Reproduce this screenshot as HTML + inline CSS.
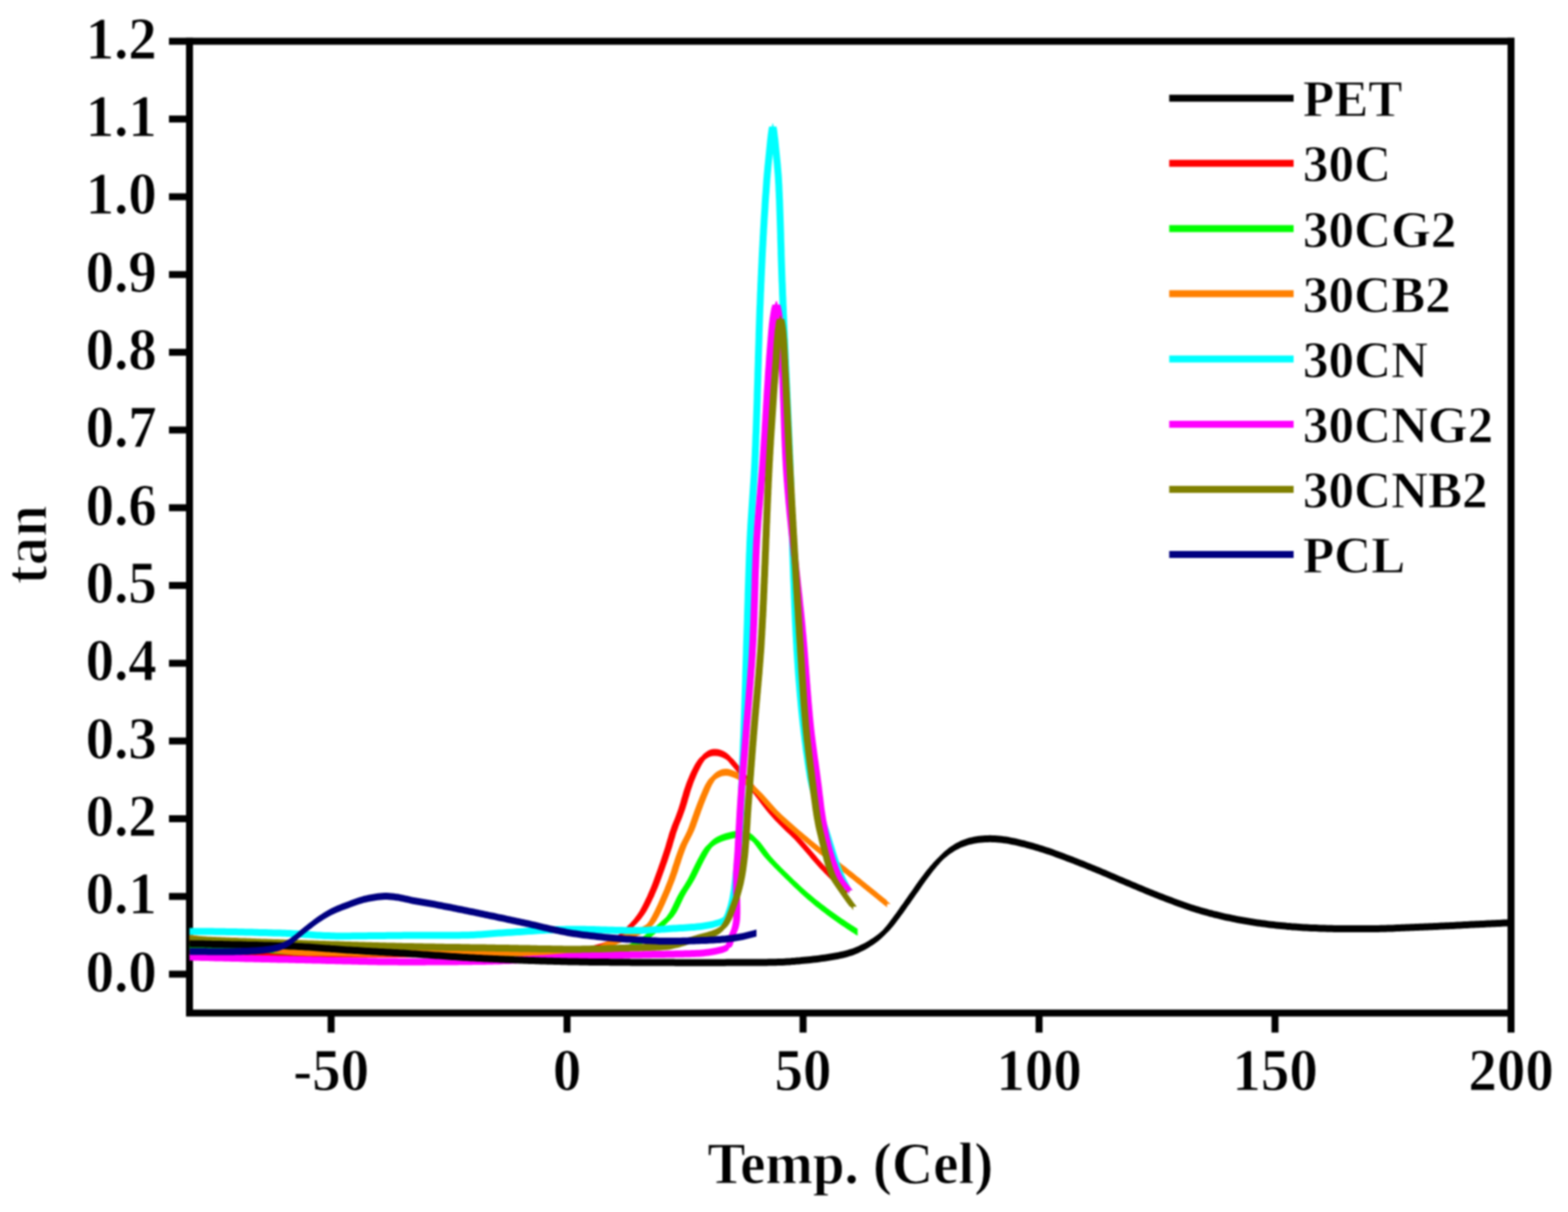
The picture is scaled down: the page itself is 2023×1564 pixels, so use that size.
<!DOCTYPE html>
<html lang="en"><head><meta charset="utf-8"><title>tan delta vs temperature</title>
<style>html,body{margin:0;padding:0;background:#fff;}body{width:2023px;height:1564px;overflow:hidden;}svg{display:block;}text{font-family:'Liberation Serif', 'DejaVu Serif', serif;font-weight:bold;fill:#000;}</style>
</head><body>
<svg width="2023" height="1564" viewBox="0 0 2023 1564" style="filter:blur(1.20px)">
<rect x="0" y="0" width="2023" height="1564" fill="#ffffff"/>
<g stroke="#000" stroke-width="9.0" fill="none" stroke-linecap="butt">
<path d="M244.5 48.8 V1307.3 H1949.5 V48.8" />
<path d="M218.0 53.3 H1954.0" />
<path d="M218.0 1257.1 H244.5"/>
<path d="M218.0 1156.8 H244.5"/>
<path d="M218.0 1056.5 H244.5"/>
<path d="M218.0 956.2 H244.5"/>
<path d="M218.0 855.9 H244.5"/>
<path d="M218.0 755.5 H244.5"/>
<path d="M218.0 655.2 H244.5"/>
<path d="M218.0 554.9 H244.5"/>
<path d="M218.0 454.6 H244.5"/>
<path d="M218.0 354.3 H244.5"/>
<path d="M218.0 253.9 H244.5"/>
<path d="M218.0 153.6 H244.5"/>
<path d="M427.2 1307.3 V1332.5"/>
<path d="M731.6 1307.3 V1332.5"/>
<path d="M1036.1 1307.3 V1332.5"/>
<path d="M1340.6 1307.3 V1332.5"/>
<path d="M1645.0 1307.3 V1332.5"/>
<path d="M1949.5 1307.3 V1332.5"/>
</g>
<clipPath id="plotclip"><rect x="244.0" y="53.3" width="1706.0" height="1254.0"/></clipPath>
<g clip-path="url(#plotclip)" stroke="none" fill-rule="nonzero">
<path fill="#ff0000" d="M244.5 1225.5 L247.5 1225.5 L250.5 1225.6 L253.5 1225.6 L256.5 1225.6 L259.5 1225.7 L262.5 1225.7 L265.5 1225.7 L268.6 1225.7 L271.6 1225.8 L274.6 1225.8 L277.6 1225.8 L280.6 1225.8 L283.6 1225.9 L286.6 1225.9 L289.6 1225.9 L292.6 1225.9 L295.6 1226.0 L298.6 1226.0 L301.6 1226.0 L304.6 1226.0 L307.6 1226.0 L310.6 1226.1 L313.7 1226.1 L316.7 1226.1 L319.7 1226.1 L322.7 1226.1 L325.7 1226.2 L328.7 1226.2 L331.7 1226.2 L334.7 1226.2 L337.7 1226.2 L340.7 1226.2 L343.7 1226.2 L346.7 1226.3 L349.7 1226.3 L352.7 1226.3 L355.7 1226.3 L358.7 1226.3 L361.8 1226.3 L364.8 1226.3 L367.8 1226.3 L370.8 1226.4 L373.8 1226.4 L376.8 1226.4 L379.8 1226.4 L382.8 1226.4 L385.8 1226.4 L388.8 1226.4 L391.8 1226.4 L394.8 1226.4 L397.8 1226.4 L400.8 1226.4 L403.8 1226.4 L406.9 1226.4 L409.9 1226.5 L412.9 1226.5 L415.9 1226.5 L418.9 1226.5 L421.9 1226.5 L424.9 1226.5 L427.9 1226.5 L430.9 1226.5 L433.9 1226.5 L436.9 1226.5 L439.9 1226.5 L442.9 1226.5 L445.9 1226.5 L448.9 1226.5 L452.0 1226.5 L455.0 1226.5 L458.0 1226.5 L461.0 1226.5 L464.0 1226.5 L467.0 1226.5 L470.0 1226.5 L473.0 1226.5 L476.0 1226.5 L479.0 1226.5 L482.0 1226.5 L485.0 1226.5 L488.0 1226.5 L491.0 1226.5 L494.0 1226.5 L497.1 1226.5 L500.1 1226.5 L503.1 1226.4 L506.1 1226.4 L509.1 1226.4 L512.1 1226.4 L515.1 1226.4 L518.1 1226.4 L521.1 1226.4 L524.1 1226.4 L527.1 1226.4 L530.1 1226.3 L533.1 1226.3 L536.1 1226.3 L539.1 1226.3 L542.2 1226.3 L545.2 1226.3 L548.2 1226.2 L551.2 1226.2 L554.2 1226.2 L557.2 1226.2 L560.2 1226.2 L563.2 1226.1 L566.2 1226.1 L569.2 1226.1 L572.2 1226.1 L575.2 1226.0 L578.2 1226.0 L581.2 1226.0 L584.3 1226.0 L587.3 1225.9 L590.3 1225.9 L593.3 1225.9 L596.3 1225.9 L599.3 1225.8 L602.3 1225.8 L605.3 1225.8 L608.3 1225.7 L611.3 1225.7 L614.3 1225.7 L617.3 1225.6 L620.3 1225.6 L623.3 1225.6 L626.3 1225.5 L629.3 1225.5 L632.4 1225.5 L635.4 1225.4 L638.4 1225.4 L641.4 1225.4 L644.4 1225.3 L647.4 1225.3 L650.4 1225.2 L653.4 1225.2 L656.4 1225.2 L659.4 1225.1 L662.4 1225.1 L665.4 1225.0 L668.4 1225.0 L671.4 1224.9 L674.4 1224.9 L677.4 1224.9 L680.5 1224.8 L683.5 1224.8 L686.5 1224.7 L689.5 1224.7 L692.5 1224.6 L695.5 1224.6 L698.5 1224.5 L701.5 1224.5 L704.5 1224.4 L707.5 1224.3 L710.5 1224.3 L713.5 1224.2 L716.5 1224.1 L719.6 1224.0 L722.6 1223.9 L725.6 1223.8 L728.6 1223.7 L731.6 1223.5 L734.6 1223.4 L737.6 1223.2 L740.6 1223.1 L743.6 1222.9 L746.6 1222.7 L749.6 1222.4 L752.5 1222.1 L755.5 1221.7 L758.5 1221.3 L761.5 1220.8 L764.4 1220.2 L767.4 1219.5 L770.3 1218.8 L773.2 1218.1 L776.1 1217.2 L779.0 1216.3 L781.8 1215.3 L784.6 1214.2 L787.3 1213.0 L790.0 1211.7 L792.5 1210.2 L794.9 1208.6 L797.3 1206.8 L799.6 1204.9 L801.8 1202.9 L804.0 1200.8 L806.2 1198.6 L808.3 1196.4 L810.4 1194.2 L812.6 1192.0 L814.7 1189.8 L816.8 1187.7 L818.8 1185.5 L820.9 1183.2 L822.8 1180.9 L824.6 1178.6 L826.3 1176.2 L828.0 1173.7 L829.6 1171.2 L831.1 1168.6 L832.5 1165.9 L833.9 1163.3 L835.3 1160.6 L836.6 1157.8 L837.9 1155.1 L839.2 1152.4 L840.4 1149.6 L841.6 1146.8 L842.8 1144.1 L844.0 1141.3 L845.1 1138.5 L846.2 1135.7 L847.2 1132.9 L848.3 1130.0 L849.3 1127.2 L850.3 1124.4 L851.4 1121.6 L852.4 1118.7 L853.4 1115.9 L854.4 1113.1 L855.4 1110.2 L856.4 1107.4 L857.4 1104.5 L858.3 1101.7 L859.3 1098.8 L860.2 1096.0 L861.2 1093.1 L862.1 1090.3 L863.0 1087.4 L863.8 1084.5 L864.7 1081.6 L865.5 1078.8 L866.4 1075.9 L867.2 1073.0 L868.1 1070.1 L869.1 1067.3 L870.1 1064.4 L871.1 1061.6 L872.2 1058.8 L873.3 1056.0 L874.5 1053.2 L875.6 1050.4 L876.7 1047.6 L877.7 1044.8 L878.7 1042.0 L879.7 1039.2 L880.6 1036.3 L881.5 1033.4 L882.4 1030.5 L883.2 1027.6 L884.0 1024.8 L884.9 1021.9 L885.7 1019.0 L886.6 1016.1 L887.5 1013.2 L888.5 1010.4 L889.5 1007.6 L890.5 1004.7 L891.6 1001.9 L892.8 999.2 L893.9 996.4 L895.2 993.6 L896.4 990.9 L897.8 988.2 L899.2 985.5 L900.6 982.8 L902.1 980.2 L903.8 977.7 L905.6 975.3 L907.6 973.1 L909.8 971.2 L912.2 969.5 L914.8 968.1 L917.5 967.1 L920.3 966.6 L923.2 966.5 L926.2 966.8 L929.1 967.5 L931.9 968.5 L934.5 969.7 L937.0 971.2 L939.2 973.0 L941.4 975.0 L943.4 977.3 L945.3 979.6 L947.3 981.9 L949.3 984.2 L951.2 986.5 L953.1 988.8 L955.0 991.1 L956.9 993.5 L958.7 995.9 L960.6 998.2 L962.4 1000.6 L964.2 1003.1 L966.0 1005.5 L967.8 1007.9 L969.6 1010.3 L971.4 1012.7 L973.2 1015.1 L975.0 1017.5 L976.8 1019.9 L978.6 1022.3 L980.5 1024.7 L982.3 1027.1 L984.1 1029.5 L985.9 1031.9 L987.7 1034.3 L989.6 1036.7 L991.4 1039.1 L993.3 1041.4 L995.2 1043.7 L997.1 1046.0 L999.1 1048.3 L1001.1 1050.5 L1003.1 1052.7 L1005.2 1054.9 L1007.3 1057.1 L1009.4 1059.2 L1011.5 1061.3 L1013.7 1063.4 L1015.9 1065.5 L1018.1 1067.5 L1020.2 1069.6 L1022.4 1071.7 L1024.6 1073.8 L1026.7 1075.9 L1028.8 1078.1 L1030.9 1080.2 L1032.9 1082.4 L1034.9 1084.7 L1036.9 1086.9 L1038.9 1089.2 L1040.9 1091.4 L1042.8 1093.7 L1044.8 1096.0 L1046.7 1098.3 L1048.7 1100.6 L1050.6 1102.9 L1052.6 1105.2 L1054.6 1107.4 L1056.6 1109.7 L1058.6 1111.9 L1060.6 1114.2 L1062.6 1116.4 L1064.7 1118.6 L1066.8 1120.7 L1068.9 1122.9 L1071.0 1125.0 L1073.1 1127.2 L1075.2 1129.3 L1077.4 1131.3 L1079.6 1133.4 L1081.8 1135.5 L1084.0 1137.5 L1086.2 1139.5 L1088.5 1141.5 L1090.7 1143.5 L1093.0 1145.5 L1093.0 1154.5 L1090.7 1152.5 L1088.5 1150.5 L1086.2 1148.5 L1084.0 1146.5 L1081.8 1144.5 L1079.6 1142.4 L1077.4 1140.3 L1075.2 1138.3 L1073.1 1136.2 L1071.0 1134.0 L1068.9 1131.9 L1066.8 1129.7 L1064.7 1127.6 L1062.6 1125.4 L1060.6 1123.2 L1058.6 1120.9 L1056.6 1118.7 L1054.6 1116.4 L1052.6 1114.2 L1050.6 1111.9 L1048.7 1109.6 L1046.7 1107.3 L1044.8 1105.0 L1042.8 1102.7 L1040.9 1100.4 L1038.9 1098.2 L1036.9 1095.9 L1034.9 1093.7 L1032.9 1091.4 L1030.9 1089.2 L1028.8 1087.1 L1026.7 1084.9 L1024.6 1082.8 L1022.4 1080.7 L1020.2 1078.6 L1018.1 1076.5 L1015.9 1074.5 L1013.7 1072.4 L1011.5 1070.3 L1009.4 1068.2 L1007.3 1066.1 L1005.2 1063.9 L1003.1 1061.7 L1001.1 1059.5 L999.1 1057.3 L997.1 1055.0 L995.2 1052.7 L993.3 1050.4 L991.4 1048.1 L989.6 1045.7 L987.7 1043.3 L985.9 1040.9 L984.1 1038.5 L982.3 1036.1 L980.5 1033.7 L978.6 1031.3 L976.8 1028.9 L975.0 1026.5 L973.2 1024.1 L971.4 1021.7 L969.6 1019.3 L967.8 1016.9 L966.0 1014.5 L964.2 1012.1 L962.4 1009.6 L960.6 1007.2 L958.7 1004.9 L956.9 1002.5 L955.0 1000.1 L953.1 997.8 L951.2 995.5 L949.3 993.2 L947.3 990.9 L945.3 988.6 L943.4 986.3 L941.4 984.0 L939.2 982.0 L937.0 980.2 L934.5 978.7 L931.9 977.5 L929.1 976.5 L926.2 975.8 L923.2 975.5 L920.3 975.6 L917.5 976.1 L914.8 977.1 L912.2 978.5 L909.8 980.2 L907.6 982.1 L905.6 984.3 L903.8 986.7 L902.1 989.2 L900.6 991.8 L899.2 994.5 L897.8 997.2 L896.4 999.9 L895.2 1002.6 L893.9 1005.4 L892.8 1008.2 L891.6 1010.9 L890.5 1013.7 L889.5 1016.6 L888.5 1019.4 L887.5 1022.2 L886.6 1025.1 L885.7 1028.0 L884.9 1030.9 L884.0 1033.8 L883.2 1036.6 L882.4 1039.5 L881.5 1042.4 L880.6 1045.3 L879.7 1048.2 L878.7 1051.0 L877.7 1053.8 L876.7 1056.6 L875.6 1059.4 L874.5 1062.2 L873.3 1065.0 L872.2 1067.8 L871.1 1070.6 L870.1 1073.4 L869.1 1076.3 L868.1 1079.1 L867.2 1082.0 L866.4 1084.9 L865.5 1087.8 L864.7 1090.6 L863.8 1093.5 L863.0 1096.4 L862.1 1099.3 L861.2 1102.1 L860.2 1105.0 L859.3 1107.8 L858.3 1110.7 L857.4 1113.5 L856.4 1116.4 L855.4 1119.2 L854.4 1122.1 L853.4 1124.9 L852.4 1127.7 L851.4 1130.6 L850.3 1133.4 L849.3 1136.2 L848.3 1139.0 L847.2 1141.9 L846.2 1144.7 L845.1 1147.5 L844.0 1150.3 L842.8 1153.1 L841.6 1155.8 L840.4 1158.6 L839.2 1161.4 L837.9 1164.1 L836.6 1166.8 L835.3 1169.6 L833.9 1172.3 L832.5 1174.9 L831.1 1177.6 L829.6 1180.2 L828.0 1182.7 L826.3 1185.2 L824.6 1187.6 L822.8 1189.9 L820.9 1192.2 L818.8 1194.5 L816.8 1196.7 L814.7 1198.8 L812.6 1201.0 L810.4 1203.2 L808.3 1205.4 L806.2 1207.6 L804.0 1209.8 L801.8 1211.9 L799.6 1213.9 L797.3 1215.8 L794.9 1217.6 L792.5 1219.2 L790.0 1220.7 L787.3 1222.0 L784.6 1223.2 L781.8 1224.3 L779.0 1225.3 L776.1 1226.2 L773.2 1227.1 L770.3 1227.8 L767.4 1228.5 L764.4 1229.2 L761.5 1229.8 L758.5 1230.3 L755.5 1230.7 L752.5 1231.1 L749.6 1231.4 L746.6 1231.7 L743.6 1231.9 L740.6 1232.1 L737.6 1232.2 L734.6 1232.4 L731.6 1232.5 L728.6 1232.7 L725.6 1232.8 L722.6 1232.9 L719.6 1233.0 L716.5 1233.1 L713.5 1233.2 L710.5 1233.3 L707.5 1233.3 L704.5 1233.4 L701.5 1233.5 L698.5 1233.5 L695.5 1233.6 L692.5 1233.6 L689.5 1233.7 L686.5 1233.7 L683.5 1233.8 L680.5 1233.8 L677.4 1233.9 L674.4 1233.9 L671.4 1233.9 L668.4 1234.0 L665.4 1234.0 L662.4 1234.1 L659.4 1234.1 L656.4 1234.2 L653.4 1234.2 L650.4 1234.2 L647.4 1234.3 L644.4 1234.3 L641.4 1234.4 L638.4 1234.4 L635.4 1234.4 L632.4 1234.5 L629.3 1234.5 L626.3 1234.5 L623.3 1234.6 L620.3 1234.6 L617.3 1234.6 L614.3 1234.7 L611.3 1234.7 L608.3 1234.7 L605.3 1234.8 L602.3 1234.8 L599.3 1234.8 L596.3 1234.9 L593.3 1234.9 L590.3 1234.9 L587.3 1234.9 L584.3 1235.0 L581.2 1235.0 L578.2 1235.0 L575.2 1235.0 L572.2 1235.1 L569.2 1235.1 L566.2 1235.1 L563.2 1235.1 L560.2 1235.2 L557.2 1235.2 L554.2 1235.2 L551.2 1235.2 L548.2 1235.2 L545.2 1235.3 L542.2 1235.3 L539.1 1235.3 L536.1 1235.3 L533.1 1235.3 L530.1 1235.3 L527.1 1235.4 L524.1 1235.4 L521.1 1235.4 L518.1 1235.4 L515.1 1235.4 L512.1 1235.4 L509.1 1235.4 L506.1 1235.4 L503.1 1235.4 L500.1 1235.5 L497.1 1235.5 L494.0 1235.5 L491.0 1235.5 L488.0 1235.5 L485.0 1235.5 L482.0 1235.5 L479.0 1235.5 L476.0 1235.5 L473.0 1235.5 L470.0 1235.5 L467.0 1235.5 L464.0 1235.5 L461.0 1235.5 L458.0 1235.5 L455.0 1235.5 L452.0 1235.5 L448.9 1235.5 L445.9 1235.5 L442.9 1235.5 L439.9 1235.5 L436.9 1235.5 L433.9 1235.5 L430.9 1235.5 L427.9 1235.5 L424.9 1235.5 L421.9 1235.5 L418.9 1235.5 L415.9 1235.5 L412.9 1235.5 L409.9 1235.5 L406.9 1235.4 L403.8 1235.4 L400.8 1235.4 L397.8 1235.4 L394.8 1235.4 L391.8 1235.4 L388.8 1235.4 L385.8 1235.4 L382.8 1235.4 L379.8 1235.4 L376.8 1235.4 L373.8 1235.4 L370.8 1235.4 L367.8 1235.3 L364.8 1235.3 L361.8 1235.3 L358.7 1235.3 L355.7 1235.3 L352.7 1235.3 L349.7 1235.3 L346.7 1235.3 L343.7 1235.2 L340.7 1235.2 L337.7 1235.2 L334.7 1235.2 L331.7 1235.2 L328.7 1235.2 L325.7 1235.2 L322.7 1235.1 L319.7 1235.1 L316.7 1235.1 L313.7 1235.1 L310.6 1235.1 L307.6 1235.0 L304.6 1235.0 L301.6 1235.0 L298.6 1235.0 L295.6 1235.0 L292.6 1234.9 L289.6 1234.9 L286.6 1234.9 L283.6 1234.9 L280.6 1234.8 L277.6 1234.8 L274.6 1234.8 L271.6 1234.8 L268.6 1234.7 L265.5 1234.7 L262.5 1234.7 L259.5 1234.7 L256.5 1234.6 L253.5 1234.6 L250.5 1234.6 L247.5 1234.5 L244.5 1234.5Z M916.7 974.0 L914.3 975.7 L912.1 977.6 L910.1 979.8 L908.3 982.2 L906.6 984.7 L905.1 987.3 L903.7 990.0 L902.3 992.7 L900.9 995.4 L899.7 998.1 L898.4 1000.9 L897.3 1003.7 L896.1 1006.4 L895.0 1009.2 L894.0 1012.1 L893.0 1014.9 L892.0 1017.7 L891.1 1020.6 L890.2 1023.5 L889.4 1026.4 L888.5 1029.3 L887.7 1032.1 L886.9 1035.0 L886.0 1037.9 L885.1 1040.8 L884.2 1043.7 L883.2 1046.5 L882.2 1049.3 L881.2 1052.1 L880.1 1054.9 L879.0 1057.7 L877.8 1060.5 L876.7 1063.3 L875.6 1066.1 L874.6 1068.9 L873.6 1071.8 L872.6 1074.6 L871.7 1077.5 L870.9 1080.4 L870.0 1083.3 L869.2 1086.1 L868.3 1089.0 L867.5 1091.9 L866.6 1094.8 L865.7 1097.6 L864.7 1100.5 L863.8 1103.3 L862.8 1106.2 L861.9 1109.0 L860.9 1111.9 L859.9 1114.7 L858.9 1117.6 L857.9 1120.4 L856.9 1123.2 L855.9 1126.1 L854.8 1128.9 L853.8 1131.7 L852.8 1134.5 L851.7 1137.4 L850.7 1140.2 L849.6 1143.0 L848.5 1145.8 L847.3 1148.6 L846.1 1151.3 L844.9 1154.1 L843.7 1156.9 L842.4 1159.6 L841.1 1162.3 L839.8 1165.1 L838.4 1167.8 L837.0 1170.4 L835.6 1173.1 L834.1 1175.7 L832.5 1178.2 L830.8 1180.7 L829.1 1183.1 L827.3 1185.4 L825.4 1187.7 L823.3 1190.0 L821.3 1192.2 L819.2 1194.3 L817.1 1196.5 L814.9 1198.7 L812.8 1200.9 L810.7 1203.1 L808.5 1205.3 L806.3 1207.4 L804.1 1209.4 L801.8 1211.3 L799.4 1213.1 L790.4 1213.1 L792.8 1211.3 L795.1 1209.4 L797.3 1207.4 L799.5 1205.3 L801.7 1203.1 L803.8 1200.9 L805.9 1198.7 L808.1 1196.5 L810.2 1194.3 L812.3 1192.2 L814.3 1190.0 L816.4 1187.7 L818.3 1185.4 L820.1 1183.1 L821.8 1180.7 L823.5 1178.2 L825.1 1175.7 L826.6 1173.1 L828.0 1170.4 L829.4 1167.8 L830.8 1165.1 L832.1 1162.3 L833.4 1159.6 L834.7 1156.9 L835.9 1154.1 L837.1 1151.3 L838.3 1148.6 L839.5 1145.8 L840.6 1143.0 L841.7 1140.2 L842.7 1137.4 L843.8 1134.5 L844.8 1131.7 L845.8 1128.9 L846.9 1126.1 L847.9 1123.2 L848.9 1120.4 L849.9 1117.6 L850.9 1114.7 L851.9 1111.9 L852.9 1109.0 L853.8 1106.2 L854.8 1103.3 L855.7 1100.5 L856.7 1097.6 L857.6 1094.8 L858.5 1091.9 L859.3 1089.0 L860.2 1086.1 L861.0 1083.3 L861.9 1080.4 L862.7 1077.5 L863.6 1074.6 L864.6 1071.8 L865.6 1068.9 L866.6 1066.1 L867.7 1063.3 L868.8 1060.5 L870.0 1057.7 L871.1 1054.9 L872.2 1052.1 L873.2 1049.3 L874.2 1046.5 L875.2 1043.7 L876.1 1040.8 L877.0 1037.9 L877.9 1035.0 L878.7 1032.1 L879.5 1029.3 L880.4 1026.4 L881.2 1023.5 L882.1 1020.6 L883.0 1017.7 L884.0 1014.9 L885.0 1012.1 L886.0 1009.2 L887.1 1006.4 L888.3 1003.7 L889.4 1000.9 L890.7 998.1 L891.9 995.4 L893.3 992.7 L894.7 990.0 L896.1 987.3 L897.6 984.7 L899.3 982.2 L901.1 979.8 L903.1 977.6 L905.3 975.7 L907.7 974.0Z M941.5 975.7 L943.7 977.5 L945.9 979.5 L947.9 981.8 L949.8 984.1 L951.8 986.4 L953.8 988.7 L955.7 991.0 L957.6 993.3 L959.5 995.6 L961.4 998.0 L963.2 1000.4 L965.1 1002.7 L966.9 1005.1 L968.7 1007.6 L970.5 1010.0 L972.3 1012.4 L974.1 1014.8 L975.9 1017.2 L977.7 1019.6 L979.5 1022.0 L981.3 1024.4 L983.1 1026.8 L985.0 1029.2 L986.8 1031.6 L988.6 1034.0 L990.4 1036.4 L992.2 1038.8 L994.1 1041.2 L995.9 1043.6 L997.8 1045.9 L999.7 1048.2 L1001.6 1050.5 L1003.6 1052.8 L1005.6 1055.0 L1007.6 1057.2 L1009.7 1059.4 L1011.8 1061.6 L1013.9 1063.7 L1016.0 1065.8 L1018.2 1067.9 L1020.4 1070.0 L1022.6 1072.0 L1024.7 1074.1 L1026.9 1076.2 L1029.1 1078.3 L1031.2 1080.4 L1033.3 1082.6 L1035.4 1084.7 L1037.4 1086.9 L1039.4 1089.2 L1041.4 1091.4 L1043.4 1093.7 L1045.4 1095.9 L1047.3 1098.2 L1049.3 1100.5 L1051.2 1102.8 L1053.2 1105.1 L1055.1 1107.4 L1057.1 1109.7 L1059.1 1111.9 L1061.1 1114.2 L1063.1 1116.4 L1065.1 1118.7 L1067.1 1120.9 L1069.2 1123.1 L1071.3 1125.2 L1073.4 1127.4 L1075.5 1129.5 L1077.6 1131.7 L1079.7 1133.8 L1081.9 1135.8 L1084.1 1137.9 L1086.3 1140.0 L1088.5 1142.0 L1090.7 1144.0 L1093.0 1146.0 L1095.2 1148.0 L1097.5 1150.0 L1088.5 1150.0 L1086.2 1148.0 L1084.0 1146.0 L1081.7 1144.0 L1079.5 1142.0 L1077.3 1140.0 L1075.1 1137.9 L1072.9 1135.8 L1070.7 1133.8 L1068.6 1131.7 L1066.5 1129.5 L1064.4 1127.4 L1062.3 1125.2 L1060.2 1123.1 L1058.1 1120.9 L1056.1 1118.7 L1054.1 1116.4 L1052.1 1114.2 L1050.1 1111.9 L1048.1 1109.7 L1046.1 1107.4 L1044.2 1105.1 L1042.2 1102.8 L1040.3 1100.5 L1038.3 1098.2 L1036.4 1095.9 L1034.4 1093.7 L1032.4 1091.4 L1030.4 1089.2 L1028.4 1086.9 L1026.4 1084.7 L1024.3 1082.6 L1022.2 1080.4 L1020.1 1078.3 L1017.9 1076.2 L1015.7 1074.1 L1013.6 1072.0 L1011.4 1070.0 L1009.2 1067.9 L1007.0 1065.8 L1004.9 1063.7 L1002.8 1061.6 L1000.7 1059.4 L998.6 1057.2 L996.6 1055.0 L994.6 1052.8 L992.6 1050.5 L990.7 1048.2 L988.8 1045.9 L986.9 1043.6 L985.1 1041.2 L983.2 1038.8 L981.4 1036.4 L979.6 1034.0 L977.8 1031.6 L976.0 1029.2 L974.1 1026.8 L972.3 1024.4 L970.5 1022.0 L968.7 1019.6 L966.9 1017.2 L965.1 1014.8 L963.3 1012.4 L961.5 1010.0 L959.7 1007.6 L957.9 1005.1 L956.1 1002.7 L954.2 1000.4 L952.4 998.0 L950.5 995.6 L948.6 993.3 L946.7 991.0 L944.8 988.7 L942.8 986.4 L940.8 984.1 L938.9 981.8 L936.9 979.5 L934.7 977.5 L932.5 975.7Z"/>
<path fill="#00ff00" d="M244.5 1218.0 L247.5 1218.0 L250.5 1218.0 L253.5 1218.0 L256.5 1218.0 L259.5 1218.0 L262.6 1218.0 L265.6 1218.0 L268.6 1218.0 L271.6 1218.0 L274.6 1218.0 L277.6 1218.0 L280.6 1218.0 L283.6 1218.0 L286.6 1218.0 L289.6 1218.0 L292.6 1218.0 L295.6 1218.0 L298.6 1218.0 L301.6 1218.0 L304.6 1218.1 L307.6 1218.2 L310.7 1218.2 L313.7 1218.3 L316.7 1218.5 L319.7 1218.6 L322.7 1218.8 L325.7 1219.0 L328.7 1219.2 L331.7 1219.4 L334.7 1219.7 L337.7 1219.9 L340.7 1220.2 L343.7 1220.4 L346.7 1220.7 L349.7 1221.0 L352.7 1221.2 L355.7 1221.5 L358.7 1221.8 L361.7 1222.0 L364.7 1222.3 L367.7 1222.5 L370.7 1222.7 L373.7 1223.0 L376.7 1223.2 L379.7 1223.4 L382.7 1223.5 L385.7 1223.7 L388.7 1223.8 L391.7 1223.9 L394.7 1224.0 L397.7 1224.0 L400.7 1224.1 L403.7 1224.1 L406.7 1224.1 L409.7 1224.1 L412.7 1224.2 L415.7 1224.2 L418.7 1224.2 L421.7 1224.2 L424.7 1224.2 L427.7 1224.2 L430.8 1224.2 L433.8 1224.2 L436.8 1224.2 L439.8 1224.3 L442.8 1224.3 L445.8 1224.3 L448.8 1224.3 L451.8 1224.3 L454.8 1224.3 L457.8 1224.3 L460.8 1224.3 L463.8 1224.3 L466.8 1224.3 L469.8 1224.3 L472.8 1224.3 L475.9 1224.4 L478.9 1224.4 L481.9 1224.4 L484.9 1224.4 L487.9 1224.4 L490.9 1224.4 L493.9 1224.4 L496.9 1224.4 L499.9 1224.4 L502.9 1224.4 L505.9 1224.4 L508.9 1224.4 L512.0 1224.4 L515.0 1224.4 L518.0 1224.4 L521.0 1224.4 L524.0 1224.4 L527.0 1224.5 L530.0 1224.5 L533.0 1224.5 L536.0 1224.5 L539.0 1224.5 L542.0 1224.5 L545.0 1224.5 L548.1 1224.5 L551.1 1224.5 L554.1 1224.5 L557.1 1224.5 L560.1 1224.5 L563.1 1224.5 L566.1 1224.5 L569.1 1224.5 L572.1 1224.5 L575.1 1224.5 L578.1 1224.5 L581.1 1224.5 L584.2 1224.5 L587.2 1224.5 L590.2 1224.5 L593.2 1224.5 L596.2 1224.5 L599.2 1224.5 L602.2 1224.5 L605.2 1224.5 L608.2 1224.5 L611.2 1224.5 L614.2 1224.5 L617.2 1224.5 L620.2 1224.5 L623.3 1224.5 L626.3 1224.5 L629.3 1224.5 L632.3 1224.5 L635.3 1224.5 L638.3 1224.5 L641.3 1224.5 L644.3 1224.5 L647.3 1224.5 L650.3 1224.5 L653.3 1224.5 L656.3 1224.5 L659.4 1224.5 L662.4 1224.5 L665.4 1224.5 L668.4 1224.5 L671.4 1224.4 L674.4 1224.4 L677.4 1224.4 L680.4 1224.4 L683.4 1224.4 L686.4 1224.4 L689.4 1224.4 L692.4 1224.4 L695.5 1224.4 L698.5 1224.4 L701.5 1224.4 L704.5 1224.4 L707.5 1224.4 L710.5 1224.4 L713.5 1224.3 L716.5 1224.3 L719.5 1224.3 L722.5 1224.3 L725.5 1224.3 L728.5 1224.3 L731.5 1224.3 L734.5 1224.3 L737.6 1224.3 L740.6 1224.2 L743.6 1224.2 L746.6 1224.2 L749.6 1224.2 L752.6 1224.2 L755.6 1224.2 L758.6 1224.2 L761.6 1224.1 L764.6 1224.1 L767.6 1224.1 L770.6 1224.1 L773.7 1224.0 L776.7 1223.9 L779.7 1223.8 L782.7 1223.7 L785.8 1223.6 L788.8 1223.4 L791.8 1223.1 L794.7 1222.9 L797.7 1222.5 L800.6 1222.0 L803.5 1221.4 L806.3 1220.6 L809.1 1219.6 L811.9 1218.4 L814.7 1217.1 L817.4 1215.8 L820.0 1214.3 L822.7 1212.8 L825.2 1211.3 L827.7 1209.6 L830.2 1207.9 L832.7 1206.2 L835.1 1204.3 L837.5 1202.5 L839.8 1200.6 L842.1 1198.6 L844.4 1196.7 L846.6 1194.7 L848.9 1192.7 L851.2 1190.7 L853.5 1188.7 L855.8 1186.8 L858.1 1184.8 L860.3 1182.7 L862.3 1180.6 L864.3 1178.4 L866.0 1176.1 L867.6 1173.7 L869.1 1171.2 L870.5 1168.5 L871.9 1165.8 L873.2 1163.1 L874.5 1160.3 L875.8 1157.5 L877.1 1154.8 L878.5 1152.1 L879.9 1149.4 L881.5 1146.8 L883.0 1144.3 L884.7 1141.7 L886.3 1139.2 L887.9 1136.7 L889.5 1134.1 L891.0 1131.5 L892.4 1128.9 L893.8 1126.2 L895.2 1123.5 L896.5 1120.8 L897.8 1118.1 L899.1 1115.4 L900.4 1112.7 L901.8 1110.0 L903.2 1107.3 L904.6 1104.6 L906.0 1101.9 L907.5 1099.2 L909.0 1096.5 L910.5 1094.0 L912.2 1091.5 L914.0 1089.1 L915.9 1086.9 L918.0 1084.9 L920.2 1083.0 L922.7 1081.3 L925.2 1079.8 L927.9 1078.4 L930.6 1077.2 L933.4 1076.2 L936.3 1075.2 L939.2 1074.4 L942.1 1073.7 L945.1 1073.1 L948.0 1072.5 L951.0 1072.1 L953.9 1071.8 L956.9 1071.8 L959.8 1072.1 L962.6 1072.8 L965.3 1073.7 L967.8 1075.0 L970.2 1076.6 L972.4 1078.4 L974.4 1080.4 L976.4 1082.6 L978.3 1085.0 L980.2 1087.4 L982.0 1090.0 L983.9 1092.5 L985.7 1095.1 L987.6 1097.5 L989.5 1100.0 L991.5 1102.3 L993.5 1104.6 L995.6 1106.8 L997.6 1109.0 L999.7 1111.1 L1001.8 1113.3 L1003.9 1115.4 L1006.1 1117.6 L1008.2 1119.7 L1010.3 1121.8 L1012.5 1123.9 L1014.6 1126.0 L1016.8 1128.1 L1018.9 1130.2 L1021.1 1132.3 L1023.2 1134.4 L1025.4 1136.5 L1027.6 1138.6 L1029.8 1140.6 L1032.0 1142.7 L1034.2 1144.7 L1036.4 1146.8 L1038.7 1148.8 L1040.9 1150.7 L1043.2 1152.7 L1045.5 1154.6 L1047.8 1156.6 L1050.1 1158.5 L1052.4 1160.4 L1054.8 1162.3 L1057.1 1164.1 L1059.5 1166.0 L1061.9 1167.8 L1064.3 1169.6 L1066.7 1171.4 L1069.1 1173.2 L1071.5 1175.0 L1074.0 1176.7 L1076.4 1178.5 L1078.9 1180.2 L1081.3 1182.0 L1083.8 1183.7 L1086.3 1185.4 L1088.8 1187.1 L1091.3 1188.7 L1093.8 1190.4 L1096.3 1192.0 L1098.8 1193.7 L1101.4 1195.3 L1103.9 1196.9 L1106.5 1198.5 L1106.5 1207.5 L1103.9 1205.9 L1101.4 1204.3 L1098.8 1202.7 L1096.3 1201.0 L1093.8 1199.4 L1091.3 1197.7 L1088.8 1196.1 L1086.3 1194.4 L1083.8 1192.7 L1081.3 1191.0 L1078.9 1189.2 L1076.4 1187.5 L1074.0 1185.7 L1071.5 1184.0 L1069.1 1182.2 L1066.7 1180.4 L1064.3 1178.6 L1061.9 1176.8 L1059.5 1175.0 L1057.1 1173.1 L1054.8 1171.3 L1052.4 1169.4 L1050.1 1167.5 L1047.8 1165.6 L1045.5 1163.6 L1043.2 1161.7 L1040.9 1159.7 L1038.7 1157.8 L1036.4 1155.8 L1034.2 1153.7 L1032.0 1151.7 L1029.8 1149.6 L1027.6 1147.6 L1025.4 1145.5 L1023.2 1143.4 L1021.1 1141.3 L1018.9 1139.2 L1016.8 1137.1 L1014.6 1135.0 L1012.5 1132.9 L1010.3 1130.8 L1008.2 1128.7 L1006.1 1126.6 L1003.9 1124.4 L1001.8 1122.3 L999.7 1120.1 L997.6 1118.0 L995.6 1115.8 L993.5 1113.6 L991.5 1111.3 L989.5 1109.0 L987.6 1106.5 L985.7 1104.1 L983.9 1101.5 L982.0 1099.0 L980.2 1096.4 L978.3 1094.0 L976.4 1091.6 L974.4 1089.4 L972.4 1087.4 L970.2 1085.6 L967.8 1084.0 L965.3 1082.7 L962.6 1081.8 L959.8 1081.1 L956.9 1080.8 L953.9 1080.8 L951.0 1081.1 L948.0 1081.5 L945.1 1082.1 L942.1 1082.7 L939.2 1083.4 L936.3 1084.2 L933.4 1085.2 L930.6 1086.2 L927.9 1087.4 L925.2 1088.8 L922.7 1090.3 L920.2 1092.0 L918.0 1093.9 L915.9 1095.9 L914.0 1098.1 L912.2 1100.5 L910.5 1103.0 L909.0 1105.5 L907.5 1108.2 L906.0 1110.9 L904.6 1113.6 L903.2 1116.3 L901.8 1119.0 L900.4 1121.7 L899.1 1124.4 L897.8 1127.1 L896.5 1129.8 L895.2 1132.5 L893.8 1135.2 L892.4 1137.9 L891.0 1140.5 L889.5 1143.1 L887.9 1145.7 L886.3 1148.2 L884.7 1150.7 L883.0 1153.3 L881.5 1155.8 L879.9 1158.4 L878.5 1161.1 L877.1 1163.8 L875.8 1166.5 L874.5 1169.3 L873.2 1172.1 L871.9 1174.8 L870.5 1177.5 L869.1 1180.2 L867.6 1182.7 L866.0 1185.1 L864.3 1187.4 L862.3 1189.6 L860.3 1191.7 L858.1 1193.8 L855.8 1195.8 L853.5 1197.7 L851.2 1199.7 L848.9 1201.7 L846.6 1203.7 L844.4 1205.7 L842.1 1207.6 L839.8 1209.6 L837.5 1211.5 L835.1 1213.3 L832.7 1215.2 L830.2 1216.9 L827.7 1218.6 L825.2 1220.3 L822.7 1221.8 L820.0 1223.3 L817.4 1224.8 L814.7 1226.1 L811.9 1227.4 L809.1 1228.6 L806.3 1229.6 L803.5 1230.4 L800.6 1231.0 L797.7 1231.5 L794.7 1231.9 L791.8 1232.1 L788.8 1232.4 L785.8 1232.6 L782.7 1232.7 L779.7 1232.8 L776.7 1232.9 L773.7 1233.0 L770.6 1233.1 L767.6 1233.1 L764.6 1233.1 L761.6 1233.1 L758.6 1233.2 L755.6 1233.2 L752.6 1233.2 L749.6 1233.2 L746.6 1233.2 L743.6 1233.2 L740.6 1233.2 L737.6 1233.3 L734.5 1233.3 L731.5 1233.3 L728.5 1233.3 L725.5 1233.3 L722.5 1233.3 L719.5 1233.3 L716.5 1233.3 L713.5 1233.3 L710.5 1233.4 L707.5 1233.4 L704.5 1233.4 L701.5 1233.4 L698.5 1233.4 L695.5 1233.4 L692.4 1233.4 L689.4 1233.4 L686.4 1233.4 L683.4 1233.4 L680.4 1233.4 L677.4 1233.4 L674.4 1233.4 L671.4 1233.4 L668.4 1233.5 L665.4 1233.5 L662.4 1233.5 L659.4 1233.5 L656.3 1233.5 L653.3 1233.5 L650.3 1233.5 L647.3 1233.5 L644.3 1233.5 L641.3 1233.5 L638.3 1233.5 L635.3 1233.5 L632.3 1233.5 L629.3 1233.5 L626.3 1233.5 L623.3 1233.5 L620.2 1233.5 L617.2 1233.5 L614.2 1233.5 L611.2 1233.5 L608.2 1233.5 L605.2 1233.5 L602.2 1233.5 L599.2 1233.5 L596.2 1233.5 L593.2 1233.5 L590.2 1233.5 L587.2 1233.5 L584.2 1233.5 L581.1 1233.5 L578.1 1233.5 L575.1 1233.5 L572.1 1233.5 L569.1 1233.5 L566.1 1233.5 L563.1 1233.5 L560.1 1233.5 L557.1 1233.5 L554.1 1233.5 L551.1 1233.5 L548.1 1233.5 L545.0 1233.5 L542.0 1233.5 L539.0 1233.5 L536.0 1233.5 L533.0 1233.5 L530.0 1233.5 L527.0 1233.5 L524.0 1233.4 L521.0 1233.4 L518.0 1233.4 L515.0 1233.4 L512.0 1233.4 L508.9 1233.4 L505.9 1233.4 L502.9 1233.4 L499.9 1233.4 L496.9 1233.4 L493.9 1233.4 L490.9 1233.4 L487.9 1233.4 L484.9 1233.4 L481.9 1233.4 L478.9 1233.4 L475.9 1233.4 L472.8 1233.3 L469.8 1233.3 L466.8 1233.3 L463.8 1233.3 L460.8 1233.3 L457.8 1233.3 L454.8 1233.3 L451.8 1233.3 L448.8 1233.3 L445.8 1233.3 L442.8 1233.3 L439.8 1233.3 L436.8 1233.2 L433.8 1233.2 L430.8 1233.2 L427.7 1233.2 L424.7 1233.2 L421.7 1233.2 L418.7 1233.2 L415.7 1233.2 L412.7 1233.2 L409.7 1233.1 L406.7 1233.1 L403.7 1233.1 L400.7 1233.1 L397.7 1233.0 L394.7 1233.0 L391.7 1232.9 L388.7 1232.8 L385.7 1232.7 L382.7 1232.5 L379.7 1232.4 L376.7 1232.2 L373.7 1232.0 L370.7 1231.7 L367.7 1231.5 L364.7 1231.3 L361.7 1231.0 L358.7 1230.8 L355.7 1230.5 L352.7 1230.2 L349.7 1230.0 L346.7 1229.7 L343.7 1229.4 L340.7 1229.2 L337.7 1228.9 L334.7 1228.7 L331.7 1228.4 L328.7 1228.2 L325.7 1228.0 L322.7 1227.8 L319.7 1227.6 L316.7 1227.5 L313.7 1227.3 L310.7 1227.2 L307.6 1227.2 L304.6 1227.1 L301.6 1227.0 L298.6 1227.0 L295.6 1227.0 L292.6 1227.0 L289.6 1227.0 L286.6 1227.0 L283.6 1227.0 L280.6 1227.0 L277.6 1227.0 L274.6 1227.0 L271.6 1227.0 L268.6 1227.0 L265.6 1227.0 L262.6 1227.0 L259.5 1227.0 L256.5 1227.0 L253.5 1227.0 L250.5 1227.0 L247.5 1227.0 L244.5 1227.0Z M924.7 1087.5 L922.5 1089.4 L920.4 1091.4 L918.5 1093.6 L916.7 1096.0 L915.0 1098.5 L913.5 1101.0 L912.0 1103.7 L910.5 1106.4 L909.1 1109.1 L907.7 1111.8 L906.3 1114.5 L904.9 1117.2 L903.6 1119.9 L902.3 1122.6 L901.0 1125.3 L899.7 1128.0 L898.3 1130.7 L896.9 1133.4 L895.5 1136.0 L894.0 1138.6 L892.4 1141.2 L890.8 1143.7 L889.2 1146.2 L887.5 1148.8 L886.0 1151.3 L884.4 1153.9 L883.0 1156.6 L881.6 1159.3 L880.3 1162.0 L879.0 1164.8 L877.7 1167.6 L876.4 1170.3 L875.0 1173.0 L873.6 1175.7 L872.1 1178.2 L870.5 1180.6 L868.8 1182.9 L866.8 1185.1 L864.8 1187.2 L862.6 1189.3 L860.3 1191.3 L858.0 1193.2 L855.7 1195.2 L853.4 1197.2 L851.1 1199.2 L848.9 1201.2 L846.6 1203.1 L844.3 1205.1 L842.0 1207.0 L839.6 1208.8 L837.2 1210.7 L834.7 1212.4 L825.7 1212.4 L828.2 1210.7 L830.6 1208.8 L833.0 1207.0 L835.3 1205.1 L837.6 1203.1 L839.9 1201.2 L842.1 1199.2 L844.4 1197.2 L846.7 1195.2 L849.0 1193.2 L851.3 1191.3 L853.6 1189.3 L855.8 1187.2 L857.8 1185.1 L859.8 1182.9 L861.5 1180.6 L863.1 1178.2 L864.6 1175.7 L866.0 1173.0 L867.4 1170.3 L868.7 1167.6 L870.0 1164.8 L871.3 1162.0 L872.6 1159.3 L874.0 1156.6 L875.4 1153.9 L877.0 1151.3 L878.5 1148.8 L880.2 1146.2 L881.8 1143.7 L883.4 1141.2 L885.0 1138.6 L886.5 1136.0 L887.9 1133.4 L889.3 1130.7 L890.7 1128.0 L892.0 1125.3 L893.3 1122.6 L894.6 1119.9 L895.9 1117.2 L897.3 1114.5 L898.7 1111.8 L900.1 1109.1 L901.5 1106.4 L903.0 1103.7 L904.5 1101.0 L906.0 1098.5 L907.7 1096.0 L909.5 1093.6 L911.4 1091.4 L913.5 1089.4 L915.7 1087.5Z M974.7 1081.1 L976.9 1082.9 L978.9 1084.9 L980.9 1087.1 L982.8 1089.5 L984.7 1091.9 L986.5 1094.5 L988.4 1097.0 L990.2 1099.6 L992.1 1102.0 L994.0 1104.5 L996.0 1106.8 L998.0 1109.1 L1000.1 1111.3 L1002.1 1113.5 L1004.2 1115.6 L1006.3 1117.8 L1008.4 1119.9 L1010.6 1122.1 L1012.7 1124.2 L1014.8 1126.3 L1017.0 1128.4 L1019.1 1130.5 L1021.3 1132.6 L1023.4 1134.7 L1025.6 1136.8 L1027.7 1138.9 L1029.9 1141.0 L1032.1 1143.1 L1034.3 1145.1 L1036.5 1147.2 L1038.7 1149.2 L1040.9 1151.3 L1043.2 1153.3 L1045.4 1155.2 L1047.7 1157.2 L1050.0 1159.1 L1052.3 1161.1 L1054.6 1163.0 L1056.9 1164.9 L1059.3 1166.8 L1061.6 1168.6 L1064.0 1170.5 L1066.4 1172.3 L1068.8 1174.1 L1071.2 1175.9 L1073.6 1177.7 L1076.0 1179.5 L1078.5 1181.2 L1080.9 1183.0 L1083.4 1184.7 L1085.8 1186.5 L1076.8 1186.5 L1074.4 1184.7 L1071.9 1183.0 L1069.5 1181.2 L1067.0 1179.5 L1064.6 1177.7 L1062.2 1175.9 L1059.8 1174.1 L1057.4 1172.3 L1055.0 1170.5 L1052.6 1168.6 L1050.3 1166.8 L1047.9 1164.9 L1045.6 1163.0 L1043.3 1161.1 L1041.0 1159.1 L1038.7 1157.2 L1036.4 1155.2 L1034.2 1153.3 L1031.9 1151.3 L1029.7 1149.2 L1027.5 1147.2 L1025.3 1145.1 L1023.1 1143.1 L1020.9 1141.0 L1018.7 1138.9 L1016.6 1136.8 L1014.4 1134.7 L1012.3 1132.6 L1010.1 1130.5 L1008.0 1128.4 L1005.8 1126.3 L1003.7 1124.2 L1001.6 1122.1 L999.4 1119.9 L997.3 1117.8 L995.2 1115.6 L993.1 1113.5 L991.1 1111.3 L989.0 1109.1 L987.0 1106.8 L985.0 1104.5 L983.1 1102.0 L981.2 1099.6 L979.4 1097.0 L977.5 1094.5 L975.7 1091.9 L973.8 1089.5 L971.9 1087.1 L969.9 1084.9 L967.9 1082.9 L965.7 1081.1Z"/>
<path fill="#ff8000" d="M244.5 1206.2 L247.5 1206.6 L250.5 1207.0 L253.4 1207.3 L256.4 1207.7 L259.4 1208.1 L262.4 1208.5 L265.4 1208.8 L268.3 1209.2 L271.3 1209.6 L274.3 1210.0 L277.3 1210.3 L280.3 1210.7 L283.3 1211.1 L286.2 1211.4 L289.2 1211.8 L292.2 1212.2 L295.2 1212.5 L298.2 1212.9 L301.1 1213.3 L304.1 1213.6 L307.1 1214.0 L310.1 1214.3 L313.1 1214.7 L316.1 1215.0 L319.0 1215.4 L322.0 1215.8 L325.0 1216.1 L328.0 1216.5 L331.0 1216.9 L334.0 1217.3 L336.9 1217.8 L339.9 1218.2 L342.9 1218.6 L345.9 1219.1 L348.9 1219.5 L351.9 1219.9 L354.8 1220.4 L357.8 1220.8 L360.8 1221.2 L363.8 1221.6 L366.8 1222.0 L369.8 1222.3 L372.8 1222.7 L375.7 1223.0 L378.7 1223.3 L381.7 1223.5 L384.7 1223.8 L387.7 1224.0 L390.7 1224.1 L393.7 1224.3 L396.7 1224.4 L399.7 1224.5 L402.7 1224.5 L405.7 1224.5 L408.6 1224.6 L411.6 1224.6 L414.6 1224.6 L417.6 1224.6 L420.6 1224.7 L423.6 1224.7 L426.6 1224.7 L429.6 1224.7 L432.6 1224.7 L435.7 1224.7 L438.7 1224.8 L441.7 1224.8 L444.7 1224.8 L447.7 1224.8 L450.7 1224.8 L453.7 1224.8 L456.7 1224.9 L459.7 1224.9 L462.7 1224.9 L465.7 1224.9 L468.7 1224.9 L471.7 1224.9 L474.7 1224.9 L477.7 1224.9 L480.7 1224.9 L483.8 1224.9 L486.8 1225.0 L489.8 1225.0 L492.8 1225.0 L495.8 1225.0 L498.8 1225.0 L501.8 1225.0 L504.8 1225.0 L507.8 1225.0 L510.8 1225.0 L513.8 1225.0 L516.8 1225.0 L519.8 1225.0 L522.8 1225.0 L525.8 1225.0 L528.9 1225.0 L531.9 1225.0 L534.9 1225.0 L537.9 1225.0 L540.9 1225.0 L543.9 1225.0 L546.9 1225.0 L549.9 1225.0 L552.9 1224.9 L555.9 1224.9 L558.9 1224.9 L561.9 1224.9 L564.9 1224.9 L567.9 1224.9 L570.9 1224.9 L573.9 1224.8 L576.9 1224.8 L579.9 1224.8 L582.9 1224.8 L585.9 1224.8 L588.9 1224.7 L591.9 1224.7 L595.0 1224.7 L598.0 1224.7 L601.0 1224.7 L604.0 1224.7 L607.0 1224.6 L610.0 1224.6 L613.0 1224.6 L616.0 1224.6 L619.0 1224.6 L622.0 1224.6 L625.0 1224.6 L628.0 1224.5 L631.0 1224.5 L634.0 1224.5 L637.0 1224.5 L640.0 1224.5 L643.0 1224.5 L646.0 1224.5 L649.0 1224.5 L652.0 1224.5 L655.0 1224.5 L658.0 1224.6 L661.1 1224.6 L664.1 1224.6 L667.1 1224.7 L670.1 1224.8 L673.1 1224.8 L676.1 1224.9 L679.1 1225.0 L682.1 1225.1 L685.1 1225.1 L688.1 1225.2 L691.1 1225.3 L694.1 1225.4 L697.1 1225.5 L700.1 1225.6 L703.2 1225.7 L706.2 1225.8 L709.2 1225.9 L712.2 1226.0 L715.2 1226.0 L718.2 1226.1 L721.2 1226.2 L724.2 1226.2 L727.2 1226.3 L730.2 1226.3 L733.2 1226.3 L736.2 1226.3 L739.2 1226.3 L742.2 1226.2 L745.2 1226.1 L748.2 1225.9 L751.2 1225.6 L754.2 1225.2 L757.2 1224.8 L760.1 1224.2 L763.0 1223.6 L765.8 1222.8 L768.6 1221.9 L771.4 1220.8 L774.1 1219.5 L776.8 1218.2 L779.5 1216.8 L782.2 1215.4 L784.9 1214.1 L787.7 1212.9 L790.4 1211.7 L793.2 1210.5 L796.0 1209.4 L798.8 1208.3 L801.6 1207.2 L804.4 1206.1 L807.2 1204.9 L810.0 1203.8 L812.8 1202.6 L815.6 1201.5 L818.5 1200.3 L821.3 1199.1 L824.2 1197.9 L827.0 1196.6 L829.7 1195.3 L832.2 1193.9 L834.6 1192.2 L836.7 1190.4 L838.7 1188.4 L840.5 1186.1 L842.2 1183.7 L843.7 1181.1 L845.2 1178.4 L846.6 1175.8 L848.0 1173.1 L849.3 1170.4 L850.6 1167.7 L851.9 1165.0 L853.2 1162.2 L854.4 1159.5 L855.6 1156.7 L856.8 1154.0 L858.0 1151.2 L859.2 1148.4 L860.4 1145.7 L861.6 1142.9 L862.7 1140.1 L863.8 1137.3 L864.9 1134.5 L866.0 1131.7 L867.0 1128.9 L868.0 1126.1 L869.0 1123.2 L870.0 1120.4 L870.9 1117.5 L871.8 1114.6 L872.7 1111.8 L873.7 1108.9 L874.6 1106.0 L875.5 1103.2 L876.5 1100.3 L877.5 1097.5 L878.5 1094.7 L879.5 1091.9 L880.7 1089.1 L881.8 1086.3 L883.1 1083.6 L884.4 1080.9 L885.8 1078.3 L887.2 1075.6 L888.5 1072.9 L889.8 1070.2 L891.1 1067.5 L892.2 1064.7 L893.3 1061.9 L894.3 1059.1 L895.3 1056.3 L896.3 1053.5 L897.3 1050.6 L898.3 1047.8 L899.3 1044.9 L900.3 1042.1 L901.4 1039.3 L902.4 1036.5 L903.5 1033.6 L904.6 1030.8 L905.7 1028.0 L906.8 1025.3 L907.9 1022.5 L909.1 1019.7 L910.3 1016.9 L911.5 1014.1 L912.8 1011.3 L914.1 1008.5 L915.6 1005.9 L917.1 1003.4 L918.9 1001.1 L920.9 999.0 L923.1 997.0 L925.6 995.3 L928.2 993.9 L931.0 992.8 L933.8 992.2 L936.6 992.0 L939.5 992.3 L942.3 992.9 L945.1 993.9 L947.9 995.0 L950.6 996.3 L953.2 997.8 L955.7 999.3 L958.2 1001.0 L960.6 1002.8 L962.9 1004.7 L965.3 1006.7 L967.6 1008.7 L969.8 1010.8 L972.1 1012.8 L974.3 1014.9 L976.4 1017.0 L978.5 1019.1 L980.6 1021.3 L982.6 1023.5 L984.6 1025.7 L986.6 1028.0 L988.6 1030.3 L990.6 1032.5 L992.6 1034.8 L994.6 1037.0 L996.6 1039.3 L998.7 1041.4 L1000.8 1043.6 L1002.9 1045.7 L1005.1 1047.8 L1007.3 1049.9 L1009.4 1051.9 L1011.6 1054.0 L1013.9 1056.0 L1016.1 1058.0 L1018.3 1060.0 L1020.6 1062.0 L1022.9 1064.0 L1025.1 1066.0 L1027.4 1067.9 L1029.7 1069.9 L1031.9 1071.9 L1034.2 1073.8 L1036.5 1075.8 L1038.8 1077.7 L1041.1 1079.6 L1043.4 1081.6 L1045.7 1083.5 L1048.1 1085.4 L1050.4 1087.3 L1052.7 1089.2 L1055.1 1091.0 L1057.4 1092.9 L1059.8 1094.7 L1062.2 1096.6 L1064.6 1098.4 L1066.9 1100.2 L1069.3 1102.1 L1071.7 1103.9 L1074.1 1105.7 L1076.5 1107.5 L1078.9 1109.4 L1081.2 1111.2 L1083.6 1113.1 L1086.0 1114.9 L1088.3 1116.8 L1090.7 1118.6 L1093.1 1120.5 L1095.4 1122.4 L1097.8 1124.2 L1100.1 1126.1 L1102.5 1128.0 L1104.8 1129.9 L1107.1 1131.7 L1109.5 1133.6 L1111.8 1135.5 L1114.2 1137.4 L1116.5 1139.3 L1118.8 1141.2 L1121.2 1143.1 L1123.5 1145.0 L1125.8 1146.8 L1128.2 1148.7 L1130.5 1150.6 L1132.8 1152.5 L1135.2 1154.4 L1137.5 1156.3 L1139.8 1158.2 L1142.2 1160.1 L1144.5 1162.0 L1144.5 1171.0 L1142.2 1169.1 L1139.8 1167.2 L1137.5 1165.3 L1135.2 1163.4 L1132.8 1161.5 L1130.5 1159.6 L1128.2 1157.7 L1125.8 1155.8 L1123.5 1154.0 L1121.2 1152.1 L1118.8 1150.2 L1116.5 1148.3 L1114.2 1146.4 L1111.8 1144.5 L1109.5 1142.6 L1107.1 1140.7 L1104.8 1138.9 L1102.5 1137.0 L1100.1 1135.1 L1097.8 1133.2 L1095.4 1131.4 L1093.1 1129.5 L1090.7 1127.6 L1088.3 1125.8 L1086.0 1123.9 L1083.6 1122.1 L1081.2 1120.2 L1078.9 1118.4 L1076.5 1116.5 L1074.1 1114.7 L1071.7 1112.9 L1069.3 1111.1 L1066.9 1109.2 L1064.6 1107.4 L1062.2 1105.6 L1059.8 1103.7 L1057.4 1101.9 L1055.1 1100.0 L1052.7 1098.2 L1050.4 1096.3 L1048.1 1094.4 L1045.7 1092.5 L1043.4 1090.6 L1041.1 1088.6 L1038.8 1086.7 L1036.5 1084.8 L1034.2 1082.8 L1031.9 1080.9 L1029.7 1078.9 L1027.4 1076.9 L1025.1 1075.0 L1022.9 1073.0 L1020.6 1071.0 L1018.3 1069.0 L1016.1 1067.0 L1013.9 1065.0 L1011.6 1063.0 L1009.4 1060.9 L1007.3 1058.9 L1005.1 1056.8 L1002.9 1054.7 L1000.8 1052.6 L998.7 1050.4 L996.6 1048.3 L994.6 1046.0 L992.6 1043.8 L990.6 1041.5 L988.6 1039.3 L986.6 1037.0 L984.6 1034.7 L982.6 1032.5 L980.6 1030.3 L978.5 1028.1 L976.4 1026.0 L974.3 1023.9 L972.1 1021.8 L969.8 1019.8 L967.6 1017.7 L965.3 1015.7 L962.9 1013.7 L960.6 1011.8 L958.2 1010.0 L955.7 1008.3 L953.2 1006.8 L950.6 1005.3 L947.9 1004.0 L945.1 1002.9 L942.3 1001.9 L939.5 1001.3 L936.6 1001.0 L933.8 1001.2 L931.0 1001.8 L928.2 1002.9 L925.6 1004.3 L923.1 1006.0 L920.9 1008.0 L918.9 1010.1 L917.1 1012.4 L915.6 1014.9 L914.1 1017.5 L912.8 1020.3 L911.5 1023.1 L910.3 1025.9 L909.1 1028.7 L907.9 1031.5 L906.8 1034.3 L905.7 1037.0 L904.6 1039.8 L903.5 1042.6 L902.4 1045.5 L901.4 1048.3 L900.3 1051.1 L899.3 1053.9 L898.3 1056.8 L897.3 1059.6 L896.3 1062.5 L895.3 1065.3 L894.3 1068.1 L893.3 1070.9 L892.2 1073.7 L891.1 1076.5 L889.8 1079.2 L888.5 1081.9 L887.2 1084.6 L885.8 1087.3 L884.4 1089.9 L883.1 1092.6 L881.8 1095.3 L880.7 1098.1 L879.5 1100.9 L878.5 1103.7 L877.5 1106.5 L876.5 1109.3 L875.5 1112.2 L874.6 1115.0 L873.7 1117.9 L872.7 1120.8 L871.8 1123.6 L870.9 1126.5 L870.0 1129.4 L869.0 1132.2 L868.0 1135.1 L867.0 1137.9 L866.0 1140.7 L864.9 1143.5 L863.8 1146.3 L862.7 1149.1 L861.6 1151.9 L860.4 1154.7 L859.2 1157.4 L858.0 1160.2 L856.8 1163.0 L855.6 1165.7 L854.4 1168.5 L853.2 1171.2 L851.9 1174.0 L850.6 1176.7 L849.3 1179.4 L848.0 1182.1 L846.6 1184.8 L845.2 1187.4 L843.7 1190.1 L842.2 1192.7 L840.5 1195.1 L838.7 1197.4 L836.7 1199.4 L834.6 1201.2 L832.2 1202.9 L829.7 1204.3 L827.0 1205.6 L824.2 1206.9 L821.3 1208.1 L818.5 1209.3 L815.6 1210.5 L812.8 1211.6 L810.0 1212.8 L807.2 1213.9 L804.4 1215.1 L801.6 1216.2 L798.8 1217.3 L796.0 1218.4 L793.2 1219.5 L790.4 1220.7 L787.7 1221.9 L784.9 1223.1 L782.2 1224.4 L779.5 1225.8 L776.8 1227.2 L774.1 1228.5 L771.4 1229.8 L768.6 1230.9 L765.8 1231.8 L763.0 1232.6 L760.1 1233.2 L757.2 1233.8 L754.2 1234.2 L751.2 1234.6 L748.2 1234.9 L745.2 1235.1 L742.2 1235.2 L739.2 1235.3 L736.2 1235.3 L733.2 1235.3 L730.2 1235.3 L727.2 1235.3 L724.2 1235.2 L721.2 1235.2 L718.2 1235.1 L715.2 1235.0 L712.2 1235.0 L709.2 1234.9 L706.2 1234.8 L703.2 1234.7 L700.1 1234.6 L697.1 1234.5 L694.1 1234.4 L691.1 1234.3 L688.1 1234.2 L685.1 1234.1 L682.1 1234.1 L679.1 1234.0 L676.1 1233.9 L673.1 1233.8 L670.1 1233.8 L667.1 1233.7 L664.1 1233.6 L661.1 1233.6 L658.0 1233.6 L655.0 1233.5 L652.0 1233.5 L649.0 1233.5 L646.0 1233.5 L643.0 1233.5 L640.0 1233.5 L637.0 1233.5 L634.0 1233.5 L631.0 1233.5 L628.0 1233.5 L625.0 1233.6 L622.0 1233.6 L619.0 1233.6 L616.0 1233.6 L613.0 1233.6 L610.0 1233.6 L607.0 1233.6 L604.0 1233.7 L601.0 1233.7 L598.0 1233.7 L595.0 1233.7 L591.9 1233.7 L588.9 1233.7 L585.9 1233.8 L582.9 1233.8 L579.9 1233.8 L576.9 1233.8 L573.9 1233.8 L570.9 1233.9 L567.9 1233.9 L564.9 1233.9 L561.9 1233.9 L558.9 1233.9 L555.9 1233.9 L552.9 1233.9 L549.9 1234.0 L546.9 1234.0 L543.9 1234.0 L540.9 1234.0 L537.9 1234.0 L534.9 1234.0 L531.9 1234.0 L528.9 1234.0 L525.8 1234.0 L522.8 1234.0 L519.8 1234.0 L516.8 1234.0 L513.8 1234.0 L510.8 1234.0 L507.8 1234.0 L504.8 1234.0 L501.8 1234.0 L498.8 1234.0 L495.8 1234.0 L492.8 1234.0 L489.8 1234.0 L486.8 1234.0 L483.8 1233.9 L480.7 1233.9 L477.7 1233.9 L474.7 1233.9 L471.7 1233.9 L468.7 1233.9 L465.7 1233.9 L462.7 1233.9 L459.7 1233.9 L456.7 1233.9 L453.7 1233.8 L450.7 1233.8 L447.7 1233.8 L444.7 1233.8 L441.7 1233.8 L438.7 1233.8 L435.7 1233.7 L432.6 1233.7 L429.6 1233.7 L426.6 1233.7 L423.6 1233.7 L420.6 1233.7 L417.6 1233.6 L414.6 1233.6 L411.6 1233.6 L408.6 1233.6 L405.7 1233.5 L402.7 1233.5 L399.7 1233.5 L396.7 1233.4 L393.7 1233.3 L390.7 1233.1 L387.7 1233.0 L384.7 1232.8 L381.7 1232.5 L378.7 1232.3 L375.7 1232.0 L372.8 1231.7 L369.8 1231.3 L366.8 1231.0 L363.8 1230.6 L360.8 1230.2 L357.8 1229.8 L354.8 1229.4 L351.9 1228.9 L348.9 1228.5 L345.9 1228.1 L342.9 1227.6 L339.9 1227.2 L336.9 1226.8 L334.0 1226.3 L331.0 1225.9 L328.0 1225.5 L325.0 1225.1 L322.0 1224.8 L319.0 1224.4 L316.1 1224.0 L313.1 1223.7 L310.1 1223.3 L307.1 1223.0 L304.1 1222.6 L301.1 1222.3 L298.2 1221.9 L295.2 1221.5 L292.2 1221.2 L289.2 1220.8 L286.2 1220.4 L283.3 1220.1 L280.3 1219.7 L277.3 1219.3 L274.3 1219.0 L271.3 1218.6 L268.3 1218.2 L265.4 1217.8 L262.4 1217.5 L259.4 1217.1 L256.4 1216.7 L253.4 1216.3 L250.5 1216.0 L247.5 1215.6 L244.5 1215.2Z M927.6 1001.5 L925.4 1003.5 L923.4 1005.6 L921.6 1007.9 L920.1 1010.4 L918.6 1013.0 L917.3 1015.8 L916.0 1018.6 L914.8 1021.4 L913.6 1024.2 L912.4 1027.0 L911.3 1029.8 L910.2 1032.5 L909.1 1035.3 L908.0 1038.1 L906.9 1041.0 L905.9 1043.8 L904.8 1046.6 L903.8 1049.4 L902.8 1052.3 L901.8 1055.1 L900.8 1058.0 L899.8 1060.8 L898.8 1063.6 L897.8 1066.4 L896.7 1069.2 L895.6 1072.0 L894.3 1074.7 L893.0 1077.4 L891.7 1080.1 L890.3 1082.8 L888.9 1085.4 L887.6 1088.1 L886.3 1090.8 L885.2 1093.6 L884.0 1096.4 L883.0 1099.2 L882.0 1102.0 L881.0 1104.8 L880.0 1107.7 L879.1 1110.5 L878.2 1113.4 L877.2 1116.3 L876.3 1119.1 L875.4 1122.0 L874.5 1124.9 L873.5 1127.7 L872.5 1130.6 L871.5 1133.4 L870.5 1136.2 L869.4 1139.0 L868.3 1141.8 L867.2 1144.6 L866.1 1147.4 L864.9 1150.2 L863.7 1152.9 L862.5 1155.7 L861.3 1158.5 L860.1 1161.2 L858.9 1164.0 L857.7 1166.7 L856.4 1169.5 L855.1 1172.2 L853.8 1174.9 L852.5 1177.6 L851.1 1180.3 L849.7 1182.9 L848.2 1185.6 L846.7 1188.2 L845.0 1190.6 L843.2 1192.9 L841.2 1194.9 L839.1 1196.7 L830.1 1196.7 L832.2 1194.9 L834.2 1192.9 L836.0 1190.6 L837.7 1188.2 L839.2 1185.6 L840.7 1182.9 L842.1 1180.3 L843.5 1177.6 L844.8 1174.9 L846.1 1172.2 L847.4 1169.5 L848.7 1166.7 L849.9 1164.0 L851.1 1161.2 L852.3 1158.5 L853.5 1155.7 L854.7 1152.9 L855.9 1150.2 L857.1 1147.4 L858.2 1144.6 L859.3 1141.8 L860.4 1139.0 L861.5 1136.2 L862.5 1133.4 L863.5 1130.6 L864.5 1127.7 L865.5 1124.9 L866.4 1122.0 L867.3 1119.1 L868.2 1116.3 L869.2 1113.4 L870.1 1110.5 L871.0 1107.7 L872.0 1104.8 L873.0 1102.0 L874.0 1099.2 L875.0 1096.4 L876.2 1093.6 L877.3 1090.8 L878.6 1088.1 L879.9 1085.4 L881.3 1082.8 L882.7 1080.1 L884.0 1077.4 L885.3 1074.7 L886.6 1072.0 L887.7 1069.2 L888.8 1066.4 L889.8 1063.6 L890.8 1060.8 L891.8 1058.0 L892.8 1055.1 L893.8 1052.3 L894.8 1049.4 L895.8 1046.6 L896.9 1043.8 L897.9 1041.0 L899.0 1038.1 L900.1 1035.3 L901.2 1032.5 L902.3 1029.8 L903.4 1027.0 L904.6 1024.2 L905.8 1021.4 L907.0 1018.6 L908.3 1015.8 L909.6 1013.0 L911.1 1010.4 L912.6 1007.9 L914.4 1005.6 L916.4 1003.5 L918.6 1001.5Z M962.7 1005.5 L965.1 1007.3 L967.4 1009.2 L969.8 1011.2 L972.1 1013.2 L974.3 1015.3 L976.6 1017.3 L978.8 1019.4 L980.9 1021.5 L983.0 1023.6 L985.1 1025.8 L987.1 1028.0 L989.1 1030.2 L991.1 1032.5 L993.1 1034.8 L995.1 1037.0 L997.1 1039.3 L999.1 1041.5 L1001.1 1043.8 L1003.2 1045.9 L1005.3 1048.1 L1007.4 1050.2 L1009.6 1052.3 L1011.8 1054.4 L1013.9 1056.4 L1016.1 1058.5 L1018.4 1060.5 L1020.6 1062.5 L1022.8 1064.5 L1025.1 1066.5 L1027.4 1068.5 L1029.6 1070.5 L1031.9 1072.4 L1034.2 1074.4 L1036.4 1076.4 L1038.7 1078.3 L1041.0 1080.3 L1043.3 1082.2 L1045.6 1084.1 L1047.9 1086.1 L1050.2 1088.0 L1052.6 1089.9 L1054.9 1091.8 L1057.2 1093.7 L1059.6 1095.5 L1061.9 1097.4 L1064.3 1099.2 L1066.7 1101.1 L1069.1 1102.9 L1071.4 1104.7 L1073.8 1106.6 L1076.2 1108.4 L1078.6 1110.2 L1081.0 1112.0 L1083.4 1113.9 L1085.7 1115.7 L1088.1 1117.6 L1090.5 1119.4 L1092.8 1121.3 L1095.2 1123.1 L1097.6 1125.0 L1099.9 1126.9 L1102.3 1128.7 L1104.6 1130.6 L1107.0 1132.5 L1109.3 1134.4 L1111.6 1136.2 L1114.0 1138.1 L1116.3 1140.0 L1118.7 1141.9 L1121.0 1143.8 L1123.3 1145.7 L1125.7 1147.6 L1128.0 1149.5 L1130.3 1151.3 L1132.7 1153.2 L1135.0 1155.1 L1137.3 1157.0 L1139.7 1158.9 L1142.0 1160.8 L1144.3 1162.7 L1146.7 1164.6 L1149.0 1166.5 L1140.0 1166.5 L1137.7 1164.6 L1135.3 1162.7 L1133.0 1160.8 L1130.7 1158.9 L1128.3 1157.0 L1126.0 1155.1 L1123.7 1153.2 L1121.3 1151.3 L1119.0 1149.5 L1116.7 1147.6 L1114.3 1145.7 L1112.0 1143.8 L1109.7 1141.9 L1107.3 1140.0 L1105.0 1138.1 L1102.6 1136.2 L1100.3 1134.4 L1098.0 1132.5 L1095.6 1130.6 L1093.3 1128.7 L1090.9 1126.9 L1088.6 1125.0 L1086.2 1123.1 L1083.8 1121.3 L1081.5 1119.4 L1079.1 1117.6 L1076.7 1115.7 L1074.4 1113.9 L1072.0 1112.0 L1069.6 1110.2 L1067.2 1108.4 L1064.8 1106.6 L1062.4 1104.7 L1060.1 1102.9 L1057.7 1101.1 L1055.3 1099.2 L1052.9 1097.4 L1050.6 1095.5 L1048.2 1093.7 L1045.9 1091.8 L1043.6 1089.9 L1041.2 1088.0 L1038.9 1086.1 L1036.6 1084.1 L1034.3 1082.2 L1032.0 1080.3 L1029.7 1078.3 L1027.4 1076.4 L1025.2 1074.4 L1022.9 1072.4 L1020.6 1070.5 L1018.4 1068.5 L1016.1 1066.5 L1013.8 1064.5 L1011.6 1062.5 L1009.4 1060.5 L1007.1 1058.5 L1004.9 1056.4 L1002.8 1054.4 L1000.6 1052.3 L998.4 1050.2 L996.3 1048.1 L994.2 1045.9 L992.1 1043.8 L990.1 1041.5 L988.1 1039.3 L986.1 1037.0 L984.1 1034.8 L982.1 1032.5 L980.1 1030.2 L978.1 1028.0 L976.1 1025.8 L974.0 1023.6 L971.9 1021.5 L969.8 1019.4 L967.6 1017.3 L965.3 1015.3 L963.1 1013.2 L960.8 1011.2 L958.4 1009.2 L956.1 1007.3 L953.7 1005.5Z"/>
<path fill="#00ffff" d="M244.5 1197.4 L247.5 1197.4 L250.5 1197.4 L253.5 1197.4 L256.5 1197.4 L259.5 1197.5 L262.5 1197.5 L265.5 1197.5 L268.5 1197.5 L271.5 1197.6 L274.5 1197.6 L277.5 1197.7 L280.5 1197.7 L283.5 1197.7 L286.5 1197.8 L289.6 1197.8 L292.6 1197.9 L295.6 1198.0 L298.6 1198.0 L301.6 1198.1 L304.6 1198.1 L307.6 1198.2 L310.6 1198.3 L313.6 1198.3 L316.6 1198.4 L319.6 1198.5 L322.6 1198.6 L325.6 1198.6 L328.6 1198.7 L331.6 1198.8 L334.6 1198.9 L337.6 1199.0 L340.6 1199.0 L343.6 1199.1 L346.6 1199.2 L349.6 1199.3 L352.6 1199.4 L355.6 1199.5 L358.6 1199.6 L361.6 1199.6 L364.6 1199.7 L367.6 1199.8 L370.6 1200.0 L373.6 1200.1 L376.6 1200.3 L379.6 1200.4 L382.6 1200.6 L385.6 1200.8 L388.6 1201.0 L391.6 1201.2 L394.6 1201.4 L397.6 1201.6 L400.6 1201.8 L403.6 1202.0 L406.6 1202.2 L409.6 1202.4 L412.6 1202.6 L415.6 1202.7 L418.6 1202.9 L421.6 1203.0 L424.6 1203.1 L427.6 1203.2 L430.6 1203.3 L433.6 1203.4 L436.6 1203.4 L439.6 1203.4 L442.6 1203.4 L445.6 1203.4 L448.6 1203.4 L451.6 1203.4 L454.6 1203.3 L457.6 1203.3 L460.6 1203.3 L463.6 1203.3 L466.6 1203.2 L469.6 1203.2 L472.6 1203.2 L475.6 1203.1 L478.6 1203.1 L481.6 1203.1 L484.6 1203.0 L487.6 1203.0 L490.6 1203.0 L493.6 1202.9 L496.6 1202.9 L499.6 1202.8 L502.6 1202.8 L505.6 1202.8 L508.6 1202.7 L511.6 1202.7 L514.6 1202.7 L517.6 1202.7 L520.6 1202.6 L523.6 1202.6 L526.6 1202.6 L529.6 1202.6 L532.7 1202.6 L535.7 1202.6 L538.7 1202.5 L541.7 1202.5 L544.7 1202.5 L547.7 1202.5 L550.7 1202.5 L553.7 1202.5 L556.7 1202.5 L559.7 1202.5 L562.7 1202.5 L565.7 1202.5 L568.7 1202.5 L571.7 1202.4 L574.7 1202.4 L577.7 1202.4 L580.7 1202.4 L583.7 1202.4 L586.7 1202.4 L589.7 1202.4 L592.7 1202.4 L595.7 1202.3 L598.7 1202.3 L601.7 1202.3 L604.7 1202.2 L607.7 1202.1 L610.7 1202.0 L613.7 1201.8 L616.7 1201.6 L619.7 1201.4 L622.7 1201.2 L625.7 1201.0 L628.7 1200.7 L631.7 1200.5 L634.7 1200.2 L637.7 1200.0 L640.7 1199.8 L643.7 1199.6 L646.7 1199.4 L649.7 1199.2 L652.7 1199.0 L655.7 1198.8 L658.7 1198.7 L661.7 1198.5 L664.7 1198.3 L667.7 1198.1 L670.6 1197.9 L673.6 1197.7 L676.6 1197.5 L679.6 1197.3 L682.6 1197.1 L685.6 1196.9 L688.6 1196.7 L691.6 1196.5 L694.6 1196.3 L697.6 1196.1 L700.6 1196.0 L703.6 1195.8 L706.6 1195.6 L709.6 1195.5 L712.6 1195.4 L715.6 1195.2 L718.6 1195.1 L721.6 1195.0 L724.6 1194.9 L727.6 1194.9 L730.6 1194.8 L733.6 1194.7 L736.6 1194.7 L739.6 1194.7 L742.6 1194.7 L745.6 1194.7 L748.6 1194.8 L751.6 1194.8 L754.6 1194.8 L757.6 1194.9 L760.6 1195.0 L763.6 1195.0 L766.7 1195.1 L769.7 1195.2 L772.7 1195.3 L775.7 1195.4 L778.7 1195.5 L781.7 1195.6 L784.7 1195.7 L787.7 1195.7 L790.7 1195.8 L793.7 1195.9 L796.7 1196.0 L799.7 1196.1 L802.7 1196.1 L805.7 1196.2 L808.7 1196.2 L811.7 1196.3 L814.7 1196.3 L817.7 1196.3 L820.7 1196.3 L823.7 1196.2 L826.7 1196.2 L829.7 1196.1 L832.7 1196.0 L835.7 1195.8 L838.7 1195.6 L841.7 1195.5 L844.7 1195.3 L847.7 1195.1 L850.7 1194.9 L853.7 1194.6 L856.7 1194.4 L859.7 1194.2 L862.7 1194.0 L865.7 1193.8 L868.7 1193.6 L871.7 1193.4 L874.7 1193.2 L877.7 1193.1 L880.7 1192.9 L883.7 1192.7 L886.7 1192.5 L889.7 1192.3 L892.7 1192.1 L895.6 1191.9 L898.6 1191.6 L901.6 1191.3 L904.6 1191.0 L907.6 1190.6 L910.6 1190.1 L913.6 1189.6 L916.5 1189.0 L919.4 1188.4 L922.4 1187.6 L925.4 1186.8 L928.4 1185.8 L931.2 1184.5 L933.7 1183.1 L935.7 1181.5 L937.4 1179.3 L938.8 1176.8 L940.0 1173.9 L941.1 1170.8 L942.1 1167.8 L943.0 1164.9 L943.8 1162.0 L944.5 1159.1 L945.2 1156.2 L945.8 1153.2 L946.3 1150.3 L946.8 1147.3 L947.3 1144.3 L947.7 1141.4 L948.0 1138.4 L948.4 1135.4 L948.7 1132.4 L949.1 1129.4 L949.4 1126.4 L949.7 1123.5 L950.1 1120.5 L950.4 1117.5 L950.7 1114.5 L951.0 1111.5 L951.4 1108.5 L951.7 1105.5 L951.9 1102.5 L952.2 1099.6 L952.4 1096.6 L952.6 1093.6 L952.8 1090.6 L953.0 1087.6 L953.2 1084.6 L953.4 1081.6 L953.6 1078.6 L953.8 1075.6 L954.0 1072.6 L954.1 1069.6 L954.3 1066.6 L954.5 1063.6 L954.6 1060.6 L954.8 1057.6 L955.0 1054.6 L955.1 1051.6 L955.3 1048.6 L955.4 1045.6 L955.6 1042.6 L955.7 1039.6 L955.9 1036.6 L956.0 1033.6 L956.1 1030.6 L956.3 1027.6 L956.4 1024.6 L956.5 1021.6 L956.7 1018.6 L956.8 1015.6 L956.9 1012.6 L957.0 1009.6 L957.2 1006.6 L957.3 1003.6 L957.4 1000.6 L957.5 997.6 L957.6 994.6 L957.8 991.6 L957.9 988.6 L958.0 985.6 L958.1 982.6 L958.2 979.6 L958.3 976.6 L958.4 973.6 L958.6 970.6 L958.7 967.6 L958.8 964.6 L958.9 961.6 L959.0 958.6 L959.1 955.6 L959.2 952.6 L959.3 949.6 L959.5 946.6 L959.6 943.6 L959.7 940.6 L959.8 937.6 L959.9 934.6 L960.0 931.6 L960.1 928.6 L960.2 925.6 L960.3 922.6 L960.4 919.6 L960.5 916.6 L960.6 913.6 L960.7 910.6 L960.8 907.6 L960.9 904.6 L961.0 901.6 L961.1 898.6 L961.2 895.6 L961.3 892.6 L961.4 889.6 L961.5 886.6 L961.6 883.6 L961.7 880.6 L961.8 877.6 L961.9 874.6 L962.0 871.6 L962.0 868.6 L962.1 865.6 L962.2 862.6 L962.3 859.6 L962.4 856.6 L962.5 853.6 L962.6 850.5 L962.7 847.5 L962.8 844.5 L962.9 841.5 L963.0 838.5 L963.1 835.5 L963.1 832.5 L963.2 829.5 L963.3 826.5 L963.4 823.5 L963.5 820.5 L963.6 817.5 L963.7 814.5 L963.8 811.5 L963.9 808.5 L964.0 805.5 L964.1 802.5 L964.2 799.5 L964.3 796.5 L964.4 793.5 L964.4 790.5 L964.5 787.5 L964.6 784.5 L964.7 781.5 L964.8 778.5 L964.9 775.5 L965.0 772.5 L965.1 769.5 L965.2 766.5 L965.2 763.5 L965.3 760.5 L965.4 757.5 L965.5 754.5 L965.6 751.5 L965.7 748.5 L965.8 745.5 L965.9 742.5 L966.0 739.5 L966.1 736.5 L966.2 733.5 L966.3 730.5 L966.4 727.5 L966.5 724.5 L966.6 721.5 L966.7 718.5 L966.8 715.5 L966.9 712.5 L967.0 709.5 L967.2 706.5 L967.3 703.5 L967.4 700.5 L967.5 697.5 L967.6 694.5 L967.8 691.5 L967.9 688.5 L968.1 685.5 L968.2 682.5 L968.4 679.5 L968.6 676.5 L968.7 673.5 L968.9 670.5 L969.1 667.5 L969.3 664.5 L969.5 661.5 L969.7 658.5 L969.9 655.5 L970.1 652.5 L970.3 649.5 L970.5 646.5 L970.7 643.5 L970.9 640.5 L971.1 637.5 L971.3 634.5 L971.5 631.5 L971.7 628.5 L971.9 625.6 L972.1 622.6 L972.3 619.6 L972.5 616.6 L972.7 613.6 L972.9 610.6 L973.1 607.6 L973.2 604.6 L973.4 601.6 L973.6 598.6 L973.7 595.6 L973.9 592.6 L974.0 589.6 L974.1 586.6 L974.3 583.6 L974.4 580.6 L974.5 577.6 L974.6 574.6 L974.8 571.6 L974.9 568.6 L975.0 565.6 L975.1 562.6 L975.2 559.6 L975.3 556.6 L975.5 553.6 L975.6 550.6 L975.7 547.6 L975.8 544.6 L975.9 541.6 L976.0 538.6 L976.1 535.6 L976.2 532.6 L976.3 529.6 L976.4 526.6 L976.5 523.6 L976.6 520.6 L976.7 517.6 L976.8 514.6 L976.9 511.6 L977.0 508.6 L977.0 505.6 L977.1 502.6 L977.2 499.6 L977.3 496.6 L977.4 493.6 L977.5 490.6 L977.6 487.6 L977.7 484.5 L977.8 481.5 L977.8 478.5 L977.9 475.5 L978.0 472.5 L978.1 469.5 L978.2 466.5 L978.3 463.5 L978.4 460.5 L978.4 457.5 L978.5 454.5 L978.6 451.5 L978.7 448.5 L978.8 445.5 L978.9 442.5 L979.0 439.5 L979.1 436.5 L979.2 433.5 L979.3 430.5 L979.3 427.5 L979.4 424.5 L979.5 421.5 L979.6 418.5 L979.7 415.5 L979.8 412.5 L979.9 409.5 L980.0 406.5 L980.1 403.5 L980.2 400.5 L980.3 397.5 L980.4 394.5 L980.5 391.5 L980.7 388.5 L980.8 385.5 L980.9 382.5 L981.0 379.5 L981.1 376.5 L981.2 373.5 L981.4 370.5 L981.5 367.5 L981.6 364.5 L981.7 361.5 L981.9 358.5 L982.0 355.5 L982.1 352.5 L982.3 349.5 L982.4 346.5 L982.5 343.5 L982.7 340.5 L982.8 337.5 L983.0 334.5 L983.1 331.5 L983.2 328.5 L983.4 325.5 L983.5 322.5 L983.7 319.5 L983.8 316.5 L984.0 313.5 L984.2 310.5 L984.3 307.5 L984.5 304.5 L984.6 301.5 L984.8 298.5 L985.0 295.5 L985.1 292.5 L985.3 289.5 L985.5 286.5 L985.7 283.5 L985.8 280.5 L986.0 277.5 L986.2 274.5 L986.4 271.5 L986.6 268.5 L986.8 265.5 L987.0 262.5 L987.1 259.5 L987.3 256.5 L987.5 253.5 L987.7 250.6 L987.9 247.6 L988.2 244.6 L988.4 241.6 L988.6 238.6 L988.8 235.6 L989.0 232.6 L989.2 229.6 L989.4 226.6 L989.7 223.6 L989.9 220.6 L990.2 217.6 L990.5 214.6 L990.7 211.6 L991.0 208.6 L991.3 205.7 L991.6 202.7 L991.9 199.7 L992.2 196.7 L992.5 193.7 L992.8 190.7 L993.1 187.7 L993.4 184.7 L993.7 181.7 L994.0 178.8 L994.3 175.8 L994.7 172.8 L995.0 169.6 L995.5 166.2 L996.0 162.6 L996.5 159.8 L997.0 158.7 L997.5 159.8 L998.0 162.5 L998.5 166.0 L998.9 169.5 L999.3 172.6 L999.7 175.6 L1000.0 178.6 L1000.3 181.6 L1000.6 184.6 L1000.9 187.6 L1001.2 190.6 L1001.5 193.6 L1001.8 196.6 L1002.1 199.5 L1002.4 202.5 L1002.7 205.5 L1003.0 208.5 L1003.2 211.5 L1003.5 214.5 L1003.7 217.5 L1004.0 220.5 L1004.2 223.5 L1004.4 226.5 L1004.5 229.5 L1004.7 232.5 L1004.9 235.5 L1005.0 238.5 L1005.1 241.5 L1005.3 244.5 L1005.4 247.5 L1005.5 250.5 L1005.7 253.5 L1005.8 256.5 L1005.9 259.5 L1006.0 262.5 L1006.1 265.5 L1006.2 268.5 L1006.3 271.5 L1006.4 274.5 L1006.5 277.5 L1006.6 280.5 L1006.7 283.5 L1006.8 286.5 L1006.9 289.5 L1007.0 292.5 L1007.1 295.5 L1007.2 298.5 L1007.2 301.5 L1007.3 304.5 L1007.4 307.5 L1007.5 310.5 L1007.6 313.5 L1007.7 316.5 L1007.8 319.5 L1007.8 322.5 L1007.9 325.5 L1008.0 328.5 L1008.1 331.5 L1008.2 334.5 L1008.3 337.5 L1008.4 340.5 L1008.5 343.5 L1008.6 346.5 L1008.7 349.5 L1008.8 352.5 L1008.9 355.5 L1009.0 358.5 L1009.2 361.5 L1009.3 364.5 L1009.4 367.5 L1009.5 370.5 L1009.6 373.5 L1009.7 376.5 L1009.9 379.5 L1010.0 382.5 L1010.1 385.5 L1010.2 388.5 L1010.4 391.5 L1010.5 394.5 L1010.6 397.5 L1010.7 400.5 L1010.9 403.5 L1011.0 406.5 L1011.1 409.5 L1011.2 412.5 L1011.4 415.5 L1011.5 418.5 L1011.6 421.5 L1011.8 424.5 L1011.9 427.5 L1012.0 430.5 L1012.2 433.5 L1012.3 436.5 L1012.4 439.5 L1012.6 442.5 L1012.7 445.5 L1012.8 448.5 L1013.0 451.5 L1013.1 454.5 L1013.2 457.5 L1013.4 460.5 L1013.5 463.5 L1013.6 466.5 L1013.8 469.5 L1013.9 472.5 L1014.0 475.5 L1014.2 478.5 L1014.3 481.5 L1014.5 484.5 L1014.6 487.5 L1014.7 490.5 L1014.9 493.5 L1015.0 496.5 L1015.1 499.5 L1015.3 502.5 L1015.4 505.5 L1015.5 508.5 L1015.7 511.5 L1015.8 514.5 L1015.9 517.5 L1016.1 520.5 L1016.2 523.5 L1016.3 526.5 L1016.5 529.5 L1016.6 532.5 L1016.7 535.5 L1016.9 538.5 L1017.0 541.5 L1017.1 544.5 L1017.3 547.5 L1017.4 550.5 L1017.5 553.5 L1017.6 556.5 L1017.8 559.5 L1017.9 562.5 L1018.0 565.5 L1018.1 568.5 L1018.3 571.5 L1018.4 574.5 L1018.5 577.5 L1018.6 580.5 L1018.8 583.5 L1018.9 586.5 L1019.0 589.5 L1019.1 592.5 L1019.2 595.5 L1019.3 598.5 L1019.5 601.5 L1019.6 604.5 L1019.7 607.5 L1019.8 610.5 L1019.9 613.5 L1020.0 616.5 L1020.1 619.5 L1020.2 622.5 L1020.3 625.5 L1020.4 628.5 L1020.5 631.5 L1020.6 634.5 L1020.7 637.5 L1020.8 640.5 L1020.9 643.5 L1021.0 646.6 L1021.1 649.6 L1021.2 652.6 L1021.3 655.6 L1021.4 658.6 L1021.5 661.6 L1021.6 664.6 L1021.6 667.6 L1021.7 670.6 L1021.8 673.6 L1021.9 676.6 L1022.0 679.6 L1022.1 682.6 L1022.2 685.6 L1022.3 688.6 L1022.4 691.6 L1022.5 694.6 L1022.6 697.6 L1022.7 700.6 L1022.7 703.6 L1022.8 706.6 L1022.9 709.6 L1023.0 712.6 L1023.1 715.6 L1023.2 718.6 L1023.3 721.6 L1023.4 724.6 L1023.5 727.6 L1023.6 730.6 L1023.7 733.6 L1023.8 736.6 L1023.9 739.6 L1024.0 742.6 L1024.1 745.6 L1024.3 748.6 L1024.4 751.6 L1024.5 754.6 L1024.6 757.6 L1024.7 760.6 L1024.8 763.6 L1024.9 766.6 L1025.1 769.6 L1025.2 772.6 L1025.3 775.6 L1025.4 778.6 L1025.6 781.6 L1025.7 784.6 L1025.8 787.6 L1026.0 790.6 L1026.1 793.6 L1026.2 796.6 L1026.4 799.6 L1026.5 802.6 L1026.7 805.6 L1026.8 808.6 L1027.0 811.6 L1027.1 814.6 L1027.3 817.6 L1027.5 820.6 L1027.6 823.6 L1027.8 826.6 L1028.0 829.6 L1028.1 832.6 L1028.3 835.6 L1028.5 838.6 L1028.7 841.6 L1028.9 844.6 L1029.1 847.6 L1029.3 850.6 L1029.5 853.6 L1029.7 856.6 L1029.9 859.6 L1030.1 862.6 L1030.3 865.6 L1030.6 868.6 L1030.8 871.6 L1031.0 874.6 L1031.3 877.6 L1031.5 880.6 L1031.8 883.6 L1032.0 886.7 L1032.3 889.7 L1032.5 892.7 L1032.8 895.7 L1033.1 898.7 L1033.4 901.7 L1033.6 904.7 L1033.9 907.7 L1034.2 910.7 L1034.5 913.7 L1034.8 916.7 L1035.1 919.7 L1035.4 922.7 L1035.8 925.7 L1036.1 928.7 L1036.4 931.7 L1036.8 934.6 L1037.1 937.6 L1037.4 940.6 L1037.8 943.6 L1038.2 946.6 L1038.5 949.6 L1038.9 952.5 L1039.3 955.5 L1039.7 958.5 L1040.0 961.4 L1040.4 964.4 L1040.8 967.4 L1041.3 970.3 L1041.7 973.3 L1042.1 976.2 L1042.5 979.2 L1042.9 982.1 L1043.4 985.1 L1043.8 988.0 L1044.3 991.0 L1044.8 993.9 L1045.2 996.8 L1045.7 999.8 L1046.3 1002.7 L1046.9 1005.6 L1047.5 1008.5 L1048.2 1011.4 L1048.9 1014.3 L1049.7 1017.2 L1050.4 1020.1 L1051.2 1023.0 L1052.1 1025.9 L1052.9 1028.8 L1053.8 1031.7 L1054.7 1034.6 L1055.6 1037.4 L1056.5 1040.3 L1057.4 1043.2 L1058.4 1046.1 L1059.3 1048.9 L1060.3 1051.8 L1061.2 1054.7 L1062.2 1057.5 L1063.1 1060.4 L1064.1 1063.3 L1065.0 1066.1 L1065.9 1069.0 L1066.9 1071.9 L1067.8 1074.7 L1068.6 1077.6 L1069.5 1080.5 L1070.4 1083.4 L1071.3 1086.2 L1072.2 1089.1 L1073.1 1092.0 L1074.0 1094.9 L1074.9 1097.7 L1075.8 1100.6 L1076.7 1103.5 L1077.7 1106.3 L1078.7 1109.1 L1079.7 1112.0 L1080.8 1114.8 L1081.8 1117.5 L1082.9 1120.3 L1084.1 1123.1 L1085.3 1125.8 L1086.6 1128.5 L1087.9 1131.2 L1089.3 1133.9 L1090.7 1136.6 L1092.1 1139.2 L1093.5 1141.9 L1095.0 1144.5 L1095.0 1153.5 L1093.5 1150.9 L1092.1 1148.2 L1090.7 1145.6 L1089.3 1142.9 L1087.9 1140.2 L1086.6 1137.5 L1085.3 1134.8 L1084.1 1132.1 L1082.9 1129.3 L1081.8 1126.5 L1080.8 1123.8 L1079.7 1121.0 L1078.7 1118.1 L1077.7 1115.3 L1076.7 1112.5 L1075.8 1109.6 L1074.9 1106.7 L1074.0 1103.9 L1073.1 1101.0 L1072.2 1098.1 L1071.3 1095.2 L1070.4 1092.4 L1069.5 1089.5 L1068.6 1086.6 L1067.8 1083.7 L1066.9 1080.9 L1065.9 1078.0 L1065.0 1075.1 L1064.1 1072.3 L1063.1 1069.4 L1062.2 1066.5 L1061.2 1063.7 L1060.3 1060.8 L1059.3 1057.9 L1058.4 1055.1 L1057.4 1052.2 L1056.5 1049.3 L1055.6 1046.4 L1054.7 1043.6 L1053.8 1040.7 L1052.9 1037.8 L1052.1 1034.9 L1051.2 1032.0 L1050.4 1029.1 L1049.7 1026.2 L1048.9 1023.3 L1048.2 1020.4 L1047.5 1017.5 L1046.9 1014.6 L1046.3 1011.7 L1045.7 1008.8 L1045.2 1005.8 L1044.8 1002.9 L1044.3 1000.0 L1043.8 997.0 L1043.4 994.1 L1042.9 991.1 L1042.5 988.2 L1042.1 985.2 L1041.7 982.3 L1041.3 979.3 L1040.8 976.4 L1040.4 973.4 L1040.0 970.4 L1039.7 967.5 L1039.3 964.5 L1038.9 961.5 L1038.5 958.6 L1038.2 955.6 L1037.8 952.6 L1037.4 949.6 L1037.1 946.6 L1036.8 943.6 L1036.4 940.7 L1036.1 937.7 L1035.8 934.7 L1035.4 931.7 L1035.1 928.7 L1034.8 925.7 L1034.5 922.7 L1034.2 919.7 L1033.9 916.7 L1033.6 913.7 L1033.4 910.7 L1033.1 907.7 L1032.8 904.7 L1032.5 901.7 L1032.3 898.7 L1032.0 895.7 L1031.8 892.6 L1031.5 889.6 L1031.3 886.6 L1031.0 883.6 L1030.8 880.6 L1030.6 877.6 L1030.3 874.6 L1030.1 871.6 L1029.9 868.6 L1029.7 865.6 L1029.5 862.6 L1029.3 859.6 L1029.1 856.6 L1028.9 853.6 L1028.7 850.6 L1028.5 847.6 L1028.3 844.6 L1028.1 841.6 L1028.0 838.6 L1027.8 835.6 L1027.6 832.6 L1027.5 829.6 L1027.3 826.6 L1027.1 823.6 L1027.0 820.6 L1026.8 817.6 L1026.7 814.6 L1026.5 811.6 L1026.4 808.6 L1026.2 805.6 L1026.1 802.6 L1026.0 799.6 L1025.8 796.6 L1025.7 793.6 L1025.6 790.6 L1025.4 787.6 L1025.3 784.6 L1025.2 781.6 L1025.1 778.6 L1024.9 775.6 L1024.8 772.6 L1024.7 769.6 L1024.6 766.6 L1024.5 763.6 L1024.4 760.6 L1024.3 757.6 L1024.1 754.6 L1024.0 751.6 L1023.9 748.6 L1023.8 745.6 L1023.7 742.6 L1023.6 739.6 L1023.5 736.6 L1023.4 733.6 L1023.3 730.6 L1023.2 727.6 L1023.1 724.6 L1023.0 721.6 L1022.9 718.6 L1022.8 715.6 L1022.7 712.6 L1022.7 709.6 L1022.6 706.6 L1022.5 703.6 L1022.4 700.6 L1022.3 697.6 L1022.2 694.6 L1022.1 691.6 L1022.0 688.6 L1021.9 685.6 L1021.8 682.6 L1021.7 679.6 L1021.6 676.6 L1021.6 673.6 L1021.5 670.6 L1021.4 667.6 L1021.3 664.6 L1021.2 661.6 L1021.1 658.6 L1021.0 655.6 L1020.9 652.5 L1020.8 649.5 L1020.7 646.5 L1020.6 643.5 L1020.5 640.5 L1020.4 637.5 L1020.3 634.5 L1020.2 631.5 L1020.1 628.5 L1020.0 625.5 L1019.9 622.5 L1019.8 619.5 L1019.7 616.5 L1019.6 613.5 L1019.5 610.5 L1019.3 607.5 L1019.2 604.5 L1019.1 601.5 L1019.0 598.5 L1018.9 595.5 L1018.8 592.5 L1018.6 589.5 L1018.5 586.5 L1018.4 583.5 L1018.3 580.5 L1018.1 577.5 L1018.0 574.5 L1017.9 571.5 L1017.8 568.5 L1017.6 565.5 L1017.5 562.5 L1017.4 559.5 L1017.3 556.5 L1017.1 553.5 L1017.0 550.5 L1016.9 547.5 L1016.7 544.5 L1016.6 541.5 L1016.5 538.5 L1016.3 535.5 L1016.2 532.5 L1016.1 529.5 L1015.9 526.5 L1015.8 523.5 L1015.7 520.5 L1015.5 517.5 L1015.4 514.5 L1015.3 511.5 L1015.1 508.5 L1015.0 505.5 L1014.9 502.5 L1014.7 499.5 L1014.6 496.5 L1014.5 493.5 L1014.3 490.5 L1014.2 487.5 L1014.0 484.5 L1013.9 481.5 L1013.8 478.5 L1013.6 475.5 L1013.5 472.5 L1013.4 469.5 L1013.2 466.5 L1013.1 463.5 L1013.0 460.5 L1012.8 457.5 L1012.7 454.5 L1012.6 451.5 L1012.4 448.5 L1012.3 445.5 L1012.2 442.5 L1012.0 439.5 L1011.9 436.5 L1011.8 433.5 L1011.6 430.5 L1011.5 427.5 L1011.4 424.5 L1011.2 421.5 L1011.1 418.5 L1011.0 415.5 L1010.9 412.5 L1010.7 409.5 L1010.6 406.5 L1010.5 403.5 L1010.4 400.5 L1010.2 397.5 L1010.1 394.5 L1010.0 391.5 L1009.9 388.5 L1009.7 385.5 L1009.6 382.5 L1009.5 379.5 L1009.4 376.5 L1009.3 373.5 L1009.2 370.5 L1009.0 367.5 L1008.9 364.5 L1008.8 361.5 L1008.7 358.5 L1008.6 355.5 L1008.5 352.5 L1008.4 349.5 L1008.3 346.5 L1008.2 343.5 L1008.1 340.5 L1008.0 337.5 L1007.9 334.5 L1007.8 331.5 L1007.8 328.5 L1007.7 325.5 L1007.6 322.5 L1007.5 319.5 L1007.4 316.5 L1007.3 313.5 L1007.2 310.5 L1007.2 307.5 L1007.1 304.5 L1007.0 301.5 L1006.9 298.5 L1006.8 295.5 L1006.7 292.5 L1006.6 289.5 L1006.5 286.5 L1006.4 283.5 L1006.3 280.5 L1006.2 277.5 L1006.1 274.5 L1006.0 271.5 L1005.9 268.5 L1005.8 265.5 L1005.7 262.5 L1005.5 259.5 L1005.4 256.5 L1005.3 253.5 L1005.1 250.5 L1005.0 247.5 L1004.9 244.5 L1004.7 241.5 L1004.5 238.5 L1004.4 235.5 L1004.2 232.5 L1004.0 229.5 L1003.7 226.5 L1003.5 223.5 L1003.2 220.5 L1003.0 217.5 L1002.7 214.5 L1002.4 211.5 L1002.1 208.5 L1001.8 205.6 L1001.5 202.6 L1001.2 199.6 L1000.9 196.6 L1000.6 193.6 L1000.3 190.6 L1000.0 187.6 L999.7 184.6 L999.3 181.6 L998.9 178.5 L998.5 175.0 L998.0 171.5 L997.5 168.8 L997.0 167.7 L996.5 168.8 L996.0 171.6 L995.5 175.2 L995.0 178.6 L994.7 181.8 L994.3 184.8 L994.0 187.8 L993.7 190.7 L993.4 193.7 L993.1 196.7 L992.8 199.7 L992.5 202.7 L992.2 205.7 L991.9 208.7 L991.6 211.7 L991.3 214.7 L991.0 217.6 L990.7 220.6 L990.5 223.6 L990.2 226.6 L989.9 229.6 L989.7 232.6 L989.4 235.6 L989.2 238.6 L989.0 241.6 L988.8 244.6 L988.6 247.6 L988.4 250.6 L988.2 253.6 L987.9 256.6 L987.7 259.6 L987.5 262.5 L987.3 265.5 L987.1 268.5 L987.0 271.5 L986.8 274.5 L986.6 277.5 L986.4 280.5 L986.2 283.5 L986.0 286.5 L985.8 289.5 L985.7 292.5 L985.5 295.5 L985.3 298.5 L985.1 301.5 L985.0 304.5 L984.8 307.5 L984.6 310.5 L984.5 313.5 L984.3 316.5 L984.2 319.5 L984.0 322.5 L983.8 325.5 L983.7 328.5 L983.5 331.5 L983.4 334.5 L983.2 337.5 L983.1 340.5 L983.0 343.5 L982.8 346.5 L982.7 349.5 L982.5 352.5 L982.4 355.5 L982.3 358.5 L982.1 361.5 L982.0 364.5 L981.9 367.5 L981.7 370.5 L981.6 373.5 L981.5 376.5 L981.4 379.5 L981.2 382.5 L981.1 385.5 L981.0 388.5 L980.9 391.5 L980.8 394.5 L980.7 397.5 L980.5 400.5 L980.4 403.5 L980.3 406.5 L980.2 409.5 L980.1 412.5 L980.0 415.5 L979.9 418.5 L979.8 421.5 L979.7 424.5 L979.6 427.5 L979.5 430.5 L979.4 433.5 L979.3 436.5 L979.3 439.5 L979.2 442.5 L979.1 445.5 L979.0 448.5 L978.9 451.5 L978.8 454.5 L978.7 457.5 L978.6 460.5 L978.5 463.5 L978.4 466.5 L978.4 469.5 L978.3 472.5 L978.2 475.5 L978.1 478.5 L978.0 481.5 L977.9 484.5 L977.8 487.5 L977.8 490.5 L977.7 493.5 L977.6 496.6 L977.5 499.6 L977.4 502.6 L977.3 505.6 L977.2 508.6 L977.1 511.6 L977.0 514.6 L977.0 517.6 L976.9 520.6 L976.8 523.6 L976.7 526.6 L976.6 529.6 L976.5 532.6 L976.4 535.6 L976.3 538.6 L976.2 541.6 L976.1 544.6 L976.0 547.6 L975.9 550.6 L975.8 553.6 L975.7 556.6 L975.6 559.6 L975.5 562.6 L975.3 565.6 L975.2 568.6 L975.1 571.6 L975.0 574.6 L974.9 577.6 L974.8 580.6 L974.6 583.6 L974.5 586.6 L974.4 589.6 L974.3 592.6 L974.1 595.6 L974.0 598.6 L973.9 601.6 L973.7 604.6 L973.6 607.6 L973.4 610.6 L973.2 613.6 L973.1 616.6 L972.9 619.6 L972.7 622.6 L972.5 625.6 L972.3 628.6 L972.1 631.6 L971.9 634.6 L971.7 637.5 L971.5 640.5 L971.3 643.5 L971.1 646.5 L970.9 649.5 L970.7 652.5 L970.5 655.5 L970.3 658.5 L970.1 661.5 L969.9 664.5 L969.7 667.5 L969.5 670.5 L969.3 673.5 L969.1 676.5 L968.9 679.5 L968.7 682.5 L968.6 685.5 L968.4 688.5 L968.2 691.5 L968.1 694.5 L967.9 697.5 L967.8 700.5 L967.6 703.5 L967.5 706.5 L967.4 709.5 L967.3 712.5 L967.2 715.5 L967.0 718.5 L966.9 721.5 L966.8 724.5 L966.7 727.5 L966.6 730.5 L966.5 733.5 L966.4 736.5 L966.3 739.5 L966.2 742.5 L966.1 745.5 L966.0 748.5 L965.9 751.5 L965.8 754.5 L965.7 757.5 L965.6 760.5 L965.5 763.5 L965.4 766.5 L965.3 769.5 L965.2 772.5 L965.2 775.5 L965.1 778.5 L965.0 781.5 L964.9 784.5 L964.8 787.5 L964.7 790.5 L964.6 793.5 L964.5 796.5 L964.4 799.5 L964.4 802.5 L964.3 805.5 L964.2 808.5 L964.1 811.5 L964.0 814.5 L963.9 817.5 L963.8 820.5 L963.7 823.5 L963.6 826.5 L963.5 829.5 L963.4 832.5 L963.3 835.5 L963.2 838.5 L963.1 841.5 L963.1 844.5 L963.0 847.5 L962.9 850.5 L962.8 853.5 L962.7 856.5 L962.6 859.5 L962.5 862.6 L962.4 865.6 L962.3 868.6 L962.2 871.6 L962.1 874.6 L962.0 877.6 L962.0 880.6 L961.9 883.6 L961.8 886.6 L961.7 889.6 L961.6 892.6 L961.5 895.6 L961.4 898.6 L961.3 901.6 L961.2 904.6 L961.1 907.6 L961.0 910.6 L960.9 913.6 L960.8 916.6 L960.7 919.6 L960.6 922.6 L960.5 925.6 L960.4 928.6 L960.3 931.6 L960.2 934.6 L960.1 937.6 L960.0 940.6 L959.9 943.6 L959.8 946.6 L959.7 949.6 L959.6 952.6 L959.5 955.6 L959.3 958.6 L959.2 961.6 L959.1 964.6 L959.0 967.6 L958.9 970.6 L958.8 973.6 L958.7 976.6 L958.6 979.6 L958.4 982.6 L958.3 985.6 L958.2 988.6 L958.1 991.6 L958.0 994.6 L957.9 997.6 L957.8 1000.6 L957.6 1003.6 L957.5 1006.6 L957.4 1009.6 L957.3 1012.6 L957.2 1015.6 L957.0 1018.6 L956.9 1021.6 L956.8 1024.6 L956.7 1027.6 L956.5 1030.6 L956.4 1033.6 L956.3 1036.6 L956.1 1039.6 L956.0 1042.6 L955.9 1045.6 L955.7 1048.6 L955.6 1051.6 L955.4 1054.6 L955.3 1057.6 L955.1 1060.6 L955.0 1063.6 L954.8 1066.6 L954.6 1069.6 L954.5 1072.6 L954.3 1075.6 L954.1 1078.6 L954.0 1081.6 L953.8 1084.6 L953.6 1087.6 L953.4 1090.6 L953.2 1093.6 L953.0 1096.6 L952.8 1099.6 L952.6 1102.6 L952.4 1105.6 L952.2 1108.6 L951.9 1111.5 L951.7 1114.5 L951.4 1117.5 L951.0 1120.5 L950.7 1123.5 L950.4 1126.5 L950.1 1129.5 L949.7 1132.5 L949.4 1135.4 L949.1 1138.4 L948.7 1141.4 L948.4 1144.4 L948.0 1147.4 L947.7 1150.4 L947.3 1153.3 L946.8 1156.3 L946.3 1159.3 L945.8 1162.2 L945.2 1165.2 L944.5 1168.1 L943.8 1171.0 L943.0 1173.9 L942.1 1176.8 L941.1 1179.8 L940.0 1182.9 L938.8 1185.8 L937.4 1188.3 L935.7 1190.5 L933.7 1192.1 L931.2 1193.5 L928.4 1194.8 L925.4 1195.8 L922.4 1196.6 L919.4 1197.4 L916.5 1198.0 L913.6 1198.6 L910.6 1199.1 L907.6 1199.6 L904.6 1200.0 L901.6 1200.3 L898.6 1200.6 L895.6 1200.9 L892.7 1201.1 L889.7 1201.3 L886.7 1201.5 L883.7 1201.7 L880.7 1201.9 L877.7 1202.1 L874.7 1202.2 L871.7 1202.4 L868.7 1202.6 L865.7 1202.8 L862.7 1203.0 L859.7 1203.2 L856.7 1203.4 L853.7 1203.6 L850.7 1203.9 L847.7 1204.1 L844.7 1204.3 L841.7 1204.5 L838.7 1204.6 L835.7 1204.8 L832.7 1205.0 L829.7 1205.1 L826.7 1205.2 L823.7 1205.2 L820.7 1205.3 L817.7 1205.3 L814.7 1205.3 L811.7 1205.3 L808.7 1205.2 L805.7 1205.2 L802.7 1205.1 L799.7 1205.1 L796.7 1205.0 L793.7 1204.9 L790.7 1204.8 L787.7 1204.7 L784.7 1204.7 L781.7 1204.6 L778.7 1204.5 L775.7 1204.4 L772.7 1204.3 L769.7 1204.2 L766.7 1204.1 L763.6 1204.0 L760.6 1204.0 L757.6 1203.9 L754.6 1203.8 L751.6 1203.8 L748.6 1203.8 L745.6 1203.7 L742.6 1203.7 L739.6 1203.7 L736.6 1203.7 L733.6 1203.7 L730.6 1203.8 L727.6 1203.9 L724.6 1203.9 L721.6 1204.0 L718.6 1204.1 L715.6 1204.2 L712.6 1204.4 L709.6 1204.5 L706.6 1204.6 L703.6 1204.8 L700.6 1205.0 L697.6 1205.1 L694.6 1205.3 L691.6 1205.5 L688.6 1205.7 L685.6 1205.9 L682.6 1206.1 L679.6 1206.3 L676.6 1206.5 L673.6 1206.7 L670.6 1206.9 L667.7 1207.1 L664.7 1207.3 L661.7 1207.5 L658.7 1207.7 L655.7 1207.8 L652.7 1208.0 L649.7 1208.2 L646.7 1208.4 L643.7 1208.6 L640.7 1208.8 L637.7 1209.0 L634.7 1209.2 L631.7 1209.5 L628.7 1209.7 L625.7 1210.0 L622.7 1210.2 L619.7 1210.4 L616.7 1210.6 L613.7 1210.8 L610.7 1211.0 L607.7 1211.1 L604.7 1211.2 L601.7 1211.3 L598.7 1211.3 L595.7 1211.3 L592.7 1211.4 L589.7 1211.4 L586.7 1211.4 L583.7 1211.4 L580.7 1211.4 L577.7 1211.4 L574.7 1211.4 L571.7 1211.4 L568.7 1211.5 L565.7 1211.5 L562.7 1211.5 L559.7 1211.5 L556.7 1211.5 L553.7 1211.5 L550.7 1211.5 L547.7 1211.5 L544.7 1211.5 L541.7 1211.5 L538.7 1211.5 L535.7 1211.6 L532.7 1211.6 L529.6 1211.6 L526.6 1211.6 L523.6 1211.6 L520.6 1211.6 L517.6 1211.7 L514.6 1211.7 L511.6 1211.7 L508.6 1211.7 L505.6 1211.8 L502.6 1211.8 L499.6 1211.8 L496.6 1211.9 L493.6 1211.9 L490.6 1212.0 L487.6 1212.0 L484.6 1212.0 L481.6 1212.1 L478.6 1212.1 L475.6 1212.1 L472.6 1212.2 L469.6 1212.2 L466.6 1212.2 L463.6 1212.3 L460.6 1212.3 L457.6 1212.3 L454.6 1212.3 L451.6 1212.4 L448.6 1212.4 L445.6 1212.4 L442.6 1212.4 L439.6 1212.4 L436.6 1212.4 L433.6 1212.4 L430.6 1212.3 L427.6 1212.2 L424.6 1212.1 L421.6 1212.0 L418.6 1211.9 L415.6 1211.7 L412.6 1211.6 L409.6 1211.4 L406.6 1211.2 L403.6 1211.0 L400.6 1210.8 L397.6 1210.6 L394.6 1210.4 L391.6 1210.2 L388.6 1210.0 L385.6 1209.8 L382.6 1209.6 L379.6 1209.4 L376.6 1209.3 L373.6 1209.1 L370.6 1209.0 L367.6 1208.8 L364.6 1208.7 L361.6 1208.6 L358.6 1208.6 L355.6 1208.5 L352.6 1208.4 L349.6 1208.3 L346.6 1208.2 L343.6 1208.1 L340.6 1208.0 L337.6 1208.0 L334.6 1207.9 L331.6 1207.8 L328.6 1207.7 L325.6 1207.6 L322.6 1207.6 L319.6 1207.5 L316.6 1207.4 L313.6 1207.3 L310.6 1207.3 L307.6 1207.2 L304.6 1207.1 L301.6 1207.1 L298.6 1207.0 L295.6 1207.0 L292.6 1206.9 L289.6 1206.8 L286.5 1206.8 L283.5 1206.7 L280.5 1206.7 L277.5 1206.7 L274.5 1206.6 L271.5 1206.6 L268.5 1206.5 L265.5 1206.5 L262.5 1206.5 L259.5 1206.5 L256.5 1206.4 L253.5 1206.4 L250.5 1206.4 L247.5 1206.4 L244.5 1206.4Z M1001.5 163.2 L1001.0 164.3 L1000.5 167.1 L1000.0 170.7 L999.5 174.1 L999.2 177.3 L998.8 180.3 L998.5 183.3 L998.2 186.2 L997.9 189.2 L997.6 192.2 L997.3 195.2 L997.0 198.2 L996.7 201.2 L996.4 204.2 L996.1 207.2 L995.8 210.2 L995.5 213.1 L995.2 216.1 L995.0 219.1 L994.7 222.1 L994.4 225.1 L994.2 228.1 L993.9 231.1 L993.7 234.1 L993.5 237.1 L993.3 240.1 L993.1 243.1 L992.9 246.1 L992.7 249.1 L992.4 252.1 L992.2 255.1 L992.0 258.0 L991.8 261.0 L991.6 264.0 L991.5 267.0 L991.3 270.0 L991.1 273.0 L990.9 276.0 L990.7 279.0 L990.5 282.0 L990.3 285.0 L990.2 288.0 L990.0 291.0 L989.8 294.0 L989.6 297.0 L989.5 300.0 L989.3 303.0 L989.1 306.0 L989.0 309.0 L988.8 312.0 L988.7 315.0 L988.5 318.0 L988.3 321.0 L988.2 324.0 L988.0 327.0 L987.9 330.0 L987.7 333.0 L987.6 336.0 L987.5 339.0 L987.3 342.0 L987.2 345.0 L987.0 348.0 L986.9 351.0 L986.8 354.0 L986.6 357.0 L986.5 360.0 L986.4 363.0 L986.2 366.0 L986.1 369.0 L986.0 372.0 L985.9 375.0 L985.7 378.0 L985.6 381.0 L985.5 384.0 L985.4 387.0 L985.3 390.0 L985.2 393.0 L985.0 396.0 L984.9 399.0 L984.8 402.0 L984.7 405.0 L984.6 408.0 L984.5 411.0 L984.4 414.0 L984.3 417.0 L984.2 420.0 L984.1 423.0 L984.0 426.0 L983.9 429.0 L983.8 432.0 L983.8 435.0 L983.7 438.0 L983.6 441.0 L983.5 444.0 L983.4 447.0 L983.3 450.0 L983.2 453.0 L983.1 456.0 L983.0 459.0 L982.9 462.0 L982.9 465.0 L982.8 468.0 L982.7 471.0 L982.6 474.0 L982.5 477.0 L982.4 480.0 L982.3 483.0 L982.3 486.0 L982.2 489.0 L982.1 492.1 L982.0 495.1 L981.9 498.1 L981.8 501.1 L981.7 504.1 L981.6 507.1 L981.5 510.1 L981.5 513.1 L981.4 516.1 L981.3 519.1 L981.2 522.1 L981.1 525.1 L981.0 528.1 L980.9 531.1 L980.8 534.1 L980.7 537.1 L980.6 540.1 L980.5 543.1 L980.4 546.1 L980.3 549.1 L980.2 552.1 L980.1 555.1 L980.0 558.1 L979.8 561.1 L979.7 564.1 L979.6 567.1 L979.5 570.1 L979.4 573.1 L979.3 576.1 L979.1 579.1 L979.0 582.1 L978.9 585.1 L978.8 588.1 L978.6 591.1 L978.5 594.1 L978.4 597.1 L978.2 600.1 L978.1 603.1 L977.9 606.1 L977.7 609.1 L977.6 612.1 L977.4 615.1 L977.2 618.1 L977.0 621.1 L976.8 624.1 L976.6 627.1 L976.4 630.1 L976.2 633.0 L976.0 636.0 L975.8 639.0 L975.6 642.0 L975.4 645.0 L975.2 648.0 L975.0 651.0 L974.8 654.0 L974.6 657.0 L974.4 660.0 L974.2 663.0 L974.0 666.0 L973.8 669.0 L973.6 672.0 L973.4 675.0 L973.2 678.0 L973.1 681.0 L972.9 684.0 L972.7 687.0 L972.6 690.0 L972.4 693.0 L972.3 696.0 L972.1 699.0 L972.0 702.0 L971.9 705.0 L971.8 708.0 L971.7 711.0 L971.5 714.0 L971.4 717.0 L971.3 720.0 L971.2 723.0 L971.1 726.0 L971.0 729.0 L970.9 732.0 L970.8 735.0 L970.7 738.0 L970.6 741.0 L970.5 744.0 L970.4 747.0 L970.3 750.0 L970.2 753.0 L970.1 756.0 L970.0 759.0 L969.9 762.0 L969.8 765.0 L969.7 768.0 L969.7 771.0 L969.6 774.0 L969.5 777.0 L969.4 780.0 L969.3 783.0 L969.2 786.0 L969.1 789.0 L969.0 792.0 L968.9 795.0 L968.9 798.0 L968.8 801.0 L968.7 804.0 L968.6 807.0 L968.5 810.0 L968.4 813.0 L968.3 816.0 L968.2 819.0 L968.1 822.0 L968.0 825.0 L967.9 828.0 L967.8 831.0 L967.7 834.0 L967.6 837.0 L967.6 840.0 L967.5 843.0 L967.4 846.0 L967.3 849.0 L967.2 852.0 L967.1 855.0 L967.0 858.1 L966.9 861.1 L966.8 864.1 L966.7 867.1 L966.6 870.1 L966.5 873.1 L966.5 876.1 L966.4 879.1 L966.3 882.1 L966.2 885.1 L966.1 888.1 L966.0 891.1 L965.9 894.1 L965.8 897.1 L965.7 900.1 L965.6 903.1 L965.5 906.1 L965.4 909.1 L965.3 912.1 L965.2 915.1 L965.1 918.1 L965.0 921.1 L964.9 924.1 L964.8 927.1 L964.7 930.1 L964.6 933.1 L964.5 936.1 L964.4 939.1 L964.3 942.1 L964.2 945.1 L964.1 948.1 L964.0 951.1 L963.8 954.1 L963.7 957.1 L963.6 960.1 L963.5 963.1 L963.4 966.1 L963.3 969.1 L963.2 972.1 L963.1 975.1 L962.9 978.1 L962.8 981.1 L962.7 984.1 L962.6 987.1 L962.5 990.1 L962.4 993.1 L962.3 996.1 L962.1 999.1 L962.0 1002.1 L961.9 1005.1 L961.8 1008.1 L961.7 1011.1 L961.5 1014.1 L961.4 1017.1 L961.3 1020.1 L961.2 1023.1 L961.0 1026.1 L960.9 1029.1 L960.8 1032.1 L960.6 1035.1 L960.5 1038.1 L960.4 1041.1 L960.2 1044.1 L960.1 1047.1 L959.9 1050.1 L959.8 1053.1 L959.6 1056.1 L959.5 1059.1 L959.3 1062.1 L959.1 1065.1 L959.0 1068.1 L958.8 1071.1 L958.6 1074.1 L958.5 1077.1 L958.3 1080.1 L958.1 1083.1 L957.9 1086.1 L957.7 1089.1 L957.5 1092.1 L957.3 1095.1 L957.1 1098.1 L956.9 1101.1 L956.7 1104.1 L956.4 1107.0 L956.2 1110.0 L955.9 1113.0 L955.5 1116.0 L955.2 1119.0 L954.9 1122.0 L954.6 1125.0 L954.2 1128.0 L953.9 1130.9 L953.6 1133.9 L953.2 1136.9 L952.9 1139.9 L952.5 1142.9 L952.2 1145.9 L951.8 1148.8 L951.3 1151.8 L950.8 1154.8 L950.3 1157.7 L949.7 1160.7 L949.0 1163.6 L948.3 1166.5 L947.5 1169.4 L946.6 1172.3 L945.6 1175.3 L944.5 1178.4 L943.3 1181.3 L941.9 1183.8 L940.2 1186.0 L938.2 1187.6 L929.2 1187.6 L931.2 1186.0 L932.9 1183.8 L934.3 1181.3 L935.5 1178.4 L936.6 1175.3 L937.6 1172.3 L938.5 1169.4 L939.3 1166.5 L940.0 1163.6 L940.7 1160.7 L941.3 1157.7 L941.8 1154.8 L942.3 1151.8 L942.8 1148.8 L943.2 1145.9 L943.5 1142.9 L943.9 1139.9 L944.2 1136.9 L944.6 1133.9 L944.9 1130.9 L945.2 1128.0 L945.6 1125.0 L945.9 1122.0 L946.2 1119.0 L946.5 1116.0 L946.9 1113.0 L947.2 1110.0 L947.4 1107.0 L947.7 1104.1 L947.9 1101.1 L948.1 1098.1 L948.3 1095.1 L948.5 1092.1 L948.7 1089.1 L948.9 1086.1 L949.1 1083.1 L949.3 1080.1 L949.5 1077.1 L949.6 1074.1 L949.8 1071.1 L950.0 1068.1 L950.1 1065.1 L950.3 1062.1 L950.5 1059.1 L950.6 1056.1 L950.8 1053.1 L950.9 1050.1 L951.1 1047.1 L951.2 1044.1 L951.4 1041.1 L951.5 1038.1 L951.6 1035.1 L951.8 1032.1 L951.9 1029.1 L952.0 1026.1 L952.2 1023.1 L952.3 1020.1 L952.4 1017.1 L952.5 1014.1 L952.7 1011.1 L952.8 1008.1 L952.9 1005.1 L953.0 1002.1 L953.1 999.1 L953.3 996.1 L953.4 993.1 L953.5 990.1 L953.6 987.1 L953.7 984.1 L953.8 981.1 L953.9 978.1 L954.1 975.1 L954.2 972.1 L954.3 969.1 L954.4 966.1 L954.5 963.1 L954.6 960.1 L954.7 957.1 L954.8 954.1 L955.0 951.1 L955.1 948.1 L955.2 945.1 L955.3 942.1 L955.4 939.1 L955.5 936.1 L955.6 933.1 L955.7 930.1 L955.8 927.1 L955.9 924.1 L956.0 921.1 L956.1 918.1 L956.2 915.1 L956.3 912.1 L956.4 909.1 L956.5 906.1 L956.6 903.1 L956.7 900.1 L956.8 897.1 L956.9 894.1 L957.0 891.1 L957.1 888.1 L957.2 885.1 L957.3 882.1 L957.4 879.1 L957.5 876.1 L957.5 873.1 L957.6 870.1 L957.7 867.1 L957.8 864.1 L957.9 861.1 L958.0 858.1 L958.1 855.0 L958.2 852.0 L958.3 849.0 L958.4 846.0 L958.5 843.0 L958.6 840.0 L958.6 837.0 L958.7 834.0 L958.8 831.0 L958.9 828.0 L959.0 825.0 L959.1 822.0 L959.2 819.0 L959.3 816.0 L959.4 813.0 L959.5 810.0 L959.6 807.0 L959.7 804.0 L959.8 801.0 L959.9 798.0 L959.9 795.0 L960.0 792.0 L960.1 789.0 L960.2 786.0 L960.3 783.0 L960.4 780.0 L960.5 777.0 L960.6 774.0 L960.7 771.0 L960.7 768.0 L960.8 765.0 L960.9 762.0 L961.0 759.0 L961.1 756.0 L961.2 753.0 L961.3 750.0 L961.4 747.0 L961.5 744.0 L961.6 741.0 L961.7 738.0 L961.8 735.0 L961.9 732.0 L962.0 729.0 L962.1 726.0 L962.2 723.0 L962.3 720.0 L962.4 717.0 L962.5 714.0 L962.7 711.0 L962.8 708.0 L962.9 705.0 L963.0 702.0 L963.1 699.0 L963.3 696.0 L963.4 693.0 L963.6 690.0 L963.7 687.0 L963.9 684.0 L964.1 681.0 L964.2 678.0 L964.4 675.0 L964.6 672.0 L964.8 669.0 L965.0 666.0 L965.2 663.0 L965.4 660.0 L965.6 657.0 L965.8 654.0 L966.0 651.0 L966.2 648.0 L966.4 645.0 L966.6 642.0 L966.8 639.0 L967.0 636.0 L967.2 633.0 L967.4 630.1 L967.6 627.1 L967.8 624.1 L968.0 621.1 L968.2 618.1 L968.4 615.1 L968.6 612.1 L968.7 609.1 L968.9 606.1 L969.1 603.1 L969.2 600.1 L969.4 597.1 L969.5 594.1 L969.6 591.1 L969.8 588.1 L969.9 585.1 L970.0 582.1 L970.1 579.1 L970.3 576.1 L970.4 573.1 L970.5 570.1 L970.6 567.1 L970.7 564.1 L970.8 561.1 L971.0 558.1 L971.1 555.1 L971.2 552.1 L971.3 549.1 L971.4 546.1 L971.5 543.1 L971.6 540.1 L971.7 537.1 L971.8 534.1 L971.9 531.1 L972.0 528.1 L972.1 525.1 L972.2 522.1 L972.3 519.1 L972.4 516.1 L972.5 513.1 L972.5 510.1 L972.6 507.1 L972.7 504.1 L972.8 501.1 L972.9 498.1 L973.0 495.1 L973.1 492.1 L973.2 489.0 L973.3 486.0 L973.3 483.0 L973.4 480.0 L973.5 477.0 L973.6 474.0 L973.7 471.0 L973.8 468.0 L973.9 465.0 L973.9 462.0 L974.0 459.0 L974.1 456.0 L974.2 453.0 L974.3 450.0 L974.4 447.0 L974.5 444.0 L974.6 441.0 L974.7 438.0 L974.8 435.0 L974.8 432.0 L974.9 429.0 L975.0 426.0 L975.1 423.0 L975.2 420.0 L975.3 417.0 L975.4 414.0 L975.5 411.0 L975.6 408.0 L975.7 405.0 L975.8 402.0 L975.9 399.0 L976.0 396.0 L976.2 393.0 L976.3 390.0 L976.4 387.0 L976.5 384.0 L976.6 381.0 L976.7 378.0 L976.9 375.0 L977.0 372.0 L977.1 369.0 L977.2 366.0 L977.4 363.0 L977.5 360.0 L977.6 357.0 L977.8 354.0 L977.9 351.0 L978.0 348.0 L978.2 345.0 L978.3 342.0 L978.5 339.0 L978.6 336.0 L978.7 333.0 L978.9 330.0 L979.0 327.0 L979.2 324.0 L979.3 321.0 L979.5 318.0 L979.7 315.0 L979.8 312.0 L980.0 309.0 L980.1 306.0 L980.3 303.0 L980.5 300.0 L980.6 297.0 L980.8 294.0 L981.0 291.0 L981.2 288.0 L981.3 285.0 L981.5 282.0 L981.7 279.0 L981.9 276.0 L982.1 273.0 L982.3 270.0 L982.5 267.0 L982.6 264.0 L982.8 261.0 L983.0 258.0 L983.2 255.1 L983.4 252.1 L983.7 249.1 L983.9 246.1 L984.1 243.1 L984.3 240.1 L984.5 237.1 L984.7 234.1 L984.9 231.1 L985.2 228.1 L985.4 225.1 L985.7 222.1 L986.0 219.1 L986.2 216.1 L986.5 213.1 L986.8 210.2 L987.1 207.2 L987.4 204.2 L987.7 201.2 L988.0 198.2 L988.3 195.2 L988.6 192.2 L988.9 189.2 L989.2 186.2 L989.5 183.3 L989.8 180.3 L990.2 177.3 L990.5 174.1 L991.0 170.7 L991.5 167.1 L992.0 164.3 L992.5 163.2Z M1001.5 163.2 L1002.0 164.3 L1002.5 167.0 L1003.0 170.5 L1003.4 174.0 L1003.8 177.1 L1004.2 180.1 L1004.5 183.1 L1004.8 186.1 L1005.1 189.1 L1005.4 192.1 L1005.7 195.1 L1006.0 198.1 L1006.3 201.1 L1006.6 204.0 L1006.9 207.0 L1007.2 210.0 L1007.5 213.0 L1007.7 216.0 L1008.0 219.0 L1008.2 222.0 L1008.5 225.0 L1008.7 228.0 L1008.9 231.0 L1009.0 234.0 L1009.2 237.0 L1009.4 240.0 L1009.5 243.0 L1009.6 246.0 L1009.8 249.0 L1009.9 252.0 L1010.0 255.0 L1010.2 258.0 L1010.3 261.0 L1010.4 264.0 L1010.5 267.0 L1010.6 270.0 L1010.7 273.0 L1010.8 276.0 L1010.9 279.0 L1011.0 282.0 L1011.1 285.0 L1011.2 288.0 L1011.3 291.0 L1011.4 294.0 L1011.5 297.0 L1011.6 300.0 L1011.7 303.0 L1011.7 306.0 L1011.8 309.0 L1011.9 312.0 L1012.0 315.0 L1012.1 318.0 L1012.2 321.0 L1012.3 324.0 L1012.3 327.0 L1012.4 330.0 L1012.5 333.0 L1012.6 336.0 L1012.7 339.0 L1012.8 342.0 L1012.9 345.0 L1013.0 348.0 L1013.1 351.0 L1013.2 354.0 L1013.3 357.0 L1013.4 360.0 L1013.5 363.0 L1013.7 366.0 L1013.8 369.0 L1013.9 372.0 L1014.0 375.0 L1014.1 378.0 L1014.2 381.0 L1014.4 384.0 L1014.5 387.0 L1014.6 390.0 L1014.7 393.0 L1014.9 396.0 L1015.0 399.0 L1015.1 402.0 L1015.2 405.0 L1015.4 408.0 L1015.5 411.0 L1015.6 414.0 L1015.7 417.0 L1015.9 420.0 L1016.0 423.0 L1016.1 426.0 L1016.3 429.0 L1016.4 432.0 L1016.5 435.0 L1016.7 438.0 L1016.8 441.0 L1016.9 444.0 L1017.1 447.0 L1017.2 450.0 L1017.3 453.0 L1017.5 456.0 L1017.6 459.0 L1017.7 462.0 L1017.9 465.0 L1018.0 468.0 L1018.1 471.0 L1018.3 474.0 L1018.4 477.0 L1018.5 480.0 L1018.7 483.0 L1018.8 486.0 L1019.0 489.0 L1019.1 492.0 L1019.2 495.0 L1019.4 498.0 L1019.5 501.0 L1019.6 504.0 L1019.8 507.0 L1019.9 510.0 L1020.0 513.0 L1020.2 516.0 L1020.3 519.0 L1020.4 522.0 L1020.6 525.0 L1020.7 528.0 L1020.8 531.0 L1021.0 534.0 L1021.1 537.0 L1021.2 540.0 L1021.4 543.0 L1021.5 546.0 L1021.6 549.0 L1021.8 552.0 L1021.9 555.0 L1022.0 558.0 L1022.1 561.0 L1022.3 564.0 L1022.4 567.0 L1022.5 570.0 L1022.6 573.0 L1022.8 576.0 L1022.9 579.0 L1023.0 582.0 L1023.1 585.0 L1023.3 588.0 L1023.4 591.0 L1023.5 594.0 L1023.6 597.0 L1023.7 600.0 L1023.8 603.0 L1024.0 606.0 L1024.1 609.0 L1024.2 612.0 L1024.3 615.0 L1024.4 618.0 L1024.5 621.0 L1024.6 624.0 L1024.7 627.0 L1024.8 630.0 L1024.9 633.0 L1025.0 636.0 L1025.1 639.0 L1025.2 642.0 L1025.3 645.0 L1025.4 648.0 L1025.5 651.1 L1025.6 654.1 L1025.7 657.1 L1025.8 660.1 L1025.9 663.1 L1026.0 666.1 L1026.1 669.1 L1026.1 672.1 L1026.2 675.1 L1026.3 678.1 L1026.4 681.1 L1026.5 684.1 L1026.6 687.1 L1026.7 690.1 L1026.8 693.1 L1026.9 696.1 L1027.0 699.1 L1027.1 702.1 L1027.2 705.1 L1027.2 708.1 L1027.3 711.1 L1027.4 714.1 L1027.5 717.1 L1027.6 720.1 L1027.7 723.1 L1027.8 726.1 L1027.9 729.1 L1028.0 732.1 L1028.1 735.1 L1028.2 738.1 L1028.3 741.1 L1028.4 744.1 L1028.5 747.1 L1028.6 750.1 L1028.8 753.1 L1028.9 756.1 L1029.0 759.1 L1029.1 762.1 L1029.2 765.1 L1029.3 768.1 L1029.4 771.1 L1029.6 774.1 L1029.7 777.1 L1029.8 780.1 L1029.9 783.1 L1030.1 786.1 L1030.2 789.1 L1030.3 792.1 L1030.5 795.1 L1030.6 798.1 L1030.7 801.1 L1030.9 804.1 L1031.0 807.1 L1031.2 810.1 L1031.3 813.1 L1031.5 816.1 L1031.6 819.1 L1031.8 822.1 L1032.0 825.1 L1032.1 828.1 L1032.3 831.1 L1032.5 834.1 L1032.6 837.1 L1032.8 840.1 L1033.0 843.1 L1033.2 846.1 L1033.4 849.1 L1033.6 852.1 L1033.8 855.1 L1034.0 858.1 L1034.2 861.1 L1034.4 864.1 L1034.6 867.1 L1034.8 870.1 L1035.1 873.1 L1035.3 876.1 L1035.5 879.1 L1035.8 882.1 L1036.0 885.1 L1036.3 888.1 L1036.5 891.2 L1036.8 894.2 L1037.0 897.2 L1037.3 900.2 L1037.6 903.2 L1037.9 906.2 L1038.1 909.2 L1038.4 912.2 L1038.7 915.2 L1039.0 918.2 L1039.3 921.2 L1039.6 924.2 L1039.9 927.2 L1040.3 930.2 L1040.6 933.2 L1040.9 936.2 L1041.3 939.1 L1041.6 942.1 L1041.9 945.1 L1042.3 948.1 L1042.7 951.1 L1043.0 954.1 L1043.4 957.0 L1043.8 960.0 L1044.2 963.0 L1044.5 965.9 L1044.9 968.9 L1045.3 971.9 L1045.8 974.8 L1046.2 977.8 L1046.6 980.7 L1047.0 983.7 L1047.4 986.6 L1047.9 989.6 L1048.3 992.5 L1048.8 995.5 L1049.3 998.4 L1049.7 1001.3 L1050.2 1004.3 L1050.8 1007.2 L1051.4 1010.1 L1052.0 1013.0 L1052.7 1015.9 L1053.4 1018.8 L1054.2 1021.7 L1054.9 1024.6 L1055.7 1027.5 L1056.6 1030.4 L1057.4 1033.3 L1058.3 1036.2 L1059.2 1039.1 L1060.1 1041.9 L1061.0 1044.8 L1061.9 1047.7 L1062.9 1050.6 L1063.8 1053.4 L1064.8 1056.3 L1065.7 1059.2 L1066.7 1062.0 L1067.6 1064.9 L1068.6 1067.8 L1069.5 1070.6 L1070.4 1073.5 L1071.4 1076.4 L1072.3 1079.2 L1073.1 1082.1 L1074.0 1085.0 L1074.9 1087.9 L1075.8 1090.7 L1076.7 1093.6 L1077.6 1096.5 L1078.5 1099.4 L1079.4 1102.2 L1080.3 1105.1 L1081.2 1108.0 L1082.2 1110.8 L1083.2 1113.6 L1084.2 1116.5 L1085.3 1119.3 L1086.3 1122.0 L1087.4 1124.8 L1088.6 1127.6 L1089.8 1130.3 L1091.1 1133.0 L1092.4 1135.7 L1093.8 1138.4 L1095.2 1141.1 L1096.6 1143.7 L1098.0 1146.4 L1099.5 1149.0 L1090.5 1149.0 L1089.0 1146.4 L1087.6 1143.7 L1086.2 1141.1 L1084.8 1138.4 L1083.4 1135.7 L1082.1 1133.0 L1080.8 1130.3 L1079.6 1127.6 L1078.4 1124.8 L1077.3 1122.0 L1076.3 1119.3 L1075.2 1116.5 L1074.2 1113.6 L1073.2 1110.8 L1072.2 1108.0 L1071.3 1105.1 L1070.4 1102.2 L1069.5 1099.4 L1068.6 1096.5 L1067.7 1093.6 L1066.8 1090.7 L1065.9 1087.9 L1065.0 1085.0 L1064.1 1082.1 L1063.3 1079.2 L1062.4 1076.4 L1061.4 1073.5 L1060.5 1070.6 L1059.6 1067.8 L1058.6 1064.9 L1057.7 1062.0 L1056.7 1059.2 L1055.8 1056.3 L1054.8 1053.4 L1053.9 1050.6 L1052.9 1047.7 L1052.0 1044.8 L1051.1 1041.9 L1050.2 1039.1 L1049.3 1036.2 L1048.4 1033.3 L1047.6 1030.4 L1046.7 1027.5 L1045.9 1024.6 L1045.2 1021.7 L1044.4 1018.8 L1043.7 1015.9 L1043.0 1013.0 L1042.4 1010.1 L1041.8 1007.2 L1041.2 1004.3 L1040.7 1001.3 L1040.3 998.4 L1039.8 995.5 L1039.3 992.5 L1038.9 989.6 L1038.4 986.6 L1038.0 983.7 L1037.6 980.7 L1037.2 977.8 L1036.8 974.8 L1036.3 971.9 L1035.9 968.9 L1035.5 965.9 L1035.2 963.0 L1034.8 960.0 L1034.4 957.0 L1034.0 954.1 L1033.7 951.1 L1033.3 948.1 L1032.9 945.1 L1032.6 942.1 L1032.3 939.1 L1031.9 936.2 L1031.6 933.2 L1031.3 930.2 L1030.9 927.2 L1030.6 924.2 L1030.3 921.2 L1030.0 918.2 L1029.7 915.2 L1029.4 912.2 L1029.1 909.2 L1028.9 906.2 L1028.6 903.2 L1028.3 900.2 L1028.0 897.2 L1027.8 894.2 L1027.5 891.2 L1027.3 888.1 L1027.0 885.1 L1026.8 882.1 L1026.5 879.1 L1026.3 876.1 L1026.1 873.1 L1025.8 870.1 L1025.6 867.1 L1025.4 864.1 L1025.2 861.1 L1025.0 858.1 L1024.8 855.1 L1024.6 852.1 L1024.4 849.1 L1024.2 846.1 L1024.0 843.1 L1023.8 840.1 L1023.6 837.1 L1023.5 834.1 L1023.3 831.1 L1023.1 828.1 L1023.0 825.1 L1022.8 822.1 L1022.6 819.1 L1022.5 816.1 L1022.3 813.1 L1022.2 810.1 L1022.0 807.1 L1021.9 804.1 L1021.7 801.1 L1021.6 798.1 L1021.5 795.1 L1021.3 792.1 L1021.2 789.1 L1021.1 786.1 L1020.9 783.1 L1020.8 780.1 L1020.7 777.1 L1020.6 774.1 L1020.4 771.1 L1020.3 768.1 L1020.2 765.1 L1020.1 762.1 L1020.0 759.1 L1019.9 756.1 L1019.8 753.1 L1019.6 750.1 L1019.5 747.1 L1019.4 744.1 L1019.3 741.1 L1019.2 738.1 L1019.1 735.1 L1019.0 732.1 L1018.9 729.1 L1018.8 726.1 L1018.7 723.1 L1018.6 720.1 L1018.5 717.1 L1018.4 714.1 L1018.3 711.1 L1018.2 708.1 L1018.2 705.1 L1018.1 702.1 L1018.0 699.1 L1017.9 696.1 L1017.8 693.1 L1017.7 690.1 L1017.6 687.1 L1017.5 684.1 L1017.4 681.1 L1017.3 678.1 L1017.2 675.1 L1017.1 672.1 L1017.1 669.1 L1017.0 666.1 L1016.9 663.1 L1016.8 660.1 L1016.7 657.1 L1016.6 654.1 L1016.5 651.1 L1016.4 648.0 L1016.3 645.0 L1016.2 642.0 L1016.1 639.0 L1016.0 636.0 L1015.9 633.0 L1015.8 630.0 L1015.7 627.0 L1015.6 624.0 L1015.5 621.0 L1015.4 618.0 L1015.3 615.0 L1015.2 612.0 L1015.1 609.0 L1015.0 606.0 L1014.8 603.0 L1014.7 600.0 L1014.6 597.0 L1014.5 594.0 L1014.4 591.0 L1014.3 588.0 L1014.1 585.0 L1014.0 582.0 L1013.9 579.0 L1013.8 576.0 L1013.6 573.0 L1013.5 570.0 L1013.4 567.0 L1013.3 564.0 L1013.1 561.0 L1013.0 558.0 L1012.9 555.0 L1012.8 552.0 L1012.6 549.0 L1012.5 546.0 L1012.4 543.0 L1012.2 540.0 L1012.1 537.0 L1012.0 534.0 L1011.8 531.0 L1011.7 528.0 L1011.6 525.0 L1011.4 522.0 L1011.3 519.0 L1011.2 516.0 L1011.0 513.0 L1010.9 510.0 L1010.8 507.0 L1010.6 504.0 L1010.5 501.0 L1010.4 498.0 L1010.2 495.0 L1010.1 492.0 L1010.0 489.0 L1009.8 486.0 L1009.7 483.0 L1009.5 480.0 L1009.4 477.0 L1009.3 474.0 L1009.1 471.0 L1009.0 468.0 L1008.9 465.0 L1008.7 462.0 L1008.6 459.0 L1008.5 456.0 L1008.3 453.0 L1008.2 450.0 L1008.1 447.0 L1007.9 444.0 L1007.8 441.0 L1007.7 438.0 L1007.5 435.0 L1007.4 432.0 L1007.3 429.0 L1007.1 426.0 L1007.0 423.0 L1006.9 420.0 L1006.7 417.0 L1006.6 414.0 L1006.5 411.0 L1006.4 408.0 L1006.2 405.0 L1006.1 402.0 L1006.0 399.0 L1005.9 396.0 L1005.7 393.0 L1005.6 390.0 L1005.5 387.0 L1005.4 384.0 L1005.2 381.0 L1005.1 378.0 L1005.0 375.0 L1004.9 372.0 L1004.8 369.0 L1004.7 366.0 L1004.5 363.0 L1004.4 360.0 L1004.3 357.0 L1004.2 354.0 L1004.1 351.0 L1004.0 348.0 L1003.9 345.0 L1003.8 342.0 L1003.7 339.0 L1003.6 336.0 L1003.5 333.0 L1003.4 330.0 L1003.3 327.0 L1003.3 324.0 L1003.2 321.0 L1003.1 318.0 L1003.0 315.0 L1002.9 312.0 L1002.8 309.0 L1002.7 306.0 L1002.7 303.0 L1002.6 300.0 L1002.5 297.0 L1002.4 294.0 L1002.3 291.0 L1002.2 288.0 L1002.1 285.0 L1002.0 282.0 L1001.9 279.0 L1001.8 276.0 L1001.7 273.0 L1001.6 270.0 L1001.5 267.0 L1001.4 264.0 L1001.3 261.0 L1001.2 258.0 L1001.0 255.0 L1000.9 252.0 L1000.8 249.0 L1000.6 246.0 L1000.5 243.0 L1000.4 240.0 L1000.2 237.0 L1000.0 234.0 L999.9 231.0 L999.7 228.0 L999.5 225.0 L999.2 222.0 L999.0 219.0 L998.7 216.0 L998.5 213.0 L998.2 210.0 L997.9 207.0 L997.6 204.0 L997.3 201.1 L997.0 198.1 L996.7 195.1 L996.4 192.1 L996.1 189.1 L995.8 186.1 L995.5 183.1 L995.2 180.1 L994.8 177.1 L994.4 174.0 L994.0 170.5 L993.5 167.0 L993.0 164.3 L992.5 163.2Z"/>
<path fill="#ff00ff" d="M244.5 1230.5 L247.5 1230.6 L250.5 1230.7 L253.5 1230.7 L256.5 1230.8 L259.5 1230.9 L262.5 1231.0 L265.5 1231.1 L268.5 1231.1 L271.5 1231.2 L274.5 1231.3 L277.5 1231.4 L280.5 1231.5 L283.5 1231.5 L286.5 1231.6 L289.5 1231.7 L292.5 1231.8 L295.5 1231.8 L298.5 1231.9 L301.5 1232.0 L304.5 1232.1 L307.5 1232.1 L310.6 1232.2 L313.6 1232.3 L316.6 1232.4 L319.6 1232.4 L322.6 1232.5 L325.6 1232.6 L328.6 1232.7 L331.6 1232.7 L334.6 1232.8 L337.6 1232.9 L340.6 1232.9 L343.6 1233.0 L346.6 1233.1 L349.6 1233.2 L352.6 1233.2 L355.6 1233.3 L358.6 1233.4 L361.6 1233.4 L364.6 1233.5 L367.6 1233.6 L370.6 1233.6 L373.6 1233.7 L376.6 1233.8 L379.6 1233.8 L382.6 1233.9 L385.6 1234.0 L388.6 1234.0 L391.6 1234.1 L394.6 1234.2 L397.6 1234.3 L400.6 1234.3 L403.6 1234.4 L406.6 1234.5 L409.6 1234.6 L412.6 1234.6 L415.6 1234.7 L418.6 1234.8 L421.6 1234.9 L424.6 1235.0 L427.6 1235.0 L430.7 1235.1 L433.7 1235.2 L436.7 1235.3 L439.7 1235.3 L442.7 1235.4 L445.7 1235.5 L448.7 1235.6 L451.7 1235.6 L454.7 1235.7 L457.7 1235.8 L460.7 1235.8 L463.7 1235.9 L466.7 1236.0 L469.7 1236.0 L472.7 1236.1 L475.7 1236.2 L478.7 1236.2 L481.7 1236.3 L484.7 1236.3 L487.7 1236.4 L490.7 1236.4 L493.7 1236.5 L496.7 1236.5 L499.7 1236.5 L502.7 1236.6 L505.7 1236.6 L508.7 1236.6 L511.7 1236.6 L514.7 1236.7 L517.7 1236.7 L520.7 1236.7 L523.7 1236.7 L526.7 1236.7 L529.7 1236.7 L532.7 1236.7 L535.7 1236.7 L538.8 1236.7 L541.8 1236.7 L544.8 1236.7 L547.8 1236.7 L550.8 1236.6 L553.8 1236.6 L556.8 1236.6 L559.8 1236.6 L562.8 1236.6 L565.8 1236.6 L568.8 1236.5 L571.8 1236.5 L574.8 1236.5 L577.8 1236.5 L580.8 1236.4 L583.8 1236.4 L586.8 1236.4 L589.8 1236.4 L592.8 1236.3 L595.8 1236.3 L598.8 1236.3 L601.8 1236.2 L604.8 1236.2 L607.8 1236.2 L610.8 1236.1 L613.8 1236.1 L616.8 1236.0 L619.8 1236.0 L622.8 1236.0 L625.8 1235.9 L628.8 1235.8 L631.8 1235.8 L634.8 1235.7 L637.9 1235.6 L640.9 1235.5 L643.9 1235.4 L646.9 1235.3 L649.9 1235.1 L652.9 1235.0 L655.9 1234.9 L658.9 1234.7 L661.9 1234.6 L664.9 1234.4 L667.9 1234.3 L670.9 1234.1 L673.9 1234.0 L676.9 1233.8 L679.9 1233.6 L682.9 1233.5 L685.9 1233.3 L688.9 1233.1 L691.9 1233.0 L694.9 1232.8 L697.9 1232.6 L700.9 1232.4 L703.8 1232.2 L706.8 1232.0 L709.8 1231.8 L712.8 1231.5 L715.8 1231.3 L718.8 1231.0 L721.8 1230.8 L724.8 1230.5 L727.8 1230.3 L730.8 1230.0 L733.8 1229.8 L736.8 1229.7 L739.8 1229.5 L742.8 1229.4 L745.8 1229.3 L748.8 1229.2 L751.8 1229.1 L754.8 1229.0 L757.8 1228.9 L760.8 1228.8 L763.8 1228.7 L766.8 1228.6 L769.8 1228.6 L772.8 1228.5 L775.8 1228.4 L778.8 1228.4 L781.8 1228.3 L784.8 1228.2 L787.8 1228.2 L790.8 1228.1 L793.8 1228.0 L796.8 1228.0 L799.8 1227.9 L802.8 1227.9 L805.8 1227.8 L808.8 1227.7 L811.8 1227.7 L814.8 1227.6 L817.8 1227.5 L820.8 1227.5 L823.8 1227.4 L826.9 1227.4 L829.9 1227.3 L832.9 1227.2 L835.9 1227.2 L838.9 1227.2 L841.9 1227.1 L844.9 1227.1 L847.9 1227.0 L850.9 1227.0 L853.9 1226.9 L856.9 1226.9 L859.9 1226.8 L862.9 1226.8 L865.9 1226.7 L868.9 1226.7 L871.9 1226.6 L874.9 1226.6 L877.9 1226.5 L880.9 1226.4 L883.9 1226.3 L886.9 1226.3 L889.9 1226.2 L892.9 1226.1 L895.9 1226.0 L898.9 1225.8 L901.9 1225.7 L904.9 1225.5 L907.9 1225.2 L910.9 1224.8 L913.9 1224.4 L916.9 1224.0 L919.8 1223.5 L922.8 1222.9 L926.0 1222.3 L929.2 1221.6 L932.4 1220.7 L935.4 1219.6 L937.9 1218.4 L939.7 1216.9 L940.9 1214.8 L941.8 1212.1 L942.6 1208.9 L943.4 1205.8 L944.4 1202.9 L945.6 1200.1 L946.8 1197.3 L947.9 1194.6 L948.7 1191.7 L949.4 1188.8 L949.9 1185.8 L950.3 1182.8 L950.5 1179.8 L950.6 1176.8 L950.7 1173.8 L950.7 1170.8 L950.7 1167.8 L950.7 1176.8 L950.7 1179.8 L950.7 1182.8 L950.6 1185.8 L950.5 1188.8 L950.3 1191.8 L949.9 1194.8 L949.4 1197.8 L948.7 1200.7 L947.9 1203.6 L946.8 1206.3 L945.6 1209.1 L944.4 1211.9 L943.4 1214.8 L942.6 1217.9 L941.8 1221.1 L940.9 1223.8 L939.7 1225.9 L937.9 1227.4 L935.4 1228.6 L932.4 1229.7 L929.2 1230.6 L926.0 1231.3 L922.8 1231.9 L919.8 1232.5 L916.9 1233.0 L913.9 1233.4 L910.9 1233.8 L907.9 1234.2 L904.9 1234.5 L901.9 1234.7 L898.9 1234.8 L895.9 1235.0 L892.9 1235.1 L889.9 1235.2 L886.9 1235.3 L883.9 1235.3 L880.9 1235.4 L877.9 1235.5 L874.9 1235.6 L871.9 1235.6 L868.9 1235.7 L865.9 1235.7 L862.9 1235.8 L859.9 1235.8 L856.9 1235.9 L853.9 1235.9 L850.9 1236.0 L847.9 1236.0 L844.9 1236.1 L841.9 1236.1 L838.9 1236.2 L835.9 1236.2 L832.9 1236.2 L829.9 1236.3 L826.9 1236.4 L823.8 1236.4 L820.8 1236.5 L817.8 1236.5 L814.8 1236.6 L811.8 1236.7 L808.8 1236.7 L805.8 1236.8 L802.8 1236.9 L799.8 1236.9 L796.8 1237.0 L793.8 1237.0 L790.8 1237.1 L787.8 1237.2 L784.8 1237.2 L781.8 1237.3 L778.8 1237.4 L775.8 1237.4 L772.8 1237.5 L769.8 1237.6 L766.8 1237.6 L763.8 1237.7 L760.8 1237.8 L757.8 1237.9 L754.8 1238.0 L751.8 1238.1 L748.8 1238.2 L745.8 1238.3 L742.8 1238.4 L739.8 1238.5 L736.8 1238.7 L733.8 1238.8 L730.8 1239.0 L727.8 1239.3 L724.8 1239.5 L721.8 1239.8 L718.8 1240.0 L715.8 1240.3 L712.8 1240.5 L709.8 1240.8 L706.8 1241.0 L703.8 1241.2 L700.9 1241.4 L697.9 1241.6 L694.9 1241.8 L691.9 1242.0 L688.9 1242.1 L685.9 1242.3 L682.9 1242.5 L679.9 1242.6 L676.9 1242.8 L673.9 1243.0 L670.9 1243.1 L667.9 1243.3 L664.9 1243.4 L661.9 1243.6 L658.9 1243.7 L655.9 1243.9 L652.9 1244.0 L649.9 1244.1 L646.9 1244.3 L643.9 1244.4 L640.9 1244.5 L637.9 1244.6 L634.8 1244.7 L631.8 1244.8 L628.8 1244.8 L625.8 1244.9 L622.8 1245.0 L619.8 1245.0 L616.8 1245.0 L613.8 1245.1 L610.8 1245.1 L607.8 1245.2 L604.8 1245.2 L601.8 1245.2 L598.8 1245.3 L595.8 1245.3 L592.8 1245.3 L589.8 1245.4 L586.8 1245.4 L583.8 1245.4 L580.8 1245.4 L577.8 1245.5 L574.8 1245.5 L571.8 1245.5 L568.8 1245.5 L565.8 1245.6 L562.8 1245.6 L559.8 1245.6 L556.8 1245.6 L553.8 1245.6 L550.8 1245.6 L547.8 1245.7 L544.8 1245.7 L541.8 1245.7 L538.8 1245.7 L535.7 1245.7 L532.7 1245.7 L529.7 1245.7 L526.7 1245.7 L523.7 1245.7 L520.7 1245.7 L517.7 1245.7 L514.7 1245.7 L511.7 1245.6 L508.7 1245.6 L505.7 1245.6 L502.7 1245.6 L499.7 1245.5 L496.7 1245.5 L493.7 1245.5 L490.7 1245.4 L487.7 1245.4 L484.7 1245.3 L481.7 1245.3 L478.7 1245.2 L475.7 1245.2 L472.7 1245.1 L469.7 1245.0 L466.7 1245.0 L463.7 1244.9 L460.7 1244.8 L457.7 1244.8 L454.7 1244.7 L451.7 1244.6 L448.7 1244.6 L445.7 1244.5 L442.7 1244.4 L439.7 1244.3 L436.7 1244.3 L433.7 1244.2 L430.7 1244.1 L427.6 1244.0 L424.6 1244.0 L421.6 1243.9 L418.6 1243.8 L415.6 1243.7 L412.6 1243.6 L409.6 1243.6 L406.6 1243.5 L403.6 1243.4 L400.6 1243.3 L397.6 1243.3 L394.6 1243.2 L391.6 1243.1 L388.6 1243.0 L385.6 1243.0 L382.6 1242.9 L379.6 1242.8 L376.6 1242.8 L373.6 1242.7 L370.6 1242.6 L367.6 1242.6 L364.6 1242.5 L361.6 1242.4 L358.6 1242.4 L355.6 1242.3 L352.6 1242.2 L349.6 1242.2 L346.6 1242.1 L343.6 1242.0 L340.6 1241.9 L337.6 1241.9 L334.6 1241.8 L331.6 1241.7 L328.6 1241.7 L325.6 1241.6 L322.6 1241.5 L319.6 1241.4 L316.6 1241.4 L313.6 1241.3 L310.6 1241.2 L307.5 1241.1 L304.5 1241.1 L301.5 1241.0 L298.5 1240.9 L295.5 1240.8 L292.5 1240.8 L289.5 1240.7 L286.5 1240.6 L283.5 1240.5 L280.5 1240.5 L277.5 1240.4 L274.5 1240.3 L271.5 1240.2 L268.5 1240.1 L265.5 1240.1 L262.5 1240.0 L259.5 1239.9 L256.5 1239.8 L253.5 1239.7 L250.5 1239.7 L247.5 1239.6 L244.5 1239.5Z M950.2 1128.8 L950.2 1131.8 L950.2 1134.8 L950.2 1137.8 L950.3 1140.8 L950.3 1143.8 L950.3 1146.8 L950.4 1149.8 L950.4 1152.8 L950.5 1155.8 L950.6 1158.8 L950.6 1161.8 L950.7 1164.8 L950.7 1167.8 L950.7 1176.8 L950.7 1173.8 L950.6 1170.8 L950.6 1167.8 L950.5 1164.8 L950.4 1161.8 L950.4 1158.8 L950.3 1155.8 L950.3 1152.8 L950.3 1149.8 L950.2 1146.8 L950.2 1143.8 L950.2 1140.8 L950.2 1137.8Z M950.2 1128.8 L950.2 1125.8 L950.2 1122.8 L950.3 1119.8 L950.5 1116.8 L950.7 1113.8 L950.9 1110.8 L951.1 1107.8 L951.3 1104.8 L951.6 1101.8 L951.8 1098.8 L952.0 1095.8 L952.2 1092.8 L952.3 1089.8 L952.5 1086.8 L952.6 1083.8 L952.8 1080.8 L953.0 1077.8 L953.1 1074.8 L953.3 1071.8 L953.4 1068.8 L953.6 1065.8 L953.7 1062.8 L953.9 1059.8 L954.1 1056.8 L954.2 1053.8 L954.4 1050.8 L954.6 1047.8 L954.7 1044.8 L954.9 1041.8 L955.1 1038.8 L955.3 1035.8 L955.5 1032.8 L955.7 1029.8 L955.9 1026.8 L956.1 1023.8 L956.3 1020.8 L956.5 1017.8 L956.7 1014.8 L956.9 1011.9 L957.2 1008.9 L957.4 1005.9 L957.6 1002.9 L957.9 999.9 L958.1 996.9 L958.3 993.9 L958.6 990.9 L958.8 987.9 L959.1 984.9 L959.3 981.9 L959.5 978.9 L959.8 975.9 L960.0 972.9 L960.3 969.9 L960.5 966.9 L960.8 963.9 L961.0 961.0 L961.2 958.0 L961.5 955.0 L961.7 952.0 L961.9 949.0 L962.2 946.0 L962.4 943.0 L962.6 940.0 L962.9 937.0 L963.1 934.0 L963.3 931.0 L963.6 928.0 L963.8 925.0 L964.1 922.0 L964.3 919.0 L964.6 916.0 L964.8 913.0 L965.1 910.1 L965.3 907.1 L965.6 904.1 L965.8 901.1 L966.1 898.1 L966.3 895.1 L966.5 892.1 L966.8 889.1 L967.0 886.1 L967.3 883.1 L967.5 880.1 L967.8 877.1 L968.0 874.1 L968.2 871.1 L968.5 868.1 L968.7 865.1 L968.9 862.1 L969.1 859.2 L969.4 856.2 L969.6 853.2 L969.8 850.2 L970.0 847.2 L970.2 844.2 L970.4 841.2 L970.6 838.2 L970.7 835.2 L970.9 832.2 L971.1 829.2 L971.3 826.2 L971.4 823.2 L971.6 820.2 L971.7 817.2 L971.8 814.2 L972.0 811.2 L972.1 808.2 L972.2 805.2 L972.4 802.2 L972.5 799.2 L972.6 796.2 L972.7 793.2 L972.8 790.2 L972.9 787.2 L973.0 784.2 L973.1 781.2 L973.2 778.2 L973.3 775.2 L973.4 772.2 L973.5 769.2 L973.6 766.2 L973.7 763.2 L973.8 760.2 L973.9 757.2 L974.0 754.2 L974.1 751.2 L974.2 748.2 L974.2 745.2 L974.3 742.2 L974.4 739.2 L974.5 736.1 L974.6 733.1 L974.7 730.1 L974.9 727.1 L975.0 724.1 L975.1 721.1 L975.2 718.1 L975.3 715.1 L975.4 712.1 L975.6 709.1 L975.7 706.1 L975.8 703.1 L976.0 700.1 L976.1 697.1 L976.3 694.1 L976.4 691.1 L976.6 688.2 L976.8 685.2 L977.0 682.2 L977.2 679.2 L977.4 676.2 L977.6 673.2 L977.8 670.2 L978.0 667.2 L978.3 664.2 L978.5 661.2 L978.8 658.2 L979.0 655.2 L979.2 652.2 L979.5 649.2 L979.8 646.2 L980.0 643.2 L980.3 640.2 L980.5 637.3 L980.8 634.3 L981.1 631.3 L981.3 628.3 L981.6 625.3 L981.8 622.3 L982.1 619.3 L982.4 616.3 L982.6 613.3 L982.9 610.3 L983.1 607.3 L983.4 604.3 L983.6 601.3 L983.8 598.3 L984.1 595.3 L984.3 592.3 L984.5 589.4 L984.7 586.4 L984.9 583.4 L985.1 580.4 L985.3 577.4 L985.5 574.4 L985.7 571.4 L985.9 568.4 L986.1 565.4 L986.3 562.4 L986.5 559.4 L986.7 556.4 L986.9 553.4 L987.1 550.4 L987.2 547.4 L987.4 544.4 L987.6 541.4 L987.8 538.4 L988.0 535.4 L988.1 532.4 L988.3 529.4 L988.5 526.4 L988.7 523.4 L988.8 520.4 L989.0 517.4 L989.2 514.4 L989.4 511.4 L989.6 508.4 L989.7 505.4 L989.9 502.4 L990.1 499.4 L990.3 496.4 L990.5 493.4 L990.7 490.4 L990.9 487.4 L991.1 484.4 L991.2 481.4 L991.4 478.4 L991.6 475.4 L991.8 472.4 L992.1 469.4 L992.3 466.5 L992.5 463.5 L992.7 460.5 L992.9 457.5 L993.1 454.5 L993.4 451.5 L993.6 448.5 L993.8 445.5 L994.1 442.5 L994.3 439.5 L994.6 436.5 L994.8 433.5 L995.0 430.5 L995.3 427.5 L995.5 424.5 L995.8 421.5 L996.1 418.5 L996.4 415.5 L996.7 412.5 L997.1 409.6 L997.4 406.6 L997.9 403.6 L998.4 400.3 L999.0 396.7 L999.7 393.1 L1000.5 390.2 L1001.2 388.4 L1002.0 388.4 L1002.7 390.1 L1003.4 393.0 L1004.1 396.6 L1004.7 400.2 L1005.1 403.5 L1005.4 406.5 L1005.7 409.5 L1006.0 412.5 L1006.3 415.5 L1006.5 418.4 L1006.7 421.4 L1006.9 424.4 L1007.1 427.4 L1007.3 430.4 L1007.5 433.4 L1007.7 436.4 L1007.8 439.5 L1008.0 442.5 L1008.1 445.5 L1008.3 448.5 L1008.4 451.5 L1008.6 454.5 L1008.7 457.5 L1008.9 460.5 L1009.0 463.5 L1009.1 466.5 L1009.3 469.5 L1009.4 472.5 L1009.6 475.5 L1009.7 478.5 L1009.8 481.5 L1010.0 484.5 L1010.1 487.5 L1010.2 490.5 L1010.3 493.5 L1010.4 496.5 L1010.5 499.5 L1010.6 502.5 L1010.7 505.5 L1010.8 508.5 L1010.9 511.5 L1011.1 514.5 L1011.2 517.5 L1011.3 520.5 L1011.4 523.5 L1011.5 526.5 L1011.6 529.6 L1011.7 532.6 L1011.8 535.6 L1011.9 538.6 L1012.0 541.6 L1012.1 544.6 L1012.2 547.6 L1012.3 550.6 L1012.4 553.6 L1012.5 556.6 L1012.6 559.6 L1012.7 562.6 L1012.9 565.6 L1013.0 568.6 L1013.1 571.6 L1013.3 574.6 L1013.4 577.6 L1013.5 580.6 L1013.7 583.6 L1013.8 586.6 L1014.0 589.6 L1014.2 592.5 L1014.3 595.5 L1014.5 598.5 L1014.7 601.5 L1014.9 604.5 L1015.1 607.5 L1015.3 610.5 L1015.5 613.5 L1015.7 616.5 L1016.0 619.5 L1016.2 622.5 L1016.4 625.5 L1016.7 628.5 L1016.9 631.5 L1017.2 634.4 L1017.4 637.4 L1017.7 640.4 L1017.9 643.4 L1018.2 646.4 L1018.5 649.4 L1018.8 652.4 L1019.0 655.4 L1019.3 658.4 L1019.6 661.4 L1019.9 664.3 L1020.2 667.3 L1020.5 670.3 L1020.8 673.3 L1021.1 676.3 L1021.4 679.3 L1021.7 682.3 L1022.0 685.3 L1022.4 688.3 L1022.7 691.2 L1023.0 694.2 L1023.3 697.2 L1023.6 700.2 L1024.0 703.2 L1024.3 706.2 L1024.6 709.2 L1024.9 712.2 L1025.3 715.1 L1025.6 718.1 L1025.9 721.1 L1026.3 724.1 L1026.6 727.1 L1026.9 730.1 L1027.3 733.1 L1027.6 736.0 L1027.9 739.0 L1028.3 742.0 L1028.6 745.0 L1028.9 748.0 L1029.2 751.0 L1029.6 754.0 L1029.9 757.0 L1030.2 759.9 L1030.6 762.9 L1030.9 765.9 L1031.2 768.9 L1031.5 771.9 L1031.8 774.9 L1032.1 777.9 L1032.5 780.9 L1032.8 783.9 L1033.1 786.8 L1033.4 789.8 L1033.7 792.8 L1034.0 795.8 L1034.3 798.8 L1034.6 801.8 L1034.9 804.8 L1035.1 807.8 L1035.4 810.8 L1035.7 813.8 L1036.0 816.7 L1036.2 819.7 L1036.5 822.7 L1036.8 825.7 L1037.0 828.7 L1037.3 831.7 L1037.5 834.7 L1037.8 837.7 L1038.0 840.7 L1038.2 843.7 L1038.5 846.7 L1038.7 849.7 L1038.9 852.7 L1039.2 855.7 L1039.4 858.7 L1039.6 861.7 L1039.8 864.6 L1040.1 867.6 L1040.3 870.6 L1040.5 873.6 L1040.7 876.6 L1041.0 879.6 L1041.2 882.6 L1041.4 885.6 L1041.7 888.6 L1041.9 891.6 L1042.2 894.6 L1042.4 897.6 L1042.6 900.6 L1042.9 903.6 L1043.2 906.6 L1043.4 909.6 L1043.7 912.6 L1044.0 915.5 L1044.2 918.5 L1044.5 921.5 L1044.8 924.5 L1045.1 927.5 L1045.4 930.5 L1045.7 933.5 L1046.0 936.4 L1046.4 939.4 L1046.7 942.4 L1047.1 945.4 L1047.5 948.4 L1047.8 951.3 L1048.2 954.3 L1048.6 957.3 L1049.0 960.3 L1049.4 963.3 L1049.8 966.2 L1050.2 969.2 L1050.6 972.2 L1051.0 975.2 L1051.5 978.1 L1051.9 981.1 L1052.3 984.1 L1052.7 987.1 L1053.1 990.0 L1053.5 993.0 L1053.9 996.0 L1054.3 999.0 L1054.7 1001.9 L1055.1 1004.9 L1055.5 1007.9 L1055.9 1010.9 L1056.2 1013.9 L1056.6 1016.9 L1056.9 1019.9 L1057.3 1022.8 L1057.7 1025.8 L1058.0 1028.8 L1058.4 1031.8 L1058.7 1034.8 L1059.1 1037.8 L1059.5 1040.8 L1060.0 1043.7 L1060.4 1046.7 L1060.9 1049.6 L1061.3 1052.6 L1061.9 1055.5 L1062.4 1058.5 L1063.0 1061.4 L1063.5 1064.4 L1064.1 1067.4 L1064.8 1070.4 L1065.4 1073.4 L1066.1 1076.4 L1066.8 1079.3 L1067.5 1082.3 L1068.2 1085.3 L1069.0 1088.2 L1069.8 1091.2 L1070.6 1094.1 L1071.5 1097.1 L1072.4 1100.0 L1073.3 1102.8 L1074.2 1105.7 L1075.2 1108.5 L1076.2 1111.3 L1077.2 1114.1 L1078.3 1116.8 L1079.4 1119.5 L1080.5 1122.2 L1081.7 1124.8 L1083.1 1127.4 L1084.6 1129.9 L1086.2 1132.4 L1088.0 1134.8 L1089.9 1137.2 L1091.8 1139.6 L1093.8 1142.0 L1095.8 1144.3 L1095.8 1153.3 L1093.8 1151.0 L1091.8 1148.6 L1089.9 1146.2 L1088.0 1143.8 L1086.2 1141.4 L1084.6 1138.9 L1083.1 1136.4 L1081.7 1133.8 L1080.5 1131.2 L1079.4 1128.5 L1078.3 1125.8 L1077.2 1123.1 L1076.2 1120.3 L1075.2 1117.5 L1074.2 1114.7 L1073.3 1111.8 L1072.4 1109.0 L1071.5 1106.1 L1070.6 1103.1 L1069.8 1100.2 L1069.0 1097.2 L1068.2 1094.3 L1067.5 1091.3 L1066.8 1088.3 L1066.1 1085.4 L1065.4 1082.4 L1064.8 1079.4 L1064.1 1076.4 L1063.5 1073.4 L1063.0 1070.4 L1062.4 1067.5 L1061.9 1064.5 L1061.3 1061.6 L1060.9 1058.6 L1060.4 1055.7 L1060.0 1052.7 L1059.5 1049.8 L1059.1 1046.8 L1058.7 1043.8 L1058.4 1040.8 L1058.0 1037.8 L1057.7 1034.8 L1057.3 1031.8 L1056.9 1028.9 L1056.6 1025.9 L1056.2 1022.9 L1055.9 1019.9 L1055.5 1016.9 L1055.1 1013.9 L1054.7 1010.9 L1054.3 1008.0 L1053.9 1005.0 L1053.5 1002.0 L1053.1 999.0 L1052.7 996.1 L1052.3 993.1 L1051.9 990.1 L1051.5 987.1 L1051.0 984.2 L1050.6 981.2 L1050.2 978.2 L1049.8 975.2 L1049.4 972.3 L1049.0 969.3 L1048.6 966.3 L1048.2 963.3 L1047.8 960.3 L1047.5 957.4 L1047.1 954.4 L1046.7 951.4 L1046.4 948.4 L1046.0 945.4 L1045.7 942.5 L1045.4 939.5 L1045.1 936.5 L1044.8 933.5 L1044.5 930.5 L1044.2 927.5 L1044.0 924.5 L1043.7 921.6 L1043.4 918.6 L1043.2 915.6 L1042.9 912.6 L1042.6 909.6 L1042.4 906.6 L1042.2 903.6 L1041.9 900.6 L1041.7 897.6 L1041.4 894.6 L1041.2 891.6 L1041.0 888.6 L1040.7 885.6 L1040.5 882.6 L1040.3 879.6 L1040.1 876.6 L1039.8 873.6 L1039.6 870.7 L1039.4 867.7 L1039.2 864.7 L1038.9 861.7 L1038.7 858.7 L1038.5 855.7 L1038.2 852.7 L1038.0 849.7 L1037.8 846.7 L1037.5 843.7 L1037.3 840.7 L1037.0 837.7 L1036.8 834.7 L1036.5 831.7 L1036.2 828.7 L1036.0 825.7 L1035.7 822.8 L1035.4 819.8 L1035.1 816.8 L1034.9 813.8 L1034.6 810.8 L1034.3 807.8 L1034.0 804.8 L1033.7 801.8 L1033.4 798.8 L1033.1 795.8 L1032.8 792.9 L1032.5 789.9 L1032.1 786.9 L1031.8 783.9 L1031.5 780.9 L1031.2 777.9 L1030.9 774.9 L1030.6 771.9 L1030.2 768.9 L1029.9 766.0 L1029.6 763.0 L1029.2 760.0 L1028.9 757.0 L1028.6 754.0 L1028.3 751.0 L1027.9 748.0 L1027.6 745.0 L1027.3 742.1 L1026.9 739.1 L1026.6 736.1 L1026.3 733.1 L1025.9 730.1 L1025.6 727.1 L1025.3 724.1 L1024.9 721.2 L1024.6 718.2 L1024.3 715.2 L1024.0 712.2 L1023.6 709.2 L1023.3 706.2 L1023.0 703.2 L1022.7 700.2 L1022.4 697.3 L1022.0 694.3 L1021.7 691.3 L1021.4 688.3 L1021.1 685.3 L1020.8 682.3 L1020.5 679.3 L1020.2 676.3 L1019.9 673.3 L1019.6 670.4 L1019.3 667.4 L1019.0 664.4 L1018.8 661.4 L1018.5 658.4 L1018.2 655.4 L1017.9 652.4 L1017.7 649.4 L1017.4 646.4 L1017.2 643.4 L1016.9 640.5 L1016.7 637.5 L1016.4 634.5 L1016.2 631.5 L1016.0 628.5 L1015.7 625.5 L1015.5 622.5 L1015.3 619.5 L1015.1 616.5 L1014.9 613.5 L1014.7 610.5 L1014.5 607.5 L1014.3 604.5 L1014.2 601.5 L1014.0 598.6 L1013.8 595.6 L1013.7 592.6 L1013.5 589.6 L1013.4 586.6 L1013.3 583.6 L1013.1 580.6 L1013.0 577.6 L1012.9 574.6 L1012.7 571.6 L1012.6 568.6 L1012.5 565.6 L1012.4 562.6 L1012.3 559.6 L1012.2 556.6 L1012.1 553.6 L1012.0 550.6 L1011.9 547.6 L1011.8 544.6 L1011.7 541.6 L1011.6 538.6 L1011.5 535.5 L1011.4 532.5 L1011.3 529.5 L1011.2 526.5 L1011.1 523.5 L1010.9 520.5 L1010.8 517.5 L1010.7 514.5 L1010.6 511.5 L1010.5 508.5 L1010.4 505.5 L1010.3 502.5 L1010.2 499.5 L1010.1 496.5 L1010.0 493.5 L1009.8 490.5 L1009.7 487.5 L1009.6 484.5 L1009.4 481.5 L1009.3 478.5 L1009.1 475.5 L1009.0 472.5 L1008.9 469.5 L1008.7 466.5 L1008.6 463.5 L1008.4 460.5 L1008.3 457.5 L1008.1 454.5 L1008.0 451.5 L1007.8 448.5 L1007.7 445.4 L1007.5 442.4 L1007.3 439.4 L1007.1 436.4 L1006.9 433.4 L1006.7 430.4 L1006.5 427.4 L1006.3 424.5 L1006.0 421.5 L1005.7 418.5 L1005.4 415.5 L1005.1 412.5 L1004.7 409.2 L1004.1 405.6 L1003.4 402.0 L1002.7 399.1 L1002.0 397.4 L1001.2 397.4 L1000.5 399.2 L999.7 402.1 L999.0 405.7 L998.4 409.3 L997.9 412.6 L997.4 415.6 L997.1 418.6 L996.7 421.5 L996.4 424.5 L996.1 427.5 L995.8 430.5 L995.5 433.5 L995.3 436.5 L995.0 439.5 L994.8 442.5 L994.6 445.5 L994.3 448.5 L994.1 451.5 L993.8 454.5 L993.6 457.5 L993.4 460.5 L993.1 463.5 L992.9 466.5 L992.7 469.5 L992.5 472.5 L992.3 475.5 L992.1 478.4 L991.8 481.4 L991.6 484.4 L991.4 487.4 L991.2 490.4 L991.1 493.4 L990.9 496.4 L990.7 499.4 L990.5 502.4 L990.3 505.4 L990.1 508.4 L989.9 511.4 L989.7 514.4 L989.6 517.4 L989.4 520.4 L989.2 523.4 L989.0 526.4 L988.8 529.4 L988.7 532.4 L988.5 535.4 L988.3 538.4 L988.1 541.4 L988.0 544.4 L987.8 547.4 L987.6 550.4 L987.4 553.4 L987.2 556.4 L987.1 559.4 L986.9 562.4 L986.7 565.4 L986.5 568.4 L986.3 571.4 L986.1 574.4 L985.9 577.4 L985.7 580.4 L985.5 583.4 L985.3 586.4 L985.1 589.4 L984.9 592.4 L984.7 595.4 L984.5 598.4 L984.3 601.3 L984.1 604.3 L983.8 607.3 L983.6 610.3 L983.4 613.3 L983.1 616.3 L982.9 619.3 L982.6 622.3 L982.4 625.3 L982.1 628.3 L981.8 631.3 L981.6 634.3 L981.3 637.3 L981.1 640.3 L980.8 643.3 L980.5 646.3 L980.3 649.2 L980.0 652.2 L979.8 655.2 L979.5 658.2 L979.2 661.2 L979.0 664.2 L978.8 667.2 L978.5 670.2 L978.3 673.2 L978.0 676.2 L977.8 679.2 L977.6 682.2 L977.4 685.2 L977.2 688.2 L977.0 691.2 L976.8 694.2 L976.6 697.2 L976.4 700.1 L976.3 703.1 L976.1 706.1 L976.0 709.1 L975.8 712.1 L975.7 715.1 L975.6 718.1 L975.4 721.1 L975.3 724.1 L975.2 727.1 L975.1 730.1 L975.0 733.1 L974.9 736.1 L974.7 739.1 L974.6 742.1 L974.5 745.1 L974.4 748.2 L974.3 751.2 L974.2 754.2 L974.2 757.2 L974.1 760.2 L974.0 763.2 L973.9 766.2 L973.8 769.2 L973.7 772.2 L973.6 775.2 L973.5 778.2 L973.4 781.2 L973.3 784.2 L973.2 787.2 L973.1 790.2 L973.0 793.2 L972.9 796.2 L972.8 799.2 L972.7 802.2 L972.6 805.2 L972.5 808.2 L972.4 811.2 L972.2 814.2 L972.1 817.2 L972.0 820.2 L971.8 823.2 L971.7 826.2 L971.6 829.2 L971.4 832.2 L971.3 835.2 L971.1 838.2 L970.9 841.2 L970.7 844.2 L970.6 847.2 L970.4 850.2 L970.2 853.2 L970.0 856.2 L969.8 859.2 L969.6 862.2 L969.4 865.2 L969.1 868.2 L968.9 871.1 L968.7 874.1 L968.5 877.1 L968.2 880.1 L968.0 883.1 L967.8 886.1 L967.5 889.1 L967.3 892.1 L967.0 895.1 L966.8 898.1 L966.5 901.1 L966.3 904.1 L966.1 907.1 L965.8 910.1 L965.6 913.1 L965.3 916.1 L965.1 919.1 L964.8 922.0 L964.6 925.0 L964.3 928.0 L964.1 931.0 L963.8 934.0 L963.6 937.0 L963.3 940.0 L963.1 943.0 L962.9 946.0 L962.6 949.0 L962.4 952.0 L962.2 955.0 L961.9 958.0 L961.7 961.0 L961.5 964.0 L961.2 967.0 L961.0 970.0 L960.8 972.9 L960.5 975.9 L960.3 978.9 L960.0 981.9 L959.8 984.9 L959.5 987.9 L959.3 990.9 L959.1 993.9 L958.8 996.9 L958.6 999.9 L958.3 1002.9 L958.1 1005.9 L957.9 1008.9 L957.6 1011.9 L957.4 1014.9 L957.2 1017.9 L956.9 1020.9 L956.7 1023.8 L956.5 1026.8 L956.3 1029.8 L956.1 1032.8 L955.9 1035.8 L955.7 1038.8 L955.5 1041.8 L955.3 1044.8 L955.1 1047.8 L954.9 1050.8 L954.7 1053.8 L954.6 1056.8 L954.4 1059.8 L954.2 1062.8 L954.1 1065.8 L953.9 1068.8 L953.7 1071.8 L953.6 1074.8 L953.4 1077.8 L953.3 1080.8 L953.1 1083.8 L953.0 1086.8 L952.8 1089.8 L952.6 1092.8 L952.5 1095.8 L952.3 1098.8 L952.2 1101.8 L952.0 1104.8 L951.8 1107.8 L951.6 1110.8 L951.3 1113.8 L951.1 1116.8 L950.9 1119.8 L950.7 1122.8 L950.5 1125.8 L950.3 1128.8 L950.2 1131.8 L950.2 1134.8 L950.2 1137.8Z M1005.7 392.9 L1005.0 394.7 L1004.2 397.6 L1003.5 401.2 L1002.9 404.8 L1002.4 408.1 L1001.9 411.1 L1001.6 414.1 L1001.2 417.0 L1000.9 420.0 L1000.6 423.0 L1000.3 426.0 L1000.0 429.0 L999.8 432.0 L999.5 435.0 L999.3 438.0 L999.1 441.0 L998.8 444.0 L998.6 447.0 L998.3 450.0 L998.1 453.0 L997.9 456.0 L997.6 459.0 L997.4 462.0 L997.2 465.0 L997.0 468.0 L996.8 471.0 L996.6 473.9 L996.3 476.9 L996.1 479.9 L995.9 482.9 L995.7 485.9 L995.6 488.9 L995.4 491.9 L995.2 494.9 L995.0 497.9 L994.8 500.9 L994.6 503.9 L994.4 506.9 L994.2 509.9 L994.1 512.9 L993.9 515.9 L993.7 518.9 L993.5 521.9 L993.3 524.9 L993.2 527.9 L993.0 530.9 L992.8 533.9 L992.6 536.9 L992.5 539.9 L992.3 542.9 L992.1 545.9 L991.9 548.9 L991.7 551.9 L991.6 554.9 L991.4 557.9 L991.2 560.9 L991.0 563.9 L990.8 566.9 L990.6 569.9 L990.4 572.9 L990.2 575.9 L990.0 578.9 L989.8 581.9 L989.6 584.9 L989.4 587.9 L989.2 590.9 L989.0 593.9 L988.8 596.8 L988.6 599.8 L988.3 602.8 L988.1 605.8 L987.9 608.8 L987.6 611.8 L987.4 614.8 L987.1 617.8 L986.9 620.8 L986.6 623.8 L986.3 626.8 L986.1 629.8 L985.8 632.8 L985.6 635.8 L985.3 638.8 L985.0 641.8 L984.8 644.7 L984.5 647.7 L984.3 650.7 L984.0 653.7 L983.7 656.7 L983.5 659.7 L983.3 662.7 L983.0 665.7 L982.8 668.7 L982.5 671.7 L982.3 674.7 L982.1 677.7 L981.9 680.7 L981.7 683.7 L981.5 686.7 L981.3 689.7 L981.1 692.7 L980.9 695.6 L980.8 698.6 L980.6 701.6 L980.5 704.6 L980.3 707.6 L980.2 710.6 L980.1 713.6 L979.9 716.6 L979.8 719.6 L979.7 722.6 L979.6 725.6 L979.5 728.6 L979.4 731.6 L979.2 734.6 L979.1 737.6 L979.0 740.6 L978.9 743.7 L978.8 746.7 L978.7 749.7 L978.7 752.7 L978.6 755.7 L978.5 758.7 L978.4 761.7 L978.3 764.7 L978.2 767.7 L978.1 770.7 L978.0 773.7 L977.9 776.7 L977.8 779.7 L977.7 782.7 L977.6 785.7 L977.5 788.7 L977.4 791.7 L977.3 794.7 L977.2 797.7 L977.1 800.7 L977.0 803.7 L976.9 806.7 L976.7 809.7 L976.6 812.7 L976.5 815.7 L976.3 818.7 L976.2 821.7 L976.1 824.7 L975.9 827.7 L975.8 830.7 L975.6 833.7 L975.4 836.7 L975.2 839.7 L975.1 842.7 L974.9 845.7 L974.7 848.7 L974.5 851.7 L974.3 854.7 L974.1 857.7 L973.9 860.7 L973.6 863.7 L973.4 866.6 L973.2 869.6 L973.0 872.6 L972.7 875.6 L972.5 878.6 L972.3 881.6 L972.0 884.6 L971.8 887.6 L971.5 890.6 L971.3 893.6 L971.0 896.6 L970.8 899.6 L970.6 902.6 L970.3 905.6 L970.1 908.6 L969.8 911.6 L969.6 914.6 L969.3 917.5 L969.1 920.5 L968.8 923.5 L968.6 926.5 L968.3 929.5 L968.1 932.5 L967.8 935.5 L967.6 938.5 L967.4 941.5 L967.1 944.5 L966.9 947.5 L966.7 950.5 L966.4 953.5 L966.2 956.5 L966.0 959.5 L965.7 962.5 L965.5 965.5 L965.3 968.4 L965.0 971.4 L964.8 974.4 L964.5 977.4 L964.3 980.4 L964.0 983.4 L963.8 986.4 L963.6 989.4 L963.3 992.4 L963.1 995.4 L962.8 998.4 L962.6 1001.4 L962.4 1004.4 L962.1 1007.4 L961.9 1010.4 L961.7 1013.4 L961.4 1016.4 L961.2 1019.3 L961.0 1022.3 L960.8 1025.3 L960.6 1028.3 L960.4 1031.3 L960.2 1034.3 L960.0 1037.3 L959.8 1040.3 L959.6 1043.3 L959.4 1046.3 L959.2 1049.3 L959.1 1052.3 L958.9 1055.3 L958.7 1058.3 L958.6 1061.3 L958.4 1064.3 L958.2 1067.3 L958.1 1070.3 L957.9 1073.3 L957.8 1076.3 L957.6 1079.3 L957.5 1082.3 L957.3 1085.3 L957.1 1088.3 L957.0 1091.3 L956.8 1094.3 L956.7 1097.3 L956.5 1100.3 L956.3 1103.3 L956.1 1106.3 L955.8 1109.3 L955.6 1112.3 L955.4 1115.3 L955.2 1118.3 L955.0 1121.3 L954.8 1124.3 L954.7 1127.3 L954.7 1130.3 L954.7 1133.3 L954.7 1136.3 L954.7 1139.3 L954.7 1142.3 L954.8 1145.3 L954.8 1148.3 L954.8 1151.3 L954.9 1154.3 L954.9 1157.3 L955.0 1160.3 L955.1 1163.3 L955.1 1166.3 L955.2 1169.3 L955.2 1172.3 L955.2 1175.3 L955.2 1178.3 L955.1 1181.3 L955.0 1184.3 L954.8 1187.3 L954.4 1190.3 L953.9 1193.3 L953.2 1196.2 L952.4 1199.1 L951.3 1201.8 L950.1 1204.6 L948.9 1207.4 L947.9 1210.3 L947.1 1213.4 L946.3 1216.6 L945.4 1219.3 L944.2 1221.4 L942.4 1222.9 L933.4 1222.9 L935.2 1221.4 L936.4 1219.3 L937.3 1216.6 L938.1 1213.4 L938.9 1210.3 L939.9 1207.4 L941.1 1204.6 L942.3 1201.8 L943.4 1199.1 L944.2 1196.2 L944.9 1193.3 L945.4 1190.3 L945.8 1187.3 L946.0 1184.3 L946.1 1181.3 L946.2 1178.3 L946.2 1175.3 L946.2 1172.3 L946.2 1169.3 L946.1 1166.3 L946.1 1163.3 L946.0 1160.3 L945.9 1157.3 L945.9 1154.3 L945.8 1151.3 L945.8 1148.3 L945.8 1145.3 L945.7 1142.3 L945.7 1139.3 L945.7 1136.3 L945.7 1133.3 L945.7 1130.3 L945.7 1127.3 L945.8 1124.3 L946.0 1121.3 L946.2 1118.3 L946.4 1115.3 L946.6 1112.3 L946.8 1109.3 L947.1 1106.3 L947.3 1103.3 L947.5 1100.3 L947.7 1097.3 L947.8 1094.3 L948.0 1091.3 L948.1 1088.3 L948.3 1085.3 L948.5 1082.3 L948.6 1079.3 L948.8 1076.3 L948.9 1073.3 L949.1 1070.3 L949.2 1067.3 L949.4 1064.3 L949.6 1061.3 L949.7 1058.3 L949.9 1055.3 L950.1 1052.3 L950.2 1049.3 L950.4 1046.3 L950.6 1043.3 L950.8 1040.3 L951.0 1037.3 L951.2 1034.3 L951.4 1031.3 L951.6 1028.3 L951.8 1025.3 L952.0 1022.3 L952.2 1019.3 L952.4 1016.4 L952.7 1013.4 L952.9 1010.4 L953.1 1007.4 L953.4 1004.4 L953.6 1001.4 L953.8 998.4 L954.1 995.4 L954.3 992.4 L954.6 989.4 L954.8 986.4 L955.0 983.4 L955.3 980.4 L955.5 977.4 L955.8 974.4 L956.0 971.4 L956.3 968.4 L956.5 965.5 L956.7 962.5 L957.0 959.5 L957.2 956.5 L957.4 953.5 L957.7 950.5 L957.9 947.5 L958.1 944.5 L958.4 941.5 L958.6 938.5 L958.8 935.5 L959.1 932.5 L959.3 929.5 L959.6 926.5 L959.8 923.5 L960.1 920.5 L960.3 917.5 L960.6 914.6 L960.8 911.6 L961.1 908.6 L961.3 905.6 L961.6 902.6 L961.8 899.6 L962.0 896.6 L962.3 893.6 L962.5 890.6 L962.8 887.6 L963.0 884.6 L963.3 881.6 L963.5 878.6 L963.7 875.6 L964.0 872.6 L964.2 869.6 L964.4 866.6 L964.6 863.7 L964.9 860.7 L965.1 857.7 L965.3 854.7 L965.5 851.7 L965.7 848.7 L965.9 845.7 L966.1 842.7 L966.2 839.7 L966.4 836.7 L966.6 833.7 L966.8 830.7 L966.9 827.7 L967.1 824.7 L967.2 821.7 L967.3 818.7 L967.5 815.7 L967.6 812.7 L967.7 809.7 L967.9 806.7 L968.0 803.7 L968.1 800.7 L968.2 797.7 L968.3 794.7 L968.4 791.7 L968.5 788.7 L968.6 785.7 L968.7 782.7 L968.8 779.7 L968.9 776.7 L969.0 773.7 L969.1 770.7 L969.2 767.7 L969.3 764.7 L969.4 761.7 L969.5 758.7 L969.6 755.7 L969.7 752.7 L969.7 749.7 L969.8 746.7 L969.9 743.7 L970.0 740.6 L970.1 737.6 L970.2 734.6 L970.4 731.6 L970.5 728.6 L970.6 725.6 L970.7 722.6 L970.8 719.6 L970.9 716.6 L971.1 713.6 L971.2 710.6 L971.3 707.6 L971.5 704.6 L971.6 701.6 L971.8 698.6 L971.9 695.6 L972.1 692.7 L972.3 689.7 L972.5 686.7 L972.7 683.7 L972.9 680.7 L973.1 677.7 L973.3 674.7 L973.5 671.7 L973.8 668.7 L974.0 665.7 L974.3 662.7 L974.5 659.7 L974.7 656.7 L975.0 653.7 L975.3 650.7 L975.5 647.7 L975.8 644.7 L976.0 641.8 L976.3 638.8 L976.6 635.8 L976.8 632.8 L977.1 629.8 L977.3 626.8 L977.6 623.8 L977.9 620.8 L978.1 617.8 L978.4 614.8 L978.6 611.8 L978.9 608.8 L979.1 605.8 L979.3 602.8 L979.6 599.8 L979.8 596.8 L980.0 593.9 L980.2 590.9 L980.4 587.9 L980.6 584.9 L980.8 581.9 L981.0 578.9 L981.2 575.9 L981.4 572.9 L981.6 569.9 L981.8 566.9 L982.0 563.9 L982.2 560.9 L982.4 557.9 L982.6 554.9 L982.7 551.9 L982.9 548.9 L983.1 545.9 L983.3 542.9 L983.5 539.9 L983.6 536.9 L983.8 533.9 L984.0 530.9 L984.2 527.9 L984.3 524.9 L984.5 521.9 L984.7 518.9 L984.9 515.9 L985.1 512.9 L985.2 509.9 L985.4 506.9 L985.6 503.9 L985.8 500.9 L986.0 497.9 L986.2 494.9 L986.4 491.9 L986.6 488.9 L986.7 485.9 L986.9 482.9 L987.1 479.9 L987.3 476.9 L987.6 473.9 L987.8 471.0 L988.0 468.0 L988.2 465.0 L988.4 462.0 L988.6 459.0 L988.9 456.0 L989.1 453.0 L989.3 450.0 L989.6 447.0 L989.8 444.0 L990.1 441.0 L990.3 438.0 L990.5 435.0 L990.8 432.0 L991.0 429.0 L991.3 426.0 L991.6 423.0 L991.9 420.0 L992.2 417.0 L992.6 414.1 L992.9 411.1 L993.4 408.1 L993.9 404.8 L994.5 401.2 L995.2 397.6 L996.0 394.7 L996.7 392.9Z M1006.5 392.9 L1007.2 394.6 L1007.9 397.5 L1008.6 401.1 L1009.2 404.7 L1009.6 408.0 L1009.9 411.0 L1010.2 414.0 L1010.5 417.0 L1010.8 420.0 L1011.0 422.9 L1011.2 425.9 L1011.4 428.9 L1011.6 431.9 L1011.8 434.9 L1012.0 437.9 L1012.2 440.9 L1012.3 444.0 L1012.5 447.0 L1012.6 450.0 L1012.8 453.0 L1012.9 456.0 L1013.1 459.0 L1013.2 462.0 L1013.4 465.0 L1013.5 468.0 L1013.6 471.0 L1013.8 474.0 L1013.9 477.0 L1014.1 480.0 L1014.2 483.0 L1014.3 486.0 L1014.5 489.0 L1014.6 492.0 L1014.7 495.0 L1014.8 498.0 L1014.9 501.0 L1015.0 504.0 L1015.1 507.0 L1015.2 510.0 L1015.3 513.0 L1015.4 516.0 L1015.6 519.0 L1015.7 522.0 L1015.8 525.0 L1015.9 528.0 L1016.0 531.0 L1016.1 534.1 L1016.2 537.1 L1016.3 540.1 L1016.4 543.1 L1016.5 546.1 L1016.6 549.1 L1016.7 552.1 L1016.8 555.1 L1016.9 558.1 L1017.0 561.1 L1017.1 564.1 L1017.2 567.1 L1017.4 570.1 L1017.5 573.1 L1017.6 576.1 L1017.8 579.1 L1017.9 582.1 L1018.0 585.1 L1018.2 588.1 L1018.3 591.1 L1018.5 594.1 L1018.7 597.0 L1018.8 600.0 L1019.0 603.0 L1019.2 606.0 L1019.4 609.0 L1019.6 612.0 L1019.8 615.0 L1020.0 618.0 L1020.2 621.0 L1020.5 624.0 L1020.7 627.0 L1020.9 630.0 L1021.2 633.0 L1021.4 636.0 L1021.7 638.9 L1021.9 641.9 L1022.2 644.9 L1022.4 647.9 L1022.7 650.9 L1023.0 653.9 L1023.3 656.9 L1023.5 659.9 L1023.8 662.9 L1024.1 665.9 L1024.4 668.8 L1024.7 671.8 L1025.0 674.8 L1025.3 677.8 L1025.6 680.8 L1025.9 683.8 L1026.2 686.8 L1026.5 689.8 L1026.9 692.8 L1027.2 695.7 L1027.5 698.7 L1027.8 701.7 L1028.1 704.7 L1028.5 707.7 L1028.8 710.7 L1029.1 713.7 L1029.4 716.7 L1029.8 719.6 L1030.1 722.6 L1030.4 725.6 L1030.8 728.6 L1031.1 731.6 L1031.4 734.6 L1031.8 737.6 L1032.1 740.5 L1032.4 743.5 L1032.8 746.5 L1033.1 749.5 L1033.4 752.5 L1033.7 755.5 L1034.1 758.5 L1034.4 761.5 L1034.7 764.4 L1035.1 767.4 L1035.4 770.4 L1035.7 773.4 L1036.0 776.4 L1036.3 779.4 L1036.6 782.4 L1037.0 785.4 L1037.3 788.4 L1037.6 791.3 L1037.9 794.3 L1038.2 797.3 L1038.5 800.3 L1038.8 803.3 L1039.1 806.3 L1039.4 809.3 L1039.6 812.3 L1039.9 815.3 L1040.2 818.3 L1040.5 821.2 L1040.7 824.2 L1041.0 827.2 L1041.3 830.2 L1041.5 833.2 L1041.8 836.2 L1042.0 839.2 L1042.3 842.2 L1042.5 845.2 L1042.7 848.2 L1043.0 851.2 L1043.2 854.2 L1043.4 857.2 L1043.7 860.2 L1043.9 863.2 L1044.1 866.2 L1044.3 869.1 L1044.6 872.1 L1044.8 875.1 L1045.0 878.1 L1045.2 881.1 L1045.5 884.1 L1045.7 887.1 L1045.9 890.1 L1046.2 893.1 L1046.4 896.1 L1046.7 899.1 L1046.9 902.1 L1047.1 905.1 L1047.4 908.1 L1047.7 911.1 L1047.9 914.1 L1048.2 917.1 L1048.5 920.0 L1048.7 923.0 L1049.0 926.0 L1049.3 929.0 L1049.6 932.0 L1049.9 935.0 L1050.2 938.0 L1050.5 940.9 L1050.9 943.9 L1051.2 946.9 L1051.6 949.9 L1052.0 952.9 L1052.3 955.8 L1052.7 958.8 L1053.1 961.8 L1053.5 964.8 L1053.9 967.8 L1054.3 970.7 L1054.7 973.7 L1055.1 976.7 L1055.5 979.7 L1056.0 982.6 L1056.4 985.6 L1056.8 988.6 L1057.2 991.6 L1057.6 994.5 L1058.0 997.5 L1058.4 1000.5 L1058.8 1003.5 L1059.2 1006.4 L1059.6 1009.4 L1060.0 1012.4 L1060.4 1015.4 L1060.7 1018.4 L1061.1 1021.4 L1061.4 1024.4 L1061.8 1027.3 L1062.2 1030.3 L1062.5 1033.3 L1062.9 1036.3 L1063.2 1039.3 L1063.6 1042.3 L1064.0 1045.3 L1064.5 1048.2 L1064.9 1051.2 L1065.4 1054.1 L1065.8 1057.1 L1066.4 1060.0 L1066.9 1063.0 L1067.5 1065.9 L1068.0 1068.9 L1068.6 1071.9 L1069.3 1074.9 L1069.9 1077.9 L1070.6 1080.9 L1071.3 1083.8 L1072.0 1086.8 L1072.7 1089.8 L1073.5 1092.7 L1074.3 1095.7 L1075.1 1098.6 L1076.0 1101.6 L1076.9 1104.5 L1077.8 1107.3 L1078.7 1110.2 L1079.7 1113.0 L1080.7 1115.8 L1081.7 1118.6 L1082.8 1121.3 L1083.9 1124.0 L1085.0 1126.7 L1086.2 1129.3 L1087.6 1131.9 L1089.1 1134.4 L1090.7 1136.9 L1092.5 1139.3 L1094.4 1141.7 L1096.3 1144.1 L1098.3 1146.5 L1100.3 1148.8 L1091.3 1148.8 L1089.3 1146.5 L1087.3 1144.1 L1085.4 1141.7 L1083.5 1139.3 L1081.7 1136.9 L1080.1 1134.4 L1078.6 1131.9 L1077.2 1129.3 L1076.0 1126.7 L1074.9 1124.0 L1073.8 1121.3 L1072.7 1118.6 L1071.7 1115.8 L1070.7 1113.0 L1069.7 1110.2 L1068.8 1107.3 L1067.9 1104.5 L1067.0 1101.6 L1066.1 1098.6 L1065.3 1095.7 L1064.5 1092.7 L1063.7 1089.8 L1063.0 1086.8 L1062.3 1083.8 L1061.6 1080.9 L1060.9 1077.9 L1060.3 1074.9 L1059.6 1071.9 L1059.0 1068.9 L1058.5 1065.9 L1057.9 1063.0 L1057.4 1060.0 L1056.8 1057.1 L1056.4 1054.1 L1055.9 1051.2 L1055.5 1048.2 L1055.0 1045.3 L1054.6 1042.3 L1054.2 1039.3 L1053.9 1036.3 L1053.5 1033.3 L1053.2 1030.3 L1052.8 1027.3 L1052.4 1024.4 L1052.1 1021.4 L1051.7 1018.4 L1051.4 1015.4 L1051.0 1012.4 L1050.6 1009.4 L1050.2 1006.4 L1049.8 1003.5 L1049.4 1000.5 L1049.0 997.5 L1048.6 994.5 L1048.2 991.6 L1047.8 988.6 L1047.4 985.6 L1047.0 982.6 L1046.5 979.7 L1046.1 976.7 L1045.7 973.7 L1045.3 970.7 L1044.9 967.8 L1044.5 964.8 L1044.1 961.8 L1043.7 958.8 L1043.3 955.8 L1043.0 952.9 L1042.6 949.9 L1042.2 946.9 L1041.9 943.9 L1041.5 940.9 L1041.2 938.0 L1040.9 935.0 L1040.6 932.0 L1040.3 929.0 L1040.0 926.0 L1039.7 923.0 L1039.5 920.0 L1039.2 917.1 L1038.9 914.1 L1038.7 911.1 L1038.4 908.1 L1038.1 905.1 L1037.9 902.1 L1037.7 899.1 L1037.4 896.1 L1037.2 893.1 L1036.9 890.1 L1036.7 887.1 L1036.5 884.1 L1036.2 881.1 L1036.0 878.1 L1035.8 875.1 L1035.6 872.1 L1035.3 869.1 L1035.1 866.2 L1034.9 863.2 L1034.7 860.2 L1034.4 857.2 L1034.2 854.2 L1034.0 851.2 L1033.7 848.2 L1033.5 845.2 L1033.3 842.2 L1033.0 839.2 L1032.8 836.2 L1032.5 833.2 L1032.3 830.2 L1032.0 827.2 L1031.7 824.2 L1031.5 821.2 L1031.2 818.3 L1030.9 815.3 L1030.6 812.3 L1030.4 809.3 L1030.1 806.3 L1029.8 803.3 L1029.5 800.3 L1029.2 797.3 L1028.9 794.3 L1028.6 791.3 L1028.3 788.4 L1028.0 785.4 L1027.6 782.4 L1027.3 779.4 L1027.0 776.4 L1026.7 773.4 L1026.4 770.4 L1026.1 767.4 L1025.7 764.4 L1025.4 761.5 L1025.1 758.5 L1024.7 755.5 L1024.4 752.5 L1024.1 749.5 L1023.8 746.5 L1023.4 743.5 L1023.1 740.5 L1022.8 737.6 L1022.4 734.6 L1022.1 731.6 L1021.8 728.6 L1021.4 725.6 L1021.1 722.6 L1020.8 719.6 L1020.4 716.7 L1020.1 713.7 L1019.8 710.7 L1019.5 707.7 L1019.1 704.7 L1018.8 701.7 L1018.5 698.7 L1018.2 695.7 L1017.9 692.8 L1017.5 689.8 L1017.2 686.8 L1016.9 683.8 L1016.6 680.8 L1016.3 677.8 L1016.0 674.8 L1015.7 671.8 L1015.4 668.8 L1015.1 665.9 L1014.8 662.9 L1014.5 659.9 L1014.3 656.9 L1014.0 653.9 L1013.7 650.9 L1013.4 647.9 L1013.2 644.9 L1012.9 641.9 L1012.7 638.9 L1012.4 636.0 L1012.2 633.0 L1011.9 630.0 L1011.7 627.0 L1011.5 624.0 L1011.2 621.0 L1011.0 618.0 L1010.8 615.0 L1010.6 612.0 L1010.4 609.0 L1010.2 606.0 L1010.0 603.0 L1009.8 600.0 L1009.7 597.0 L1009.5 594.1 L1009.3 591.1 L1009.2 588.1 L1009.0 585.1 L1008.9 582.1 L1008.8 579.1 L1008.6 576.1 L1008.5 573.1 L1008.4 570.1 L1008.2 567.1 L1008.1 564.1 L1008.0 561.1 L1007.9 558.1 L1007.8 555.1 L1007.7 552.1 L1007.6 549.1 L1007.5 546.1 L1007.4 543.1 L1007.3 540.1 L1007.2 537.1 L1007.1 534.1 L1007.0 531.0 L1006.9 528.0 L1006.8 525.0 L1006.7 522.0 L1006.6 519.0 L1006.4 516.0 L1006.3 513.0 L1006.2 510.0 L1006.1 507.0 L1006.0 504.0 L1005.9 501.0 L1005.8 498.0 L1005.7 495.0 L1005.6 492.0 L1005.5 489.0 L1005.3 486.0 L1005.2 483.0 L1005.1 480.0 L1004.9 477.0 L1004.8 474.0 L1004.6 471.0 L1004.5 468.0 L1004.4 465.0 L1004.2 462.0 L1004.1 459.0 L1003.9 456.0 L1003.8 453.0 L1003.6 450.0 L1003.5 447.0 L1003.3 444.0 L1003.2 440.9 L1003.0 437.9 L1002.8 434.9 L1002.6 431.9 L1002.4 428.9 L1002.2 425.9 L1002.0 422.9 L1001.8 420.0 L1001.5 417.0 L1001.2 414.0 L1000.9 411.0 L1000.6 408.0 L1000.2 404.7 L999.6 401.1 L998.9 397.5 L998.2 394.6 L997.5 392.9Z"/>
<path fill="#808000" d="M244.5 1207.7 L247.5 1207.8 L250.5 1208.0 L253.5 1208.1 L256.5 1208.2 L259.5 1208.3 L262.5 1208.5 L265.5 1208.6 L268.5 1208.7 L271.5 1208.8 L274.5 1209.0 L277.5 1209.1 L280.5 1209.2 L283.5 1209.3 L286.5 1209.4 L289.5 1209.6 L292.5 1209.7 L295.5 1209.8 L298.5 1209.9 L301.5 1210.0 L304.5 1210.1 L307.5 1210.3 L310.5 1210.4 L313.5 1210.5 L316.5 1210.6 L319.5 1210.7 L322.5 1210.8 L325.5 1210.9 L328.5 1211.0 L331.5 1211.2 L334.5 1211.3 L337.5 1211.4 L340.5 1211.5 L343.5 1211.6 L346.5 1211.7 L349.5 1211.8 L352.5 1211.9 L355.5 1212.0 L358.5 1212.1 L361.5 1212.2 L364.5 1212.3 L367.5 1212.4 L370.5 1212.5 L373.5 1212.6 L376.5 1212.7 L379.5 1212.8 L382.5 1212.9 L385.5 1213.0 L388.5 1213.1 L391.5 1213.2 L394.5 1213.3 L397.5 1213.4 L400.5 1213.5 L403.5 1213.6 L406.5 1213.7 L409.5 1213.8 L412.5 1213.9 L415.5 1214.0 L418.5 1214.1 L421.5 1214.2 L424.5 1214.3 L427.5 1214.4 L430.5 1214.5 L433.5 1214.5 L436.5 1214.6 L439.5 1214.7 L442.5 1214.8 L445.5 1214.9 L448.5 1215.0 L451.5 1215.1 L454.6 1215.2 L457.6 1215.3 L460.6 1215.3 L463.6 1215.4 L466.6 1215.5 L469.6 1215.6 L472.6 1215.7 L475.6 1215.8 L478.6 1215.8 L481.6 1215.9 L484.6 1216.0 L487.6 1216.1 L490.6 1216.2 L493.6 1216.2 L496.6 1216.3 L499.6 1216.4 L502.6 1216.5 L505.6 1216.5 L508.6 1216.6 L511.6 1216.7 L514.6 1216.7 L517.6 1216.8 L520.6 1216.9 L523.6 1216.9 L526.6 1217.0 L529.6 1217.1 L532.6 1217.1 L535.6 1217.2 L538.6 1217.2 L541.6 1217.3 L544.6 1217.3 L547.6 1217.4 L550.6 1217.4 L553.6 1217.5 L556.6 1217.6 L559.6 1217.6 L562.6 1217.7 L565.6 1217.7 L568.6 1217.8 L571.6 1217.8 L574.6 1217.9 L577.6 1217.9 L580.6 1217.9 L583.6 1218.0 L586.6 1218.0 L589.6 1218.1 L592.6 1218.1 L595.6 1218.2 L598.6 1218.2 L601.6 1218.3 L604.6 1218.3 L607.7 1218.4 L610.7 1218.4 L613.7 1218.4 L616.7 1218.5 L619.7 1218.5 L622.7 1218.6 L625.7 1218.6 L628.7 1218.7 L631.7 1218.7 L634.7 1218.8 L637.7 1218.8 L640.7 1218.9 L643.7 1218.9 L646.7 1218.9 L649.7 1219.0 L652.7 1219.0 L655.7 1219.1 L658.7 1219.2 L661.7 1219.2 L664.7 1219.3 L667.7 1219.3 L670.7 1219.4 L673.7 1219.4 L676.7 1219.5 L679.7 1219.6 L682.7 1219.6 L685.7 1219.7 L688.7 1219.8 L691.7 1219.8 L694.7 1219.9 L697.7 1219.9 L700.7 1220.0 L703.7 1220.0 L706.7 1220.1 L709.7 1220.1 L712.7 1220.2 L715.7 1220.2 L718.7 1220.3 L721.7 1220.3 L724.7 1220.3 L727.7 1220.4 L730.7 1220.4 L733.7 1220.4 L736.7 1220.4 L739.8 1220.4 L742.8 1220.4 L745.8 1220.4 L748.8 1220.4 L751.8 1220.3 L754.8 1220.3 L757.8 1220.2 L760.8 1220.2 L763.8 1220.1 L766.8 1220.1 L769.8 1220.0 L772.8 1219.9 L775.8 1219.9 L778.8 1219.8 L781.8 1219.7 L784.8 1219.6 L787.8 1219.5 L790.8 1219.4 L793.8 1219.3 L796.8 1219.2 L799.8 1219.1 L802.8 1219.0 L805.8 1218.9 L808.8 1218.8 L811.8 1218.7 L814.8 1218.6 L817.8 1218.5 L820.8 1218.4 L823.8 1218.4 L826.8 1218.3 L829.8 1218.2 L832.8 1218.1 L835.8 1218.0 L838.8 1217.9 L841.8 1217.8 L844.8 1217.7 L847.8 1217.6 L850.8 1217.4 L853.8 1217.2 L856.8 1217.0 L859.8 1216.8 L862.8 1216.4 L865.7 1215.9 L868.7 1215.3 L871.6 1214.6 L874.5 1213.9 L877.4 1213.2 L880.3 1212.3 L883.2 1211.5 L886.0 1210.6 L888.9 1209.6 L891.8 1208.7 L894.6 1207.8 L897.5 1206.9 L900.4 1206.1 L903.3 1205.3 L906.2 1204.5 L909.1 1203.8 L912.0 1203.0 L914.9 1202.1 L917.7 1201.2 L920.6 1200.1 L923.3 1198.9 L926.0 1197.6 L928.5 1195.9 L930.8 1194.0 L933.0 1192.0 L934.9 1189.7 L936.6 1187.2 L938.1 1184.6 L939.5 1182.0 L940.7 1179.3 L941.8 1176.5 L942.9 1173.6 L944.0 1170.8 L945.0 1168.0 L946.0 1165.1 L947.1 1162.3 L948.1 1159.5 L949.1 1156.7 L950.1 1153.8 L951.0 1150.9 L951.8 1148.1 L952.6 1145.2 L953.4 1142.3 L954.1 1139.4 L954.9 1136.4 L955.5 1133.5 L956.1 1130.6 L956.7 1127.6 L957.2 1124.7 L957.7 1121.7 L958.2 1118.7 L958.6 1115.8 L959.0 1112.8 L959.4 1109.8 L959.8 1106.8 L960.1 1103.8 L960.5 1100.9 L960.8 1097.9 L961.1 1094.9 L961.3 1091.9 L961.6 1088.9 L961.8 1085.9 L962.1 1082.9 L962.3 1079.9 L962.5 1076.9 L962.7 1073.9 L962.9 1070.9 L963.1 1067.9 L963.3 1065.0 L963.5 1062.0 L963.7 1059.0 L963.9 1056.0 L964.0 1053.0 L964.2 1050.0 L964.4 1047.0 L964.6 1044.0 L964.8 1041.0 L965.0 1038.0 L965.2 1035.0 L965.5 1032.0 L965.7 1029.0 L965.9 1026.0 L966.1 1023.0 L966.3 1020.0 L966.6 1017.0 L966.8 1014.0 L967.0 1011.0 L967.2 1008.0 L967.5 1005.0 L967.7 1002.0 L967.9 999.0 L968.2 996.1 L968.4 993.1 L968.6 990.1 L968.8 987.1 L969.1 984.1 L969.3 981.1 L969.5 978.1 L969.8 975.1 L970.0 972.1 L970.2 969.1 L970.5 966.1 L970.7 963.1 L970.9 960.1 L971.2 957.1 L971.4 954.1 L971.7 951.1 L971.9 948.2 L972.1 945.2 L972.4 942.2 L972.6 939.2 L972.9 936.2 L973.1 933.2 L973.4 930.2 L973.6 927.2 L973.9 924.2 L974.1 921.2 L974.4 918.2 L974.7 915.2 L974.9 912.2 L975.2 909.3 L975.5 906.3 L975.7 903.3 L976.0 900.3 L976.3 897.3 L976.5 894.3 L976.8 891.3 L977.1 888.3 L977.3 885.3 L977.6 882.3 L977.9 879.3 L978.1 876.3 L978.4 873.4 L978.6 870.4 L978.9 867.4 L979.2 864.4 L979.4 861.4 L979.6 858.4 L979.9 855.4 L980.1 852.4 L980.4 849.4 L980.6 846.4 L980.8 843.4 L981.0 840.4 L981.3 837.4 L981.5 834.4 L981.7 831.5 L981.9 828.5 L982.1 825.5 L982.2 822.5 L982.4 819.5 L982.6 816.5 L982.8 813.5 L982.9 810.5 L983.1 807.5 L983.3 804.5 L983.4 801.5 L983.6 798.5 L983.7 795.5 L983.9 792.5 L984.1 789.5 L984.2 786.5 L984.4 783.5 L984.5 780.5 L984.6 777.5 L984.8 774.5 L984.9 771.5 L985.1 768.5 L985.2 765.5 L985.3 762.5 L985.5 759.5 L985.6 756.5 L985.7 753.5 L985.8 750.5 L986.0 747.5 L986.1 744.5 L986.2 741.5 L986.4 738.5 L986.5 735.5 L986.6 732.5 L986.7 729.5 L986.8 726.5 L987.0 723.5 L987.1 720.5 L987.2 717.5 L987.3 714.5 L987.4 711.5 L987.5 708.5 L987.7 705.5 L987.8 702.5 L987.9 699.5 L988.0 696.5 L988.1 693.5 L988.2 690.5 L988.4 687.5 L988.5 684.5 L988.6 681.5 L988.7 678.5 L988.8 675.5 L988.9 672.5 L989.1 669.5 L989.2 666.5 L989.3 663.5 L989.4 660.5 L989.5 657.5 L989.7 654.5 L989.8 651.5 L989.9 648.5 L990.0 645.5 L990.2 642.5 L990.3 639.5 L990.4 636.5 L990.6 633.5 L990.7 630.5 L990.8 627.5 L991.0 624.5 L991.1 621.5 L991.2 618.5 L991.4 615.5 L991.5 612.5 L991.7 609.5 L991.8 606.5 L992.0 603.5 L992.1 600.5 L992.3 597.5 L992.4 594.5 L992.6 591.5 L992.8 588.5 L992.9 585.5 L993.1 582.5 L993.3 579.5 L993.4 576.5 L993.6 573.5 L993.8 570.5 L994.0 567.5 L994.1 564.5 L994.3 561.5 L994.5 558.5 L994.7 555.5 L994.9 552.5 L995.1 549.5 L995.3 546.5 L995.5 543.5 L995.7 540.5 L995.9 537.6 L996.1 534.6 L996.3 531.6 L996.5 528.6 L996.7 525.6 L996.9 522.6 L997.1 519.6 L997.3 516.6 L997.5 513.6 L997.7 510.6 L997.9 507.6 L998.1 504.6 L998.3 501.6 L998.5 498.6 L998.7 495.6 L998.9 492.6 L999.2 489.6 L999.4 486.6 L999.6 483.6 L999.8 480.6 L1000.0 477.6 L1000.2 474.6 L1000.4 471.6 L1000.6 468.7 L1000.8 465.7 L1001.1 462.7 L1001.3 459.7 L1001.5 456.7 L1001.6 453.7 L1001.8 450.7 L1002.0 447.7 L1002.2 444.7 L1002.4 441.7 L1002.6 438.7 L1002.8 435.7 L1003.1 432.7 L1003.3 429.7 L1003.6 426.7 L1003.9 423.6 L1004.3 420.3 L1004.8 416.7 L1005.3 413.0 L1005.9 409.8 L1006.5 407.6 L1007.1 406.9 L1007.6 408.0 L1008.2 410.4 L1008.8 413.7 L1009.3 417.4 L1009.8 421.0 L1010.1 424.3 L1010.4 427.3 L1010.6 430.3 L1010.9 433.3 L1011.1 436.3 L1011.3 439.3 L1011.4 442.3 L1011.6 445.3 L1011.8 448.3 L1011.9 451.3 L1012.1 454.3 L1012.2 457.3 L1012.4 460.3 L1012.5 463.3 L1012.6 466.3 L1012.8 469.3 L1012.9 472.3 L1013.1 475.3 L1013.3 478.3 L1013.4 481.3 L1013.6 484.3 L1013.7 487.3 L1013.9 490.3 L1014.0 493.3 L1014.2 496.3 L1014.3 499.3 L1014.5 502.3 L1014.6 505.3 L1014.7 508.3 L1014.9 511.3 L1015.0 514.3 L1015.2 517.3 L1015.3 520.3 L1015.5 523.3 L1015.6 526.3 L1015.7 529.3 L1015.9 532.3 L1016.0 535.3 L1016.1 538.3 L1016.3 541.3 L1016.4 544.3 L1016.6 547.3 L1016.7 550.3 L1016.8 553.3 L1017.0 556.3 L1017.1 559.3 L1017.3 562.3 L1017.4 565.3 L1017.5 568.3 L1017.7 571.3 L1017.8 574.3 L1018.0 577.3 L1018.1 580.3 L1018.3 583.3 L1018.4 586.3 L1018.6 589.3 L1018.7 592.3 L1018.9 595.3 L1019.1 598.3 L1019.2 601.3 L1019.4 604.3 L1019.5 607.3 L1019.7 610.3 L1019.9 613.3 L1020.0 616.3 L1020.2 619.3 L1020.3 622.3 L1020.5 625.3 L1020.7 628.3 L1020.8 631.3 L1021.0 634.3 L1021.1 637.3 L1021.3 640.3 L1021.5 643.2 L1021.6 646.2 L1021.8 649.2 L1022.0 652.2 L1022.1 655.2 L1022.3 658.2 L1022.5 661.2 L1022.6 664.2 L1022.8 667.2 L1023.0 670.2 L1023.1 673.2 L1023.3 676.2 L1023.5 679.2 L1023.6 682.2 L1023.8 685.2 L1024.0 688.2 L1024.2 691.2 L1024.3 694.2 L1024.5 697.2 L1024.7 700.2 L1024.8 703.2 L1025.0 706.2 L1025.2 709.2 L1025.4 712.2 L1025.5 715.2 L1025.7 718.2 L1025.9 721.2 L1026.1 724.2 L1026.2 727.2 L1026.4 730.2 L1026.6 733.2 L1026.8 736.2 L1026.9 739.2 L1027.1 742.2 L1027.3 745.2 L1027.5 748.2 L1027.7 751.2 L1027.8 754.2 L1028.0 757.2 L1028.2 760.2 L1028.4 763.2 L1028.6 766.2 L1028.7 769.2 L1028.9 772.1 L1029.1 775.1 L1029.3 778.1 L1029.5 781.1 L1029.7 784.1 L1029.9 787.1 L1030.0 790.1 L1030.2 793.1 L1030.4 796.1 L1030.6 799.1 L1030.8 802.1 L1031.0 805.1 L1031.2 808.1 L1031.3 811.1 L1031.5 814.1 L1031.7 817.1 L1031.9 820.1 L1032.1 823.1 L1032.3 826.1 L1032.5 829.1 L1032.7 832.1 L1032.8 835.1 L1033.0 838.1 L1033.2 841.1 L1033.4 844.1 L1033.6 847.1 L1033.8 850.1 L1034.0 853.1 L1034.1 856.1 L1034.3 859.1 L1034.5 862.1 L1034.7 865.1 L1034.9 868.1 L1035.1 871.1 L1035.3 874.1 L1035.5 877.1 L1035.7 880.0 L1035.9 883.0 L1036.1 886.0 L1036.3 889.0 L1036.5 892.0 L1036.7 895.0 L1036.9 898.0 L1037.1 901.0 L1037.3 904.0 L1037.6 907.0 L1037.8 910.0 L1038.0 913.0 L1038.3 916.0 L1038.5 919.0 L1038.8 922.0 L1039.0 925.0 L1039.3 927.9 L1039.5 930.9 L1039.8 933.9 L1040.1 936.9 L1040.4 939.9 L1040.7 942.9 L1041.0 945.9 L1041.3 948.9 L1041.6 951.8 L1042.0 954.8 L1042.3 957.8 L1042.7 960.8 L1043.0 963.8 L1043.4 966.8 L1043.7 969.7 L1044.1 972.7 L1044.5 975.7 L1044.9 978.7 L1045.2 981.7 L1045.6 984.6 L1046.0 987.6 L1046.4 990.6 L1046.8 993.6 L1047.1 996.6 L1047.5 999.5 L1047.9 1002.5 L1048.3 1005.5 L1048.7 1008.5 L1049.1 1011.4 L1049.4 1014.4 L1049.8 1017.4 L1050.2 1020.4 L1050.6 1023.4 L1051.0 1026.4 L1051.4 1029.3 L1051.8 1032.3 L1052.2 1035.3 L1052.6 1038.3 L1053.0 1041.2 L1053.5 1044.2 L1053.9 1047.2 L1054.4 1050.1 L1054.9 1053.1 L1055.5 1056.0 L1056.0 1059.0 L1056.6 1061.9 L1057.2 1064.8 L1057.9 1067.8 L1058.6 1070.7 L1059.3 1073.6 L1060.0 1076.6 L1060.7 1079.5 L1061.4 1082.4 L1062.1 1085.3 L1062.9 1088.2 L1063.6 1091.2 L1064.3 1094.1 L1065.0 1097.0 L1065.8 1100.0 L1066.6 1102.9 L1067.3 1105.9 L1068.2 1108.8 L1069.0 1111.7 L1069.9 1114.5 L1070.9 1117.3 L1071.9 1120.1 L1072.9 1122.9 L1074.1 1125.6 L1075.3 1128.2 L1076.7 1130.8 L1078.2 1133.4 L1079.9 1135.9 L1081.6 1138.5 L1083.3 1141.0 L1085.0 1143.4 L1086.8 1145.9 L1088.5 1148.4 L1090.3 1150.9 L1092.0 1153.4 L1093.7 1155.8 L1095.4 1158.2 L1097.2 1160.7 L1099.0 1163.1 L1100.8 1165.5 L1100.8 1174.5 L1099.0 1172.1 L1097.2 1169.7 L1095.4 1167.2 L1093.7 1164.8 L1092.0 1162.4 L1090.3 1159.9 L1088.5 1157.4 L1086.8 1154.9 L1085.0 1152.4 L1083.3 1150.0 L1081.6 1147.5 L1079.9 1144.9 L1078.2 1142.4 L1076.7 1139.8 L1075.3 1137.2 L1074.1 1134.6 L1072.9 1131.9 L1071.9 1129.1 L1070.9 1126.3 L1069.9 1123.5 L1069.0 1120.7 L1068.2 1117.8 L1067.3 1114.9 L1066.6 1111.9 L1065.8 1109.0 L1065.0 1106.0 L1064.3 1103.1 L1063.6 1100.2 L1062.9 1097.2 L1062.1 1094.3 L1061.4 1091.4 L1060.7 1088.5 L1060.0 1085.6 L1059.3 1082.6 L1058.6 1079.7 L1057.9 1076.8 L1057.2 1073.8 L1056.6 1070.9 L1056.0 1068.0 L1055.5 1065.0 L1054.9 1062.1 L1054.4 1059.1 L1053.9 1056.2 L1053.5 1053.2 L1053.0 1050.2 L1052.6 1047.3 L1052.2 1044.3 L1051.8 1041.3 L1051.4 1038.3 L1051.0 1035.4 L1050.6 1032.4 L1050.2 1029.4 L1049.8 1026.4 L1049.4 1023.4 L1049.1 1020.4 L1048.7 1017.5 L1048.3 1014.5 L1047.9 1011.5 L1047.5 1008.5 L1047.1 1005.6 L1046.8 1002.6 L1046.4 999.6 L1046.0 996.6 L1045.6 993.6 L1045.2 990.7 L1044.9 987.7 L1044.5 984.7 L1044.1 981.7 L1043.7 978.7 L1043.4 975.8 L1043.0 972.8 L1042.7 969.8 L1042.3 966.8 L1042.0 963.8 L1041.6 960.8 L1041.3 957.9 L1041.0 954.9 L1040.7 951.9 L1040.4 948.9 L1040.1 945.9 L1039.8 942.9 L1039.5 939.9 L1039.3 936.9 L1039.0 934.0 L1038.8 931.0 L1038.5 928.0 L1038.3 925.0 L1038.0 922.0 L1037.8 919.0 L1037.6 916.0 L1037.3 913.0 L1037.1 910.0 L1036.9 907.0 L1036.7 904.0 L1036.5 901.0 L1036.3 898.0 L1036.1 895.0 L1035.9 892.0 L1035.7 889.0 L1035.5 886.1 L1035.3 883.1 L1035.1 880.1 L1034.9 877.1 L1034.7 874.1 L1034.5 871.1 L1034.3 868.1 L1034.1 865.1 L1034.0 862.1 L1033.8 859.1 L1033.6 856.1 L1033.4 853.1 L1033.2 850.1 L1033.0 847.1 L1032.8 844.1 L1032.7 841.1 L1032.5 838.1 L1032.3 835.1 L1032.1 832.1 L1031.9 829.1 L1031.7 826.1 L1031.5 823.1 L1031.3 820.1 L1031.2 817.1 L1031.0 814.1 L1030.8 811.1 L1030.6 808.1 L1030.4 805.1 L1030.2 802.1 L1030.0 799.1 L1029.9 796.1 L1029.7 793.1 L1029.5 790.1 L1029.3 787.1 L1029.1 784.1 L1028.9 781.1 L1028.7 778.2 L1028.6 775.2 L1028.4 772.2 L1028.2 769.2 L1028.0 766.2 L1027.8 763.2 L1027.7 760.2 L1027.5 757.2 L1027.3 754.2 L1027.1 751.2 L1026.9 748.2 L1026.8 745.2 L1026.6 742.2 L1026.4 739.2 L1026.2 736.2 L1026.1 733.2 L1025.9 730.2 L1025.7 727.2 L1025.5 724.2 L1025.4 721.2 L1025.2 718.2 L1025.0 715.2 L1024.8 712.2 L1024.7 709.2 L1024.5 706.2 L1024.3 703.2 L1024.2 700.2 L1024.0 697.2 L1023.8 694.2 L1023.6 691.2 L1023.5 688.2 L1023.3 685.2 L1023.1 682.2 L1023.0 679.2 L1022.8 676.2 L1022.6 673.2 L1022.5 670.2 L1022.3 667.2 L1022.1 664.2 L1022.0 661.2 L1021.8 658.2 L1021.6 655.2 L1021.5 652.2 L1021.3 649.3 L1021.1 646.3 L1021.0 643.3 L1020.8 640.3 L1020.7 637.3 L1020.5 634.3 L1020.3 631.3 L1020.2 628.3 L1020.0 625.3 L1019.9 622.3 L1019.7 619.3 L1019.5 616.3 L1019.4 613.3 L1019.2 610.3 L1019.1 607.3 L1018.9 604.3 L1018.7 601.3 L1018.6 598.3 L1018.4 595.3 L1018.3 592.3 L1018.1 589.3 L1018.0 586.3 L1017.8 583.3 L1017.7 580.3 L1017.5 577.3 L1017.4 574.3 L1017.3 571.3 L1017.1 568.3 L1017.0 565.3 L1016.8 562.3 L1016.7 559.3 L1016.6 556.3 L1016.4 553.3 L1016.3 550.3 L1016.1 547.3 L1016.0 544.3 L1015.9 541.3 L1015.7 538.3 L1015.6 535.3 L1015.5 532.3 L1015.3 529.3 L1015.2 526.3 L1015.0 523.3 L1014.9 520.3 L1014.7 517.3 L1014.6 514.3 L1014.5 511.3 L1014.3 508.3 L1014.2 505.3 L1014.0 502.3 L1013.9 499.3 L1013.7 496.3 L1013.6 493.3 L1013.4 490.3 L1013.3 487.3 L1013.1 484.3 L1012.9 481.3 L1012.8 478.3 L1012.6 475.3 L1012.5 472.3 L1012.4 469.3 L1012.2 466.3 L1012.1 463.3 L1011.9 460.3 L1011.8 457.3 L1011.6 454.3 L1011.4 451.3 L1011.3 448.3 L1011.1 445.3 L1010.9 442.3 L1010.6 439.3 L1010.4 436.3 L1010.1 433.3 L1009.8 430.0 L1009.3 426.4 L1008.8 422.7 L1008.2 419.4 L1007.6 417.0 L1007.1 415.9 L1006.5 416.6 L1005.9 418.8 L1005.3 422.0 L1004.8 425.7 L1004.3 429.3 L1003.9 432.6 L1003.6 435.7 L1003.3 438.7 L1003.1 441.7 L1002.8 444.7 L1002.6 447.7 L1002.4 450.7 L1002.2 453.7 L1002.0 456.7 L1001.8 459.7 L1001.6 462.7 L1001.5 465.7 L1001.3 468.7 L1001.1 471.7 L1000.8 474.7 L1000.6 477.7 L1000.4 480.6 L1000.2 483.6 L1000.0 486.6 L999.8 489.6 L999.6 492.6 L999.4 495.6 L999.2 498.6 L998.9 501.6 L998.7 504.6 L998.5 507.6 L998.3 510.6 L998.1 513.6 L997.9 516.6 L997.7 519.6 L997.5 522.6 L997.3 525.6 L997.1 528.6 L996.9 531.6 L996.7 534.6 L996.5 537.6 L996.3 540.6 L996.1 543.6 L995.9 546.6 L995.7 549.5 L995.5 552.5 L995.3 555.5 L995.1 558.5 L994.9 561.5 L994.7 564.5 L994.5 567.5 L994.3 570.5 L994.1 573.5 L994.0 576.5 L993.8 579.5 L993.6 582.5 L993.4 585.5 L993.3 588.5 L993.1 591.5 L992.9 594.5 L992.8 597.5 L992.6 600.5 L992.4 603.5 L992.3 606.5 L992.1 609.5 L992.0 612.5 L991.8 615.5 L991.7 618.5 L991.5 621.5 L991.4 624.5 L991.2 627.5 L991.1 630.5 L991.0 633.5 L990.8 636.5 L990.7 639.5 L990.6 642.5 L990.4 645.5 L990.3 648.5 L990.2 651.5 L990.0 654.5 L989.9 657.5 L989.8 660.5 L989.7 663.5 L989.5 666.5 L989.4 669.5 L989.3 672.5 L989.2 675.5 L989.1 678.5 L988.9 681.5 L988.8 684.5 L988.7 687.5 L988.6 690.5 L988.5 693.5 L988.4 696.5 L988.2 699.5 L988.1 702.5 L988.0 705.5 L987.9 708.5 L987.8 711.5 L987.7 714.5 L987.5 717.5 L987.4 720.5 L987.3 723.5 L987.2 726.5 L987.1 729.5 L987.0 732.5 L986.8 735.5 L986.7 738.5 L986.6 741.5 L986.5 744.5 L986.4 747.5 L986.2 750.5 L986.1 753.5 L986.0 756.5 L985.8 759.5 L985.7 762.5 L985.6 765.5 L985.5 768.5 L985.3 771.5 L985.2 774.5 L985.1 777.5 L984.9 780.5 L984.8 783.5 L984.6 786.5 L984.5 789.5 L984.4 792.5 L984.2 795.5 L984.1 798.5 L983.9 801.5 L983.7 804.5 L983.6 807.5 L983.4 810.5 L983.3 813.5 L983.1 816.5 L982.9 819.5 L982.8 822.5 L982.6 825.5 L982.4 828.5 L982.2 831.5 L982.1 834.5 L981.9 837.5 L981.7 840.5 L981.5 843.4 L981.3 846.4 L981.0 849.4 L980.8 852.4 L980.6 855.4 L980.4 858.4 L980.1 861.4 L979.9 864.4 L979.6 867.4 L979.4 870.4 L979.2 873.4 L978.9 876.4 L978.6 879.4 L978.4 882.4 L978.1 885.3 L977.9 888.3 L977.6 891.3 L977.3 894.3 L977.1 897.3 L976.8 900.3 L976.5 903.3 L976.3 906.3 L976.0 909.3 L975.7 912.3 L975.5 915.3 L975.2 918.3 L974.9 921.2 L974.7 924.2 L974.4 927.2 L974.1 930.2 L973.9 933.2 L973.6 936.2 L973.4 939.2 L973.1 942.2 L972.9 945.2 L972.6 948.2 L972.4 951.2 L972.1 954.2 L971.9 957.2 L971.7 960.1 L971.4 963.1 L971.2 966.1 L970.9 969.1 L970.7 972.1 L970.5 975.1 L970.2 978.1 L970.0 981.1 L969.8 984.1 L969.5 987.1 L969.3 990.1 L969.1 993.1 L968.8 996.1 L968.6 999.1 L968.4 1002.1 L968.2 1005.1 L967.9 1008.0 L967.7 1011.0 L967.5 1014.0 L967.2 1017.0 L967.0 1020.0 L966.8 1023.0 L966.6 1026.0 L966.3 1029.0 L966.1 1032.0 L965.9 1035.0 L965.7 1038.0 L965.5 1041.0 L965.2 1044.0 L965.0 1047.0 L964.8 1050.0 L964.6 1053.0 L964.4 1056.0 L964.2 1059.0 L964.0 1062.0 L963.9 1065.0 L963.7 1068.0 L963.5 1071.0 L963.3 1074.0 L963.1 1076.9 L962.9 1079.9 L962.7 1082.9 L962.5 1085.9 L962.3 1088.9 L962.1 1091.9 L961.8 1094.9 L961.6 1097.9 L961.3 1100.9 L961.1 1103.9 L960.8 1106.9 L960.5 1109.9 L960.1 1112.8 L959.8 1115.8 L959.4 1118.8 L959.0 1121.8 L958.6 1124.8 L958.2 1127.7 L957.7 1130.7 L957.2 1133.7 L956.7 1136.6 L956.1 1139.6 L955.5 1142.5 L954.9 1145.4 L954.1 1148.4 L953.4 1151.3 L952.6 1154.2 L951.8 1157.1 L951.0 1159.9 L950.1 1162.8 L949.1 1165.7 L948.1 1168.5 L947.1 1171.3 L946.0 1174.1 L945.0 1177.0 L944.0 1179.8 L942.9 1182.6 L941.8 1185.5 L940.7 1188.3 L939.5 1191.0 L938.1 1193.6 L936.6 1196.2 L934.9 1198.7 L933.0 1201.0 L930.8 1203.0 L928.5 1204.9 L926.0 1206.6 L923.3 1207.9 L920.6 1209.1 L917.7 1210.2 L914.9 1211.1 L912.0 1212.0 L909.1 1212.8 L906.2 1213.5 L903.3 1214.3 L900.4 1215.1 L897.5 1215.9 L894.6 1216.8 L891.8 1217.7 L888.9 1218.6 L886.0 1219.6 L883.2 1220.5 L880.3 1221.3 L877.4 1222.2 L874.5 1222.9 L871.6 1223.6 L868.7 1224.3 L865.7 1224.9 L862.8 1225.4 L859.8 1225.8 L856.8 1226.0 L853.8 1226.2 L850.8 1226.4 L847.8 1226.6 L844.8 1226.7 L841.8 1226.8 L838.8 1226.9 L835.8 1227.0 L832.8 1227.1 L829.8 1227.2 L826.8 1227.3 L823.8 1227.4 L820.8 1227.4 L817.8 1227.5 L814.8 1227.6 L811.8 1227.7 L808.8 1227.8 L805.8 1227.9 L802.8 1228.0 L799.8 1228.1 L796.8 1228.2 L793.8 1228.3 L790.8 1228.4 L787.8 1228.5 L784.8 1228.6 L781.8 1228.7 L778.8 1228.8 L775.8 1228.9 L772.8 1228.9 L769.8 1229.0 L766.8 1229.1 L763.8 1229.1 L760.8 1229.2 L757.8 1229.2 L754.8 1229.3 L751.8 1229.3 L748.8 1229.4 L745.8 1229.4 L742.8 1229.4 L739.8 1229.4 L736.7 1229.4 L733.7 1229.4 L730.7 1229.4 L727.7 1229.4 L724.7 1229.3 L721.7 1229.3 L718.7 1229.3 L715.7 1229.2 L712.7 1229.2 L709.7 1229.1 L706.7 1229.1 L703.7 1229.0 L700.7 1229.0 L697.7 1228.9 L694.7 1228.9 L691.7 1228.8 L688.7 1228.8 L685.7 1228.7 L682.7 1228.6 L679.7 1228.6 L676.7 1228.5 L673.7 1228.4 L670.7 1228.4 L667.7 1228.3 L664.7 1228.3 L661.7 1228.2 L658.7 1228.2 L655.7 1228.1 L652.7 1228.0 L649.7 1228.0 L646.7 1227.9 L643.7 1227.9 L640.7 1227.9 L637.7 1227.8 L634.7 1227.8 L631.7 1227.7 L628.7 1227.7 L625.7 1227.6 L622.7 1227.6 L619.7 1227.5 L616.7 1227.5 L613.7 1227.4 L610.7 1227.4 L607.7 1227.4 L604.6 1227.3 L601.6 1227.3 L598.6 1227.2 L595.6 1227.2 L592.6 1227.1 L589.6 1227.1 L586.6 1227.0 L583.6 1227.0 L580.6 1226.9 L577.6 1226.9 L574.6 1226.9 L571.6 1226.8 L568.6 1226.8 L565.6 1226.7 L562.6 1226.7 L559.6 1226.6 L556.6 1226.6 L553.6 1226.5 L550.6 1226.4 L547.6 1226.4 L544.6 1226.3 L541.6 1226.3 L538.6 1226.2 L535.6 1226.2 L532.6 1226.1 L529.6 1226.1 L526.6 1226.0 L523.6 1225.9 L520.6 1225.9 L517.6 1225.8 L514.6 1225.7 L511.6 1225.7 L508.6 1225.6 L505.6 1225.5 L502.6 1225.5 L499.6 1225.4 L496.6 1225.3 L493.6 1225.2 L490.6 1225.2 L487.6 1225.1 L484.6 1225.0 L481.6 1224.9 L478.6 1224.8 L475.6 1224.8 L472.6 1224.7 L469.6 1224.6 L466.6 1224.5 L463.6 1224.4 L460.6 1224.3 L457.6 1224.3 L454.6 1224.2 L451.5 1224.1 L448.5 1224.0 L445.5 1223.9 L442.5 1223.8 L439.5 1223.7 L436.5 1223.6 L433.5 1223.5 L430.5 1223.5 L427.5 1223.4 L424.5 1223.3 L421.5 1223.2 L418.5 1223.1 L415.5 1223.0 L412.5 1222.9 L409.5 1222.8 L406.5 1222.7 L403.5 1222.6 L400.5 1222.5 L397.5 1222.4 L394.5 1222.3 L391.5 1222.2 L388.5 1222.1 L385.5 1222.0 L382.5 1221.9 L379.5 1221.8 L376.5 1221.7 L373.5 1221.6 L370.5 1221.5 L367.5 1221.4 L364.5 1221.3 L361.5 1221.2 L358.5 1221.1 L355.5 1221.0 L352.5 1220.9 L349.5 1220.8 L346.5 1220.7 L343.5 1220.6 L340.5 1220.5 L337.5 1220.4 L334.5 1220.3 L331.5 1220.2 L328.5 1220.0 L325.5 1219.9 L322.5 1219.8 L319.5 1219.7 L316.5 1219.6 L313.5 1219.5 L310.5 1219.4 L307.5 1219.3 L304.5 1219.1 L301.5 1219.0 L298.5 1218.9 L295.5 1218.8 L292.5 1218.7 L289.5 1218.6 L286.5 1218.4 L283.5 1218.3 L280.5 1218.2 L277.5 1218.1 L274.5 1218.0 L271.5 1217.8 L268.5 1217.7 L265.5 1217.6 L262.5 1217.5 L259.5 1217.3 L256.5 1217.2 L253.5 1217.1 L250.5 1217.0 L247.5 1216.8 L244.5 1216.7Z M1011.6 411.4 L1011.0 412.1 L1010.4 414.3 L1009.8 417.5 L1009.3 421.2 L1008.8 424.8 L1008.4 428.1 L1008.1 431.2 L1007.8 434.2 L1007.6 437.2 L1007.3 440.2 L1007.1 443.2 L1006.9 446.2 L1006.7 449.2 L1006.5 452.2 L1006.3 455.2 L1006.1 458.2 L1006.0 461.2 L1005.8 464.2 L1005.6 467.2 L1005.3 470.2 L1005.1 473.2 L1004.9 476.1 L1004.7 479.1 L1004.5 482.1 L1004.3 485.1 L1004.1 488.1 L1003.9 491.1 L1003.7 494.1 L1003.4 497.1 L1003.2 500.1 L1003.0 503.1 L1002.8 506.1 L1002.6 509.1 L1002.4 512.1 L1002.2 515.1 L1002.0 518.1 L1001.8 521.1 L1001.6 524.1 L1001.4 527.1 L1001.2 530.1 L1001.0 533.1 L1000.8 536.1 L1000.6 539.1 L1000.4 542.1 L1000.2 545.0 L1000.0 548.0 L999.8 551.0 L999.6 554.0 L999.4 557.0 L999.2 560.0 L999.0 563.0 L998.8 566.0 L998.6 569.0 L998.5 572.0 L998.3 575.0 L998.1 578.0 L997.9 581.0 L997.8 584.0 L997.6 587.0 L997.4 590.0 L997.3 593.0 L997.1 596.0 L996.9 599.0 L996.8 602.0 L996.6 605.0 L996.5 608.0 L996.3 611.0 L996.2 614.0 L996.0 617.0 L995.9 620.0 L995.7 623.0 L995.6 626.0 L995.5 629.0 L995.3 632.0 L995.2 635.0 L995.1 638.0 L994.9 641.0 L994.8 644.0 L994.7 647.0 L994.5 650.0 L994.4 653.0 L994.3 656.0 L994.2 659.0 L994.0 662.0 L993.9 665.0 L993.8 668.0 L993.7 671.0 L993.6 674.0 L993.4 677.0 L993.3 680.0 L993.2 683.0 L993.1 686.0 L993.0 689.0 L992.9 692.0 L992.7 695.0 L992.6 698.0 L992.5 701.0 L992.4 704.0 L992.3 707.0 L992.2 710.0 L992.0 713.0 L991.9 716.0 L991.8 719.0 L991.7 722.0 L991.6 725.0 L991.5 728.0 L991.3 731.0 L991.2 734.0 L991.1 737.0 L991.0 740.0 L990.9 743.0 L990.7 746.0 L990.6 749.0 L990.5 752.0 L990.3 755.0 L990.2 758.0 L990.1 761.0 L990.0 764.0 L989.8 767.0 L989.7 770.0 L989.6 773.0 L989.4 776.0 L989.3 779.0 L989.1 782.0 L989.0 785.0 L988.9 788.0 L988.7 791.0 L988.6 794.0 L988.4 797.0 L988.2 800.0 L988.1 803.0 L987.9 806.0 L987.8 809.0 L987.6 812.0 L987.4 815.0 L987.3 818.0 L987.1 821.0 L986.9 824.0 L986.7 827.0 L986.6 830.0 L986.4 833.0 L986.2 836.0 L986.0 838.9 L985.8 841.9 L985.5 844.9 L985.3 847.9 L985.1 850.9 L984.9 853.9 L984.6 856.9 L984.4 859.9 L984.1 862.9 L983.9 865.9 L983.7 868.9 L983.4 871.9 L983.1 874.9 L982.9 877.9 L982.6 880.8 L982.4 883.8 L982.1 886.8 L981.8 889.8 L981.6 892.8 L981.3 895.8 L981.0 898.8 L980.8 901.8 L980.5 904.8 L980.2 907.8 L980.0 910.8 L979.7 913.8 L979.4 916.7 L979.2 919.7 L978.9 922.7 L978.6 925.7 L978.4 928.7 L978.1 931.7 L977.9 934.7 L977.6 937.7 L977.4 940.7 L977.1 943.7 L976.9 946.7 L976.6 949.7 L976.4 952.7 L976.2 955.6 L975.9 958.6 L975.7 961.6 L975.4 964.6 L975.2 967.6 L975.0 970.6 L974.7 973.6 L974.5 976.6 L974.3 979.6 L974.0 982.6 L973.8 985.6 L973.6 988.6 L973.3 991.6 L973.1 994.6 L972.9 997.6 L972.7 1000.6 L972.4 1003.5 L972.2 1006.5 L972.0 1009.5 L971.7 1012.5 L971.5 1015.5 L971.3 1018.5 L971.1 1021.5 L970.8 1024.5 L970.6 1027.5 L970.4 1030.5 L970.2 1033.5 L970.0 1036.5 L969.7 1039.5 L969.5 1042.5 L969.3 1045.5 L969.1 1048.5 L968.9 1051.5 L968.7 1054.5 L968.5 1057.5 L968.4 1060.5 L968.2 1063.5 L968.0 1066.5 L967.8 1069.5 L967.6 1072.4 L967.4 1075.4 L967.2 1078.4 L967.0 1081.4 L966.8 1084.4 L966.6 1087.4 L966.3 1090.4 L966.1 1093.4 L965.8 1096.4 L965.6 1099.4 L965.3 1102.4 L965.0 1105.4 L964.6 1108.3 L964.3 1111.3 L963.9 1114.3 L963.5 1117.3 L963.1 1120.3 L962.7 1123.2 L962.2 1126.2 L961.7 1129.2 L961.2 1132.1 L960.6 1135.1 L960.0 1138.0 L959.4 1140.9 L958.6 1143.9 L957.9 1146.8 L957.1 1149.7 L956.3 1152.6 L955.5 1155.4 L954.6 1158.3 L953.6 1161.2 L952.6 1164.0 L951.6 1166.8 L950.5 1169.6 L949.5 1172.5 L948.5 1175.3 L947.4 1178.1 L946.3 1181.0 L945.2 1183.8 L944.0 1186.5 L942.6 1189.1 L941.1 1191.7 L939.4 1194.2 L937.5 1196.5 L935.3 1198.5 L933.0 1200.4 L924.0 1200.4 L926.3 1198.5 L928.5 1196.5 L930.4 1194.2 L932.1 1191.7 L933.6 1189.1 L935.0 1186.5 L936.2 1183.8 L937.3 1181.0 L938.4 1178.1 L939.5 1175.3 L940.5 1172.5 L941.5 1169.6 L942.6 1166.8 L943.6 1164.0 L944.6 1161.2 L945.6 1158.3 L946.5 1155.4 L947.3 1152.6 L948.1 1149.7 L948.9 1146.8 L949.6 1143.9 L950.4 1140.9 L951.0 1138.0 L951.6 1135.1 L952.2 1132.1 L952.7 1129.2 L953.2 1126.2 L953.7 1123.2 L954.1 1120.3 L954.5 1117.3 L954.9 1114.3 L955.3 1111.3 L955.6 1108.3 L956.0 1105.4 L956.3 1102.4 L956.6 1099.4 L956.8 1096.4 L957.1 1093.4 L957.3 1090.4 L957.6 1087.4 L957.8 1084.4 L958.0 1081.4 L958.2 1078.4 L958.4 1075.4 L958.6 1072.4 L958.8 1069.5 L959.0 1066.5 L959.2 1063.5 L959.4 1060.5 L959.5 1057.5 L959.7 1054.5 L959.9 1051.5 L960.1 1048.5 L960.3 1045.5 L960.5 1042.5 L960.7 1039.5 L961.0 1036.5 L961.2 1033.5 L961.4 1030.5 L961.6 1027.5 L961.8 1024.5 L962.1 1021.5 L962.3 1018.5 L962.5 1015.5 L962.7 1012.5 L963.0 1009.5 L963.2 1006.5 L963.4 1003.5 L963.7 1000.6 L963.9 997.6 L964.1 994.6 L964.3 991.6 L964.6 988.6 L964.8 985.6 L965.0 982.6 L965.3 979.6 L965.5 976.6 L965.7 973.6 L966.0 970.6 L966.2 967.6 L966.4 964.6 L966.7 961.6 L966.9 958.6 L967.2 955.6 L967.4 952.7 L967.6 949.7 L967.9 946.7 L968.1 943.7 L968.4 940.7 L968.6 937.7 L968.9 934.7 L969.1 931.7 L969.4 928.7 L969.6 925.7 L969.9 922.7 L970.2 919.7 L970.4 916.7 L970.7 913.8 L971.0 910.8 L971.2 907.8 L971.5 904.8 L971.8 901.8 L972.0 898.8 L972.3 895.8 L972.6 892.8 L972.8 889.8 L973.1 886.8 L973.4 883.8 L973.6 880.8 L973.9 877.9 L974.1 874.9 L974.4 871.9 L974.7 868.9 L974.9 865.9 L975.1 862.9 L975.4 859.9 L975.6 856.9 L975.9 853.9 L976.1 850.9 L976.3 847.9 L976.5 844.9 L976.8 841.9 L977.0 838.9 L977.2 836.0 L977.4 833.0 L977.6 830.0 L977.7 827.0 L977.9 824.0 L978.1 821.0 L978.3 818.0 L978.4 815.0 L978.6 812.0 L978.8 809.0 L978.9 806.0 L979.1 803.0 L979.2 800.0 L979.4 797.0 L979.6 794.0 L979.7 791.0 L979.9 788.0 L980.0 785.0 L980.1 782.0 L980.3 779.0 L980.4 776.0 L980.6 773.0 L980.7 770.0 L980.8 767.0 L981.0 764.0 L981.1 761.0 L981.2 758.0 L981.3 755.0 L981.5 752.0 L981.6 749.0 L981.7 746.0 L981.9 743.0 L982.0 740.0 L982.1 737.0 L982.2 734.0 L982.3 731.0 L982.5 728.0 L982.6 725.0 L982.7 722.0 L982.8 719.0 L982.9 716.0 L983.0 713.0 L983.2 710.0 L983.3 707.0 L983.4 704.0 L983.5 701.0 L983.6 698.0 L983.7 695.0 L983.9 692.0 L984.0 689.0 L984.1 686.0 L984.2 683.0 L984.3 680.0 L984.4 677.0 L984.6 674.0 L984.7 671.0 L984.8 668.0 L984.9 665.0 L985.0 662.0 L985.2 659.0 L985.3 656.0 L985.4 653.0 L985.5 650.0 L985.7 647.0 L985.8 644.0 L985.9 641.0 L986.1 638.0 L986.2 635.0 L986.3 632.0 L986.5 629.0 L986.6 626.0 L986.7 623.0 L986.9 620.0 L987.0 617.0 L987.2 614.0 L987.3 611.0 L987.5 608.0 L987.6 605.0 L987.8 602.0 L987.9 599.0 L988.1 596.0 L988.3 593.0 L988.4 590.0 L988.6 587.0 L988.8 584.0 L988.9 581.0 L989.1 578.0 L989.3 575.0 L989.5 572.0 L989.6 569.0 L989.8 566.0 L990.0 563.0 L990.2 560.0 L990.4 557.0 L990.6 554.0 L990.8 551.0 L991.0 548.0 L991.2 545.0 L991.4 542.1 L991.6 539.1 L991.8 536.1 L992.0 533.1 L992.2 530.1 L992.4 527.1 L992.6 524.1 L992.8 521.1 L993.0 518.1 L993.2 515.1 L993.4 512.1 L993.6 509.1 L993.8 506.1 L994.0 503.1 L994.2 500.1 L994.4 497.1 L994.7 494.1 L994.9 491.1 L995.1 488.1 L995.3 485.1 L995.5 482.1 L995.7 479.1 L995.9 476.1 L996.1 473.2 L996.3 470.2 L996.6 467.2 L996.8 464.2 L997.0 461.2 L997.1 458.2 L997.3 455.2 L997.5 452.2 L997.7 449.2 L997.9 446.2 L998.1 443.2 L998.3 440.2 L998.6 437.2 L998.8 434.2 L999.1 431.2 L999.4 428.1 L999.8 424.8 L1000.3 421.2 L1000.8 417.5 L1001.4 414.3 L1002.0 412.1 L1002.6 411.4Z M1011.6 411.4 L1012.1 412.5 L1012.7 414.9 L1013.3 418.2 L1013.8 421.9 L1014.3 425.5 L1014.6 428.8 L1014.9 431.8 L1015.1 434.8 L1015.4 437.8 L1015.6 440.8 L1015.8 443.8 L1015.9 446.8 L1016.1 449.8 L1016.3 452.8 L1016.4 455.8 L1016.6 458.8 L1016.7 461.8 L1016.9 464.8 L1017.0 467.8 L1017.1 470.8 L1017.3 473.8 L1017.4 476.8 L1017.6 479.8 L1017.8 482.8 L1017.9 485.8 L1018.1 488.8 L1018.2 491.8 L1018.4 494.8 L1018.5 497.8 L1018.7 500.8 L1018.8 503.8 L1019.0 506.8 L1019.1 509.8 L1019.2 512.8 L1019.4 515.8 L1019.5 518.8 L1019.7 521.8 L1019.8 524.8 L1020.0 527.8 L1020.1 530.8 L1020.2 533.8 L1020.4 536.8 L1020.5 539.8 L1020.6 542.8 L1020.8 545.8 L1020.9 548.8 L1021.1 551.8 L1021.2 554.8 L1021.3 557.8 L1021.5 560.8 L1021.6 563.8 L1021.8 566.8 L1021.9 569.8 L1022.0 572.8 L1022.2 575.8 L1022.3 578.8 L1022.5 581.8 L1022.6 584.8 L1022.8 587.8 L1022.9 590.8 L1023.1 593.8 L1023.2 596.8 L1023.4 599.8 L1023.6 602.8 L1023.7 605.8 L1023.9 608.8 L1024.0 611.8 L1024.2 614.8 L1024.4 617.8 L1024.5 620.8 L1024.7 623.8 L1024.8 626.8 L1025.0 629.8 L1025.2 632.8 L1025.3 635.8 L1025.5 638.8 L1025.6 641.8 L1025.8 644.8 L1026.0 647.7 L1026.1 650.7 L1026.3 653.7 L1026.5 656.7 L1026.6 659.7 L1026.8 662.7 L1027.0 665.7 L1027.1 668.7 L1027.3 671.7 L1027.5 674.7 L1027.6 677.7 L1027.8 680.7 L1028.0 683.7 L1028.1 686.7 L1028.3 689.7 L1028.5 692.7 L1028.7 695.7 L1028.8 698.7 L1029.0 701.7 L1029.2 704.7 L1029.3 707.7 L1029.5 710.7 L1029.7 713.7 L1029.9 716.7 L1030.0 719.7 L1030.2 722.7 L1030.4 725.7 L1030.6 728.7 L1030.7 731.7 L1030.9 734.7 L1031.1 737.7 L1031.3 740.7 L1031.4 743.7 L1031.6 746.7 L1031.8 749.7 L1032.0 752.7 L1032.2 755.7 L1032.3 758.7 L1032.5 761.7 L1032.7 764.7 L1032.9 767.7 L1033.1 770.7 L1033.2 773.7 L1033.4 776.6 L1033.6 779.6 L1033.8 782.6 L1034.0 785.6 L1034.2 788.6 L1034.4 791.6 L1034.5 794.6 L1034.7 797.6 L1034.9 800.6 L1035.1 803.6 L1035.3 806.6 L1035.5 809.6 L1035.7 812.6 L1035.8 815.6 L1036.0 818.6 L1036.2 821.6 L1036.4 824.6 L1036.6 827.6 L1036.8 830.6 L1037.0 833.6 L1037.2 836.6 L1037.3 839.6 L1037.5 842.6 L1037.7 845.6 L1037.9 848.6 L1038.1 851.6 L1038.3 854.6 L1038.5 857.6 L1038.6 860.6 L1038.8 863.6 L1039.0 866.6 L1039.2 869.6 L1039.4 872.6 L1039.6 875.6 L1039.8 878.6 L1040.0 881.6 L1040.2 884.5 L1040.4 887.5 L1040.6 890.5 L1040.8 893.5 L1041.0 896.5 L1041.2 899.5 L1041.4 902.5 L1041.6 905.5 L1041.8 908.5 L1042.1 911.5 L1042.3 914.5 L1042.5 917.5 L1042.8 920.5 L1043.0 923.5 L1043.3 926.5 L1043.5 929.5 L1043.8 932.4 L1044.0 935.4 L1044.3 938.4 L1044.6 941.4 L1044.9 944.4 L1045.2 947.4 L1045.5 950.4 L1045.8 953.4 L1046.1 956.3 L1046.5 959.3 L1046.8 962.3 L1047.2 965.3 L1047.5 968.3 L1047.9 971.3 L1048.2 974.2 L1048.6 977.2 L1049.0 980.2 L1049.4 983.2 L1049.7 986.2 L1050.1 989.1 L1050.5 992.1 L1050.9 995.1 L1051.3 998.1 L1051.6 1001.1 L1052.0 1004.0 L1052.4 1007.0 L1052.8 1010.0 L1053.2 1013.0 L1053.6 1015.9 L1053.9 1018.9 L1054.3 1021.9 L1054.7 1024.9 L1055.1 1027.9 L1055.5 1030.9 L1055.9 1033.8 L1056.3 1036.8 L1056.7 1039.8 L1057.1 1042.8 L1057.5 1045.7 L1058.0 1048.7 L1058.4 1051.7 L1058.9 1054.6 L1059.4 1057.6 L1060.0 1060.5 L1060.5 1063.5 L1061.1 1066.4 L1061.7 1069.3 L1062.4 1072.3 L1063.1 1075.2 L1063.8 1078.1 L1064.5 1081.1 L1065.2 1084.0 L1065.9 1086.9 L1066.6 1089.8 L1067.4 1092.7 L1068.1 1095.7 L1068.8 1098.6 L1069.5 1101.5 L1070.3 1104.5 L1071.1 1107.4 L1071.8 1110.4 L1072.7 1113.3 L1073.5 1116.2 L1074.4 1119.0 L1075.4 1121.8 L1076.4 1124.6 L1077.4 1127.4 L1078.6 1130.1 L1079.8 1132.7 L1081.2 1135.3 L1082.7 1137.9 L1084.4 1140.4 L1086.1 1143.0 L1087.8 1145.5 L1089.5 1147.9 L1091.3 1150.4 L1093.0 1152.9 L1094.8 1155.4 L1096.5 1157.9 L1098.2 1160.3 L1099.9 1162.7 L1101.7 1165.2 L1103.5 1167.6 L1105.3 1170.0 L1096.3 1170.0 L1094.5 1167.6 L1092.7 1165.2 L1090.9 1162.7 L1089.2 1160.3 L1087.5 1157.9 L1085.8 1155.4 L1084.0 1152.9 L1082.3 1150.4 L1080.5 1147.9 L1078.8 1145.5 L1077.1 1143.0 L1075.4 1140.4 L1073.7 1137.9 L1072.2 1135.3 L1070.8 1132.7 L1069.6 1130.1 L1068.4 1127.4 L1067.4 1124.6 L1066.4 1121.8 L1065.4 1119.0 L1064.5 1116.2 L1063.7 1113.3 L1062.8 1110.4 L1062.1 1107.4 L1061.3 1104.5 L1060.5 1101.5 L1059.8 1098.6 L1059.1 1095.7 L1058.4 1092.7 L1057.6 1089.8 L1056.9 1086.9 L1056.2 1084.0 L1055.5 1081.1 L1054.8 1078.1 L1054.1 1075.2 L1053.4 1072.3 L1052.7 1069.3 L1052.1 1066.4 L1051.5 1063.5 L1051.0 1060.5 L1050.4 1057.6 L1049.9 1054.6 L1049.4 1051.7 L1049.0 1048.7 L1048.5 1045.7 L1048.1 1042.8 L1047.7 1039.8 L1047.3 1036.8 L1046.9 1033.8 L1046.5 1030.9 L1046.1 1027.9 L1045.7 1024.9 L1045.3 1021.9 L1044.9 1018.9 L1044.6 1015.9 L1044.2 1013.0 L1043.8 1010.0 L1043.4 1007.0 L1043.0 1004.0 L1042.6 1001.1 L1042.3 998.1 L1041.9 995.1 L1041.5 992.1 L1041.1 989.1 L1040.7 986.2 L1040.4 983.2 L1040.0 980.2 L1039.6 977.2 L1039.2 974.2 L1038.9 971.3 L1038.5 968.3 L1038.2 965.3 L1037.8 962.3 L1037.5 959.3 L1037.1 956.3 L1036.8 953.4 L1036.5 950.4 L1036.2 947.4 L1035.9 944.4 L1035.6 941.4 L1035.3 938.4 L1035.0 935.4 L1034.8 932.4 L1034.5 929.5 L1034.3 926.5 L1034.0 923.5 L1033.8 920.5 L1033.5 917.5 L1033.3 914.5 L1033.1 911.5 L1032.8 908.5 L1032.6 905.5 L1032.4 902.5 L1032.2 899.5 L1032.0 896.5 L1031.8 893.5 L1031.6 890.5 L1031.4 887.5 L1031.2 884.5 L1031.0 881.6 L1030.8 878.6 L1030.6 875.6 L1030.4 872.6 L1030.2 869.6 L1030.0 866.6 L1029.8 863.6 L1029.6 860.6 L1029.5 857.6 L1029.3 854.6 L1029.1 851.6 L1028.9 848.6 L1028.7 845.6 L1028.5 842.6 L1028.3 839.6 L1028.2 836.6 L1028.0 833.6 L1027.8 830.6 L1027.6 827.6 L1027.4 824.6 L1027.2 821.6 L1027.0 818.6 L1026.8 815.6 L1026.7 812.6 L1026.5 809.6 L1026.3 806.6 L1026.1 803.6 L1025.9 800.6 L1025.7 797.6 L1025.5 794.6 L1025.4 791.6 L1025.2 788.6 L1025.0 785.6 L1024.8 782.6 L1024.6 779.6 L1024.4 776.6 L1024.2 773.7 L1024.1 770.7 L1023.9 767.7 L1023.7 764.7 L1023.5 761.7 L1023.3 758.7 L1023.2 755.7 L1023.0 752.7 L1022.8 749.7 L1022.6 746.7 L1022.4 743.7 L1022.3 740.7 L1022.1 737.7 L1021.9 734.7 L1021.7 731.7 L1021.6 728.7 L1021.4 725.7 L1021.2 722.7 L1021.0 719.7 L1020.9 716.7 L1020.7 713.7 L1020.5 710.7 L1020.3 707.7 L1020.2 704.7 L1020.0 701.7 L1019.8 698.7 L1019.7 695.7 L1019.5 692.7 L1019.3 689.7 L1019.1 686.7 L1019.0 683.7 L1018.8 680.7 L1018.6 677.7 L1018.5 674.7 L1018.3 671.7 L1018.1 668.7 L1018.0 665.7 L1017.8 662.7 L1017.6 659.7 L1017.5 656.7 L1017.3 653.7 L1017.1 650.7 L1017.0 647.7 L1016.8 644.8 L1016.6 641.8 L1016.5 638.8 L1016.3 635.8 L1016.2 632.8 L1016.0 629.8 L1015.8 626.8 L1015.7 623.8 L1015.5 620.8 L1015.4 617.8 L1015.2 614.8 L1015.0 611.8 L1014.9 608.8 L1014.7 605.8 L1014.6 602.8 L1014.4 599.8 L1014.2 596.8 L1014.1 593.8 L1013.9 590.8 L1013.8 587.8 L1013.6 584.8 L1013.5 581.8 L1013.3 578.8 L1013.2 575.8 L1013.0 572.8 L1012.9 569.8 L1012.8 566.8 L1012.6 563.8 L1012.5 560.8 L1012.3 557.8 L1012.2 554.8 L1012.1 551.8 L1011.9 548.8 L1011.8 545.8 L1011.6 542.8 L1011.5 539.8 L1011.4 536.8 L1011.2 533.8 L1011.1 530.8 L1011.0 527.8 L1010.8 524.8 L1010.7 521.8 L1010.5 518.8 L1010.4 515.8 L1010.2 512.8 L1010.1 509.8 L1010.0 506.8 L1009.8 503.8 L1009.7 500.8 L1009.5 497.8 L1009.4 494.8 L1009.2 491.8 L1009.1 488.8 L1008.9 485.8 L1008.8 482.8 L1008.6 479.8 L1008.4 476.8 L1008.3 473.8 L1008.1 470.8 L1008.0 467.8 L1007.9 464.8 L1007.7 461.8 L1007.6 458.8 L1007.4 455.8 L1007.3 452.8 L1007.1 449.8 L1006.9 446.8 L1006.8 443.8 L1006.6 440.8 L1006.4 437.8 L1006.1 434.8 L1005.9 431.8 L1005.6 428.8 L1005.3 425.5 L1004.8 421.9 L1004.3 418.2 L1003.7 414.9 L1003.1 412.5 L1002.6 411.4Z"/>
<path fill="#000000" d="M244.5 1213.3 L247.5 1213.4 L250.5 1213.4 L253.5 1213.5 L256.5 1213.5 L259.5 1213.6 L262.5 1213.6 L265.5 1213.7 L268.5 1213.7 L271.5 1213.8 L274.5 1213.9 L277.5 1213.9 L280.5 1214.0 L283.5 1214.1 L286.6 1214.1 L289.6 1214.2 L292.6 1214.2 L295.6 1214.3 L298.6 1214.4 L301.6 1214.4 L304.6 1214.5 L307.6 1214.6 L310.6 1214.6 L313.6 1214.7 L316.6 1214.8 L319.6 1214.9 L322.6 1214.9 L325.6 1215.0 L328.6 1215.1 L331.6 1215.1 L334.6 1215.2 L337.6 1215.3 L340.6 1215.4 L343.6 1215.4 L346.6 1215.5 L349.6 1215.6 L352.6 1215.7 L355.6 1215.8 L358.6 1215.9 L361.6 1215.9 L364.6 1216.0 L367.6 1216.1 L370.6 1216.3 L373.6 1216.4 L376.6 1216.5 L379.6 1216.6 L382.6 1216.8 L385.6 1216.9 L388.6 1217.1 L391.6 1217.2 L394.6 1217.4 L397.6 1217.6 L400.6 1217.8 L403.6 1218.0 L406.6 1218.2 L409.6 1218.5 L412.6 1218.7 L415.6 1218.9 L418.6 1219.2 L421.6 1219.4 L424.6 1219.6 L427.6 1219.9 L430.6 1220.1 L433.6 1220.3 L436.6 1220.5 L439.6 1220.8 L442.6 1221.0 L445.6 1221.2 L448.6 1221.4 L451.6 1221.6 L454.6 1221.8 L457.6 1222.0 L460.6 1222.1 L463.6 1222.3 L466.6 1222.5 L469.6 1222.7 L472.6 1222.9 L475.6 1223.0 L478.6 1223.2 L481.6 1223.4 L484.6 1223.5 L487.6 1223.7 L490.6 1223.9 L493.6 1224.1 L496.6 1224.2 L499.6 1224.4 L502.6 1224.6 L505.6 1224.7 L508.6 1224.9 L511.6 1225.1 L514.6 1225.3 L517.6 1225.4 L520.6 1225.6 L523.6 1225.8 L526.6 1226.0 L529.6 1226.2 L532.6 1226.4 L535.6 1226.6 L538.6 1226.8 L541.5 1227.0 L544.5 1227.2 L547.5 1227.4 L550.5 1227.6 L553.5 1227.8 L556.5 1228.0 L559.5 1228.2 L562.5 1228.4 L565.5 1228.6 L568.5 1228.8 L571.5 1229.0 L574.5 1229.3 L577.5 1229.5 L580.5 1229.7 L583.5 1229.9 L586.5 1230.1 L589.5 1230.3 L592.5 1230.5 L595.5 1230.7 L598.5 1230.9 L601.5 1231.0 L604.5 1231.2 L607.5 1231.4 L610.5 1231.6 L613.5 1231.7 L616.5 1231.9 L619.5 1232.1 L622.5 1232.2 L625.5 1232.4 L628.5 1232.5 L631.5 1232.7 L634.5 1232.8 L637.5 1233.0 L640.5 1233.1 L643.5 1233.3 L646.5 1233.4 L649.5 1233.5 L652.5 1233.7 L655.5 1233.8 L658.5 1234.0 L661.5 1234.1 L664.5 1234.2 L667.5 1234.3 L670.5 1234.5 L673.5 1234.6 L676.5 1234.7 L679.5 1234.8 L682.5 1234.9 L685.5 1235.0 L688.5 1235.1 L691.5 1235.2 L694.5 1235.3 L697.5 1235.4 L700.5 1235.5 L703.5 1235.6 L706.5 1235.7 L709.5 1235.8 L712.5 1235.8 L715.5 1235.9 L718.6 1236.0 L721.6 1236.1 L724.6 1236.2 L727.6 1236.2 L730.6 1236.3 L733.6 1236.4 L736.6 1236.4 L739.6 1236.5 L742.6 1236.6 L745.6 1236.6 L748.6 1236.7 L751.6 1236.7 L754.6 1236.8 L757.6 1236.8 L760.6 1236.9 L763.6 1236.9 L766.6 1237.0 L769.6 1237.0 L772.6 1237.0 L775.6 1237.0 L778.6 1237.1 L781.6 1237.1 L784.6 1237.1 L787.6 1237.2 L790.6 1237.2 L793.6 1237.2 L796.7 1237.2 L799.7 1237.3 L802.7 1237.3 L805.7 1237.3 L808.7 1237.3 L811.7 1237.3 L814.7 1237.4 L817.7 1237.4 L820.7 1237.4 L823.7 1237.4 L826.7 1237.4 L829.7 1237.5 L832.7 1237.5 L835.7 1237.5 L838.7 1237.5 L841.7 1237.5 L844.7 1237.5 L847.7 1237.6 L850.7 1237.6 L853.7 1237.6 L856.7 1237.6 L859.7 1237.6 L862.7 1237.6 L865.8 1237.6 L868.8 1237.6 L871.8 1237.7 L874.8 1237.7 L877.8 1237.7 L880.8 1237.7 L883.8 1237.7 L886.8 1237.7 L889.8 1237.7 L892.8 1237.7 L895.8 1237.7 L898.8 1237.7 L901.8 1237.7 L904.8 1237.7 L907.8 1237.7 L910.8 1237.7 L913.8 1237.7 L916.8 1237.7 L919.8 1237.7 L922.8 1237.7 L925.8 1237.7 L928.8 1237.7 L931.9 1237.7 L934.9 1237.7 L937.9 1237.6 L940.9 1237.6 L943.9 1237.6 L946.9 1237.6 L949.9 1237.6 L952.9 1237.6 L955.9 1237.6 L958.9 1237.6 L961.9 1237.6 L964.9 1237.5 L967.9 1237.5 L970.9 1237.5 L973.9 1237.5 L976.9 1237.5 L979.9 1237.4 L982.9 1237.4 L985.9 1237.4 L988.9 1237.4 L991.9 1237.3 L994.9 1237.3 L997.9 1237.3 L1000.9 1237.2 L1003.9 1237.1 L1006.9 1237.0 L1009.9 1236.9 L1012.9 1236.7 L1015.9 1236.6 L1018.9 1236.4 L1021.9 1236.1 L1024.9 1235.9 L1027.9 1235.6 L1030.9 1235.4 L1033.9 1235.1 L1036.9 1234.8 L1039.9 1234.5 L1042.9 1234.2 L1045.9 1233.9 L1048.9 1233.6 L1051.9 1233.2 L1054.8 1232.9 L1057.8 1232.5 L1060.8 1232.1 L1063.8 1231.7 L1066.7 1231.2 L1069.7 1230.8 L1072.7 1230.3 L1075.6 1229.8 L1078.6 1229.3 L1081.6 1228.7 L1084.5 1228.1 L1087.4 1227.4 L1090.3 1226.7 L1093.2 1225.9 L1096.1 1225.1 L1099.0 1224.2 L1101.8 1223.2 L1104.6 1222.1 L1107.3 1220.9 L1110.0 1219.6 L1112.7 1218.3 L1115.4 1216.9 L1118.0 1215.4 L1120.6 1213.9 L1123.1 1212.3 L1125.7 1210.7 L1128.2 1209.0 L1130.6 1207.2 L1133.0 1205.4 L1135.3 1203.5 L1137.6 1201.6 L1139.7 1199.6 L1141.8 1197.5 L1143.9 1195.3 L1145.8 1193.1 L1147.8 1190.8 L1149.6 1188.4 L1151.5 1186.1 L1153.3 1183.6 L1155.1 1181.2 L1156.9 1178.8 L1158.7 1176.3 L1160.5 1173.9 L1162.2 1171.5 L1164.0 1169.0 L1165.7 1166.6 L1167.4 1164.1 L1169.2 1161.7 L1170.9 1159.2 L1172.6 1156.7 L1174.4 1154.3 L1176.1 1151.8 L1177.8 1149.3 L1179.5 1146.9 L1181.3 1144.4 L1183.0 1142.0 L1184.7 1139.5 L1186.4 1137.0 L1188.2 1134.6 L1189.9 1132.1 L1191.7 1129.7 L1193.5 1127.3 L1195.3 1124.9 L1197.1 1122.5 L1199.0 1120.1 L1200.8 1117.8 L1202.8 1115.5 L1204.7 1113.1 L1206.7 1110.9 L1208.7 1108.6 L1210.7 1106.4 L1212.8 1104.3 L1214.9 1102.2 L1217.1 1100.1 L1219.4 1098.1 L1221.7 1096.2 L1224.0 1094.3 L1226.4 1092.6 L1228.9 1090.9 L1231.4 1089.3 L1234.0 1087.8 L1236.7 1086.4 L1239.4 1085.1 L1242.1 1083.9 L1244.9 1082.9 L1247.7 1082.0 L1250.6 1081.1 L1253.5 1080.4 L1256.4 1079.8 L1259.4 1079.2 L1262.3 1078.8 L1265.3 1078.4 L1268.3 1078.2 L1271.3 1078.0 L1274.3 1077.9 L1277.3 1077.8 L1280.3 1077.9 L1283.3 1078.0 L1286.3 1078.2 L1289.3 1078.5 L1292.2 1078.8 L1295.2 1079.2 L1298.2 1079.6 L1301.1 1080.1 L1304.1 1080.7 L1307.0 1081.2 L1310.0 1081.8 L1312.9 1082.5 L1315.9 1083.2 L1318.8 1083.9 L1321.7 1084.6 L1324.6 1085.4 L1327.5 1086.2 L1330.4 1087.0 L1333.3 1087.8 L1336.2 1088.7 L1339.1 1089.5 L1341.9 1090.4 L1344.8 1091.3 L1347.6 1092.2 L1350.5 1093.2 L1353.3 1094.1 L1356.2 1095.1 L1359.0 1096.1 L1361.8 1097.2 L1364.7 1098.2 L1367.5 1099.2 L1370.3 1100.3 L1373.1 1101.3 L1375.9 1102.4 L1378.7 1103.5 L1381.5 1104.5 L1384.3 1105.6 L1387.1 1106.7 L1389.9 1107.8 L1392.7 1108.9 L1395.5 1110.0 L1398.3 1111.1 L1401.1 1112.3 L1403.9 1113.4 L1406.7 1114.5 L1409.5 1115.7 L1412.2 1116.8 L1415.0 1118.0 L1417.8 1119.1 L1420.6 1120.3 L1423.3 1121.4 L1426.1 1122.6 L1428.8 1123.8 L1431.6 1125.0 L1434.4 1126.2 L1437.1 1127.3 L1439.9 1128.5 L1442.6 1129.7 L1445.4 1130.9 L1448.2 1132.1 L1450.9 1133.3 L1453.7 1134.4 L1456.5 1135.6 L1459.2 1136.8 L1462.0 1138.0 L1464.8 1139.1 L1467.5 1140.3 L1470.3 1141.5 L1473.1 1142.6 L1475.9 1143.8 L1478.6 1144.9 L1481.4 1146.1 L1484.2 1147.2 L1487.0 1148.3 L1489.8 1149.4 L1492.6 1150.6 L1495.4 1151.7 L1498.2 1152.7 L1501.0 1153.8 L1503.8 1154.9 L1506.6 1156.0 L1509.4 1157.1 L1512.2 1158.1 L1515.0 1159.2 L1517.8 1160.2 L1520.6 1161.3 L1523.5 1162.3 L1526.3 1163.3 L1529.1 1164.3 L1532.0 1165.3 L1534.8 1166.2 L1537.7 1167.2 L1540.5 1168.1 L1543.4 1169.0 L1546.3 1169.8 L1549.2 1170.7 L1552.0 1171.5 L1554.9 1172.3 L1557.8 1173.1 L1560.7 1173.9 L1563.6 1174.6 L1566.5 1175.4 L1569.5 1176.1 L1572.4 1176.8 L1575.3 1177.5 L1578.2 1178.2 L1581.2 1178.9 L1584.1 1179.5 L1587.1 1180.1 L1590.0 1180.7 L1592.9 1181.3 L1595.9 1181.9 L1598.8 1182.4 L1601.8 1183.0 L1604.7 1183.5 L1607.7 1184.0 L1610.7 1184.5 L1613.6 1185.0 L1616.6 1185.5 L1619.6 1186.0 L1622.6 1186.4 L1625.5 1186.8 L1628.5 1187.2 L1631.5 1187.6 L1634.5 1188.0 L1637.4 1188.4 L1640.4 1188.7 L1643.4 1189.1 L1646.4 1189.4 L1649.4 1189.7 L1652.4 1190.0 L1655.4 1190.3 L1658.4 1190.6 L1661.3 1190.9 L1664.3 1191.1 L1667.3 1191.4 L1670.3 1191.6 L1673.3 1191.8 L1676.3 1192.0 L1679.3 1192.2 L1682.3 1192.4 L1685.3 1192.5 L1688.3 1192.7 L1691.3 1192.9 L1694.3 1193.0 L1697.3 1193.1 L1700.3 1193.3 L1703.3 1193.4 L1706.3 1193.5 L1709.3 1193.6 L1712.3 1193.7 L1715.3 1193.8 L1718.3 1193.8 L1721.4 1193.9 L1724.4 1193.9 L1727.4 1194.0 L1730.4 1194.0 L1733.4 1194.0 L1736.4 1194.0 L1739.4 1194.0 L1742.4 1194.0 L1745.4 1194.0 L1748.4 1194.0 L1751.4 1194.0 L1754.4 1194.0 L1757.4 1194.0 L1760.4 1194.0 L1763.4 1194.0 L1766.4 1194.0 L1769.4 1194.0 L1772.4 1194.0 L1775.4 1193.9 L1778.4 1193.9 L1781.4 1193.8 L1784.4 1193.8 L1787.4 1193.7 L1790.4 1193.6 L1793.4 1193.5 L1796.4 1193.4 L1799.4 1193.2 L1802.4 1193.1 L1805.5 1193.0 L1808.5 1192.8 L1811.5 1192.7 L1814.5 1192.6 L1817.5 1192.4 L1820.5 1192.3 L1823.5 1192.2 L1826.5 1192.1 L1829.5 1191.9 L1832.5 1191.8 L1835.5 1191.7 L1838.5 1191.6 L1841.5 1191.4 L1844.5 1191.3 L1847.5 1191.2 L1850.5 1191.0 L1853.5 1190.9 L1856.5 1190.7 L1859.5 1190.6 L1862.5 1190.5 L1865.5 1190.3 L1868.5 1190.2 L1871.5 1190.0 L1874.5 1189.9 L1877.5 1189.7 L1880.5 1189.6 L1883.5 1189.4 L1886.5 1189.3 L1889.5 1189.1 L1892.5 1189.0 L1895.5 1188.8 L1898.5 1188.6 L1901.5 1188.5 L1904.5 1188.3 L1907.5 1188.2 L1910.5 1188.0 L1913.5 1187.9 L1916.5 1187.8 L1919.5 1187.6 L1922.5 1187.5 L1925.5 1187.3 L1928.5 1187.2 L1931.5 1187.0 L1934.5 1186.9 L1937.5 1186.8 L1940.5 1186.6 L1943.5 1186.5 L1946.5 1186.3 L1949.5 1186.2 L1949.5 1195.2 L1946.5 1195.3 L1943.5 1195.5 L1940.5 1195.6 L1937.5 1195.8 L1934.5 1195.9 L1931.5 1196.0 L1928.5 1196.2 L1925.5 1196.3 L1922.5 1196.5 L1919.5 1196.6 L1916.5 1196.8 L1913.5 1196.9 L1910.5 1197.0 L1907.5 1197.2 L1904.5 1197.3 L1901.5 1197.5 L1898.5 1197.6 L1895.5 1197.8 L1892.5 1198.0 L1889.5 1198.1 L1886.5 1198.3 L1883.5 1198.4 L1880.5 1198.6 L1877.5 1198.7 L1874.5 1198.9 L1871.5 1199.0 L1868.5 1199.2 L1865.5 1199.3 L1862.5 1199.5 L1859.5 1199.6 L1856.5 1199.7 L1853.5 1199.9 L1850.5 1200.0 L1847.5 1200.2 L1844.5 1200.3 L1841.5 1200.4 L1838.5 1200.6 L1835.5 1200.7 L1832.5 1200.8 L1829.5 1200.9 L1826.5 1201.1 L1823.5 1201.2 L1820.5 1201.3 L1817.5 1201.4 L1814.5 1201.6 L1811.5 1201.7 L1808.5 1201.8 L1805.5 1202.0 L1802.4 1202.1 L1799.4 1202.2 L1796.4 1202.4 L1793.4 1202.5 L1790.4 1202.6 L1787.4 1202.7 L1784.4 1202.8 L1781.4 1202.8 L1778.4 1202.9 L1775.4 1202.9 L1772.4 1203.0 L1769.4 1203.0 L1766.4 1203.0 L1763.4 1203.0 L1760.4 1203.0 L1757.4 1203.0 L1754.4 1203.0 L1751.4 1203.0 L1748.4 1203.0 L1745.4 1203.0 L1742.4 1203.0 L1739.4 1203.0 L1736.4 1203.0 L1733.4 1203.0 L1730.4 1203.0 L1727.4 1203.0 L1724.4 1202.9 L1721.4 1202.9 L1718.3 1202.8 L1715.3 1202.8 L1712.3 1202.7 L1709.3 1202.6 L1706.3 1202.5 L1703.3 1202.4 L1700.3 1202.3 L1697.3 1202.1 L1694.3 1202.0 L1691.3 1201.9 L1688.3 1201.7 L1685.3 1201.5 L1682.3 1201.4 L1679.3 1201.2 L1676.3 1201.0 L1673.3 1200.8 L1670.3 1200.6 L1667.3 1200.4 L1664.3 1200.1 L1661.3 1199.9 L1658.4 1199.6 L1655.4 1199.3 L1652.4 1199.0 L1649.4 1198.7 L1646.4 1198.4 L1643.4 1198.1 L1640.4 1197.7 L1637.4 1197.4 L1634.5 1197.0 L1631.5 1196.6 L1628.5 1196.2 L1625.5 1195.8 L1622.6 1195.4 L1619.6 1195.0 L1616.6 1194.5 L1613.6 1194.0 L1610.7 1193.5 L1607.7 1193.0 L1604.7 1192.5 L1601.8 1192.0 L1598.8 1191.4 L1595.9 1190.9 L1592.9 1190.3 L1590.0 1189.7 L1587.1 1189.1 L1584.1 1188.5 L1581.2 1187.9 L1578.2 1187.2 L1575.3 1186.5 L1572.4 1185.8 L1569.5 1185.1 L1566.5 1184.4 L1563.6 1183.6 L1560.7 1182.9 L1557.8 1182.1 L1554.9 1181.3 L1552.0 1180.5 L1549.2 1179.7 L1546.3 1178.8 L1543.4 1178.0 L1540.5 1177.1 L1537.7 1176.2 L1534.8 1175.2 L1532.0 1174.3 L1529.1 1173.3 L1526.3 1172.3 L1523.5 1171.3 L1520.6 1170.3 L1517.8 1169.2 L1515.0 1168.2 L1512.2 1167.1 L1509.4 1166.1 L1506.6 1165.0 L1503.8 1163.9 L1501.0 1162.8 L1498.2 1161.7 L1495.4 1160.7 L1492.6 1159.6 L1489.8 1158.4 L1487.0 1157.3 L1484.2 1156.2 L1481.4 1155.1 L1478.6 1153.9 L1475.9 1152.8 L1473.1 1151.6 L1470.3 1150.5 L1467.5 1149.3 L1464.8 1148.1 L1462.0 1147.0 L1459.2 1145.8 L1456.5 1144.6 L1453.7 1143.4 L1450.9 1142.3 L1448.2 1141.1 L1445.4 1139.9 L1442.6 1138.7 L1439.9 1137.5 L1437.1 1136.3 L1434.4 1135.2 L1431.6 1134.0 L1428.8 1132.8 L1426.1 1131.6 L1423.3 1130.4 L1420.6 1129.3 L1417.8 1128.1 L1415.0 1127.0 L1412.2 1125.8 L1409.5 1124.7 L1406.7 1123.5 L1403.9 1122.4 L1401.1 1121.3 L1398.3 1120.1 L1395.5 1119.0 L1392.7 1117.9 L1389.9 1116.8 L1387.1 1115.7 L1384.3 1114.6 L1381.5 1113.5 L1378.7 1112.5 L1375.9 1111.4 L1373.1 1110.3 L1370.3 1109.3 L1367.5 1108.2 L1364.7 1107.2 L1361.8 1106.2 L1359.0 1105.1 L1356.2 1104.1 L1353.3 1103.1 L1350.5 1102.2 L1347.6 1101.2 L1344.8 1100.3 L1341.9 1099.4 L1339.1 1098.5 L1336.2 1097.7 L1333.3 1096.8 L1330.4 1096.0 L1327.5 1095.2 L1324.6 1094.4 L1321.7 1093.6 L1318.8 1092.9 L1315.9 1092.2 L1312.9 1091.5 L1310.0 1090.8 L1307.0 1090.2 L1304.1 1089.7 L1301.1 1089.1 L1298.2 1088.6 L1295.2 1088.2 L1292.2 1087.8 L1289.3 1087.5 L1286.3 1087.2 L1283.3 1087.0 L1280.3 1086.9 L1277.3 1086.8 L1274.3 1086.9 L1271.3 1087.0 L1268.3 1087.2 L1265.3 1087.4 L1262.3 1087.8 L1259.4 1088.2 L1256.4 1088.8 L1253.5 1089.4 L1250.6 1090.1 L1247.7 1091.0 L1244.9 1091.9 L1242.1 1092.9 L1239.4 1094.1 L1236.7 1095.4 L1234.0 1096.8 L1231.4 1098.3 L1228.9 1099.9 L1226.4 1101.6 L1224.0 1103.3 L1221.7 1105.2 L1219.4 1107.1 L1217.1 1109.1 L1214.9 1111.2 L1212.8 1113.3 L1210.7 1115.4 L1208.7 1117.6 L1206.7 1119.9 L1204.7 1122.1 L1202.8 1124.5 L1200.8 1126.8 L1199.0 1129.1 L1197.1 1131.5 L1195.3 1133.9 L1193.5 1136.3 L1191.7 1138.7 L1189.9 1141.1 L1188.2 1143.6 L1186.4 1146.0 L1184.7 1148.5 L1183.0 1151.0 L1181.3 1153.4 L1179.5 1155.9 L1177.8 1158.3 L1176.1 1160.8 L1174.4 1163.3 L1172.6 1165.7 L1170.9 1168.2 L1169.2 1170.7 L1167.4 1173.1 L1165.7 1175.6 L1164.0 1178.0 L1162.2 1180.5 L1160.5 1182.9 L1158.7 1185.3 L1156.9 1187.8 L1155.1 1190.2 L1153.3 1192.6 L1151.5 1195.1 L1149.6 1197.4 L1147.8 1199.8 L1145.8 1202.1 L1143.9 1204.3 L1141.8 1206.5 L1139.7 1208.6 L1137.6 1210.6 L1135.3 1212.5 L1133.0 1214.4 L1130.6 1216.2 L1128.2 1218.0 L1125.7 1219.7 L1123.1 1221.3 L1120.6 1222.9 L1118.0 1224.4 L1115.4 1225.9 L1112.7 1227.3 L1110.0 1228.6 L1107.3 1229.9 L1104.6 1231.1 L1101.8 1232.2 L1099.0 1233.2 L1096.1 1234.1 L1093.2 1234.9 L1090.3 1235.7 L1087.4 1236.4 L1084.5 1237.1 L1081.6 1237.7 L1078.6 1238.3 L1075.6 1238.8 L1072.7 1239.3 L1069.7 1239.8 L1066.7 1240.2 L1063.8 1240.7 L1060.8 1241.1 L1057.8 1241.5 L1054.8 1241.9 L1051.9 1242.2 L1048.9 1242.6 L1045.9 1242.9 L1042.9 1243.2 L1039.9 1243.5 L1036.9 1243.8 L1033.9 1244.1 L1030.9 1244.4 L1027.9 1244.6 L1024.9 1244.9 L1021.9 1245.1 L1018.9 1245.4 L1015.9 1245.6 L1012.9 1245.7 L1009.9 1245.9 L1006.9 1246.0 L1003.9 1246.1 L1000.9 1246.2 L997.9 1246.3 L994.9 1246.3 L991.9 1246.3 L988.9 1246.4 L985.9 1246.4 L982.9 1246.4 L979.9 1246.4 L976.9 1246.5 L973.9 1246.5 L970.9 1246.5 L967.9 1246.5 L964.9 1246.5 L961.9 1246.6 L958.9 1246.6 L955.9 1246.6 L952.9 1246.6 L949.9 1246.6 L946.9 1246.6 L943.9 1246.6 L940.9 1246.6 L937.9 1246.6 L934.9 1246.7 L931.9 1246.7 L928.8 1246.7 L925.8 1246.7 L922.8 1246.7 L919.8 1246.7 L916.8 1246.7 L913.8 1246.7 L910.8 1246.7 L907.8 1246.7 L904.8 1246.7 L901.8 1246.7 L898.8 1246.7 L895.8 1246.7 L892.8 1246.7 L889.8 1246.7 L886.8 1246.7 L883.8 1246.7 L880.8 1246.7 L877.8 1246.7 L874.8 1246.7 L871.8 1246.7 L868.8 1246.6 L865.8 1246.6 L862.7 1246.6 L859.7 1246.6 L856.7 1246.6 L853.7 1246.6 L850.7 1246.6 L847.7 1246.6 L844.7 1246.5 L841.7 1246.5 L838.7 1246.5 L835.7 1246.5 L832.7 1246.5 L829.7 1246.5 L826.7 1246.4 L823.7 1246.4 L820.7 1246.4 L817.7 1246.4 L814.7 1246.4 L811.7 1246.3 L808.7 1246.3 L805.7 1246.3 L802.7 1246.3 L799.7 1246.3 L796.7 1246.2 L793.6 1246.2 L790.6 1246.2 L787.6 1246.2 L784.6 1246.1 L781.6 1246.1 L778.6 1246.1 L775.6 1246.0 L772.6 1246.0 L769.6 1246.0 L766.6 1246.0 L763.6 1245.9 L760.6 1245.9 L757.6 1245.8 L754.6 1245.8 L751.6 1245.7 L748.6 1245.7 L745.6 1245.6 L742.6 1245.6 L739.6 1245.5 L736.6 1245.4 L733.6 1245.4 L730.6 1245.3 L727.6 1245.2 L724.6 1245.2 L721.6 1245.1 L718.6 1245.0 L715.5 1244.9 L712.5 1244.8 L709.5 1244.8 L706.5 1244.7 L703.5 1244.6 L700.5 1244.5 L697.5 1244.4 L694.5 1244.3 L691.5 1244.2 L688.5 1244.1 L685.5 1244.0 L682.5 1243.9 L679.5 1243.8 L676.5 1243.7 L673.5 1243.6 L670.5 1243.5 L667.5 1243.3 L664.5 1243.2 L661.5 1243.1 L658.5 1243.0 L655.5 1242.8 L652.5 1242.7 L649.5 1242.5 L646.5 1242.4 L643.5 1242.3 L640.5 1242.1 L637.5 1242.0 L634.5 1241.8 L631.5 1241.7 L628.5 1241.5 L625.5 1241.4 L622.5 1241.2 L619.5 1241.1 L616.5 1240.9 L613.5 1240.7 L610.5 1240.6 L607.5 1240.4 L604.5 1240.2 L601.5 1240.0 L598.5 1239.9 L595.5 1239.7 L592.5 1239.5 L589.5 1239.3 L586.5 1239.1 L583.5 1238.9 L580.5 1238.7 L577.5 1238.5 L574.5 1238.3 L571.5 1238.0 L568.5 1237.8 L565.5 1237.6 L562.5 1237.4 L559.5 1237.2 L556.5 1237.0 L553.5 1236.8 L550.5 1236.6 L547.5 1236.4 L544.5 1236.2 L541.5 1236.0 L538.6 1235.8 L535.6 1235.6 L532.6 1235.4 L529.6 1235.2 L526.6 1235.0 L523.6 1234.8 L520.6 1234.6 L517.6 1234.4 L514.6 1234.3 L511.6 1234.1 L508.6 1233.9 L505.6 1233.7 L502.6 1233.6 L499.6 1233.4 L496.6 1233.2 L493.6 1233.1 L490.6 1232.9 L487.6 1232.7 L484.6 1232.5 L481.6 1232.4 L478.6 1232.2 L475.6 1232.0 L472.6 1231.9 L469.6 1231.7 L466.6 1231.5 L463.6 1231.3 L460.6 1231.1 L457.6 1231.0 L454.6 1230.8 L451.6 1230.6 L448.6 1230.4 L445.6 1230.2 L442.6 1230.0 L439.6 1229.8 L436.6 1229.5 L433.6 1229.3 L430.6 1229.1 L427.6 1228.9 L424.6 1228.6 L421.6 1228.4 L418.6 1228.2 L415.6 1227.9 L412.6 1227.7 L409.6 1227.5 L406.6 1227.2 L403.6 1227.0 L400.6 1226.8 L397.6 1226.6 L394.6 1226.4 L391.6 1226.2 L388.6 1226.1 L385.6 1225.9 L382.6 1225.8 L379.6 1225.6 L376.6 1225.5 L373.6 1225.4 L370.6 1225.3 L367.6 1225.1 L364.6 1225.0 L361.6 1224.9 L358.6 1224.9 L355.6 1224.8 L352.6 1224.7 L349.6 1224.6 L346.6 1224.5 L343.6 1224.4 L340.6 1224.4 L337.6 1224.3 L334.6 1224.2 L331.6 1224.1 L328.6 1224.1 L325.6 1224.0 L322.6 1223.9 L319.6 1223.9 L316.6 1223.8 L313.6 1223.7 L310.6 1223.6 L307.6 1223.6 L304.6 1223.5 L301.6 1223.4 L298.6 1223.4 L295.6 1223.3 L292.6 1223.2 L289.6 1223.2 L286.6 1223.1 L283.5 1223.1 L280.5 1223.0 L277.5 1222.9 L274.5 1222.9 L271.5 1222.8 L268.5 1222.7 L265.5 1222.7 L262.5 1222.6 L259.5 1222.6 L256.5 1222.5 L253.5 1222.5 L250.5 1222.4 L247.5 1222.4 L244.5 1222.3Z M1230.9 1097.1 L1228.5 1098.8 L1226.2 1100.7 L1223.9 1102.6 L1221.6 1104.6 L1219.4 1106.7 L1217.3 1108.8 L1215.2 1110.9 L1213.2 1113.1 L1211.2 1115.4 L1209.2 1117.6 L1207.3 1120.0 L1205.3 1122.3 L1203.5 1124.6 L1201.6 1127.0 L1199.8 1129.4 L1198.0 1131.8 L1196.2 1134.2 L1194.4 1136.6 L1192.7 1139.1 L1190.9 1141.5 L1189.2 1144.0 L1187.5 1146.5 L1185.8 1148.9 L1184.0 1151.4 L1182.3 1153.8 L1180.6 1156.3 L1178.9 1158.8 L1177.1 1161.2 L1175.4 1163.7 L1173.7 1166.2 L1171.9 1168.6 L1170.2 1171.1 L1168.5 1173.5 L1166.7 1176.0 L1165.0 1178.4 L1163.2 1180.8 L1161.4 1183.3 L1159.6 1185.7 L1157.8 1188.1 L1156.0 1190.6 L1154.1 1192.9 L1152.3 1195.3 L1150.3 1197.6 L1148.4 1199.8 L1146.3 1202.0 L1144.2 1204.1 L1142.1 1206.1 L1139.8 1208.0 L1137.5 1209.9 L1135.1 1211.7 L1132.7 1213.5 L1123.7 1213.5 L1126.1 1211.7 L1128.5 1209.9 L1130.8 1208.0 L1133.1 1206.1 L1135.2 1204.1 L1137.3 1202.0 L1139.4 1199.8 L1141.3 1197.6 L1143.3 1195.3 L1145.1 1192.9 L1147.0 1190.6 L1148.8 1188.1 L1150.6 1185.7 L1152.4 1183.3 L1154.2 1180.8 L1156.0 1178.4 L1157.7 1176.0 L1159.5 1173.5 L1161.2 1171.1 L1162.9 1168.6 L1164.7 1166.2 L1166.4 1163.7 L1168.1 1161.2 L1169.9 1158.8 L1171.6 1156.3 L1173.3 1153.8 L1175.0 1151.4 L1176.8 1148.9 L1178.5 1146.5 L1180.2 1144.0 L1181.9 1141.5 L1183.7 1139.1 L1185.4 1136.6 L1187.2 1134.2 L1189.0 1131.8 L1190.8 1129.4 L1192.6 1127.0 L1194.5 1124.6 L1196.3 1122.3 L1198.3 1120.0 L1200.2 1117.6 L1202.2 1115.4 L1204.2 1113.1 L1206.2 1110.9 L1208.3 1108.8 L1210.4 1106.7 L1212.6 1104.6 L1214.9 1102.6 L1217.2 1100.7 L1219.5 1098.8 L1221.9 1097.1Z"/>
<path fill="#000080" d="M244.5 1223.2 L247.5 1223.2 L250.5 1223.2 L253.5 1223.3 L256.5 1223.3 L259.5 1223.3 L262.5 1223.3 L265.5 1223.3 L268.5 1223.4 L271.5 1223.4 L274.5 1223.4 L277.5 1223.4 L280.5 1223.4 L283.5 1223.4 L286.5 1223.4 L289.5 1223.4 L292.5 1223.4 L295.5 1223.4 L298.5 1223.4 L301.5 1223.4 L304.5 1223.3 L307.5 1223.3 L310.5 1223.2 L313.5 1223.1 L316.5 1223.0 L319.5 1222.9 L322.5 1222.7 L325.5 1222.5 L328.5 1222.4 L331.5 1222.2 L334.5 1222.0 L337.5 1221.7 L340.5 1221.4 L343.5 1221.1 L346.4 1220.7 L349.4 1220.3 L352.4 1219.8 L355.3 1219.1 L358.2 1218.4 L361.1 1217.5 L363.9 1216.5 L366.6 1215.3 L369.3 1214.0 L371.8 1212.5 L374.3 1210.9 L376.7 1209.1 L379.1 1207.3 L381.4 1205.4 L383.7 1203.5 L386.0 1201.5 L388.3 1199.6 L390.6 1197.7 L392.9 1195.8 L395.3 1193.9 L397.6 1192.0 L400.0 1190.2 L402.4 1188.4 L404.8 1186.6 L407.2 1184.8 L409.6 1183.1 L412.1 1181.3 L414.6 1179.7 L417.1 1178.0 L419.6 1176.4 L422.2 1174.9 L424.8 1173.5 L427.5 1172.1 L430.2 1170.8 L432.9 1169.5 L435.7 1168.3 L438.4 1167.2 L441.2 1166.1 L444.0 1165.0 L446.8 1163.9 L449.6 1162.9 L452.5 1161.8 L455.3 1160.7 L458.1 1159.7 L460.9 1158.7 L463.8 1157.7 L466.6 1156.9 L469.5 1156.1 L472.4 1155.4 L475.3 1154.8 L478.3 1154.2 L481.2 1153.7 L484.2 1153.2 L487.2 1152.8 L490.1 1152.5 L493.1 1152.3 L496.1 1152.1 L499.1 1152.1 L502.1 1152.2 L505.1 1152.5 L508.1 1152.8 L511.0 1153.2 L514.0 1153.6 L516.9 1154.2 L519.9 1154.8 L522.8 1155.4 L525.7 1156.1 L528.7 1156.7 L531.6 1157.4 L534.5 1158.0 L537.5 1158.5 L540.4 1159.1 L543.4 1159.6 L546.3 1160.1 L549.3 1160.6 L552.3 1161.1 L555.2 1161.6 L558.2 1162.1 L561.1 1162.6 L564.1 1163.2 L567.0 1163.7 L570.0 1164.3 L572.9 1164.9 L575.9 1165.4 L578.8 1166.0 L581.8 1166.6 L584.7 1167.2 L587.6 1167.8 L590.6 1168.4 L593.5 1169.0 L596.5 1169.6 L599.4 1170.2 L602.3 1170.8 L605.3 1171.4 L608.2 1172.0 L611.2 1172.6 L614.1 1173.2 L617.0 1173.8 L620.0 1174.4 L622.9 1175.1 L625.8 1175.7 L628.8 1176.3 L631.7 1176.9 L634.7 1177.5 L637.6 1178.1 L640.5 1178.8 L643.5 1179.4 L646.4 1180.0 L649.3 1180.6 L652.3 1181.3 L655.2 1181.9 L658.1 1182.5 L661.1 1183.2 L664.0 1183.8 L666.9 1184.4 L669.9 1185.0 L672.8 1185.7 L675.7 1186.3 L678.7 1187.0 L681.6 1187.6 L684.5 1188.3 L687.5 1188.9 L690.4 1189.6 L693.3 1190.3 L696.2 1191.0 L699.2 1191.7 L702.1 1192.4 L705.0 1193.0 L707.9 1193.7 L710.9 1194.4 L713.8 1195.1 L716.7 1195.7 L719.7 1196.3 L722.6 1197.0 L725.5 1197.6 L728.5 1198.1 L731.4 1198.7 L734.4 1199.2 L737.3 1199.7 L740.3 1200.2 L743.2 1200.6 L746.2 1201.1 L749.2 1201.5 L752.1 1201.9 L755.1 1202.2 L758.1 1202.6 L761.1 1203.0 L764.1 1203.3 L767.0 1203.6 L770.0 1204.0 L773.0 1204.3 L776.0 1204.6 L779.0 1204.9 L782.0 1205.2 L785.0 1205.4 L787.9 1205.7 L790.9 1206.0 L793.9 1206.2 L796.9 1206.5 L799.9 1206.7 L802.9 1207.0 L805.9 1207.2 L808.9 1207.4 L811.9 1207.6 L814.9 1207.8 L817.9 1208.0 L820.9 1208.2 L823.9 1208.4 L826.9 1208.6 L829.8 1208.8 L832.8 1209.0 L835.8 1209.2 L838.8 1209.3 L841.8 1209.5 L844.8 1209.6 L847.8 1209.8 L850.8 1209.9 L853.8 1210.0 L856.8 1210.0 L859.8 1210.0 L862.8 1210.0 L865.8 1210.0 L868.8 1210.0 L871.8 1210.0 L874.8 1209.9 L877.8 1209.9 L880.8 1209.8 L883.8 1209.7 L886.8 1209.7 L889.8 1209.6 L892.8 1209.5 L895.8 1209.4 L898.8 1209.3 L901.8 1209.2 L904.8 1209.1 L907.8 1209.0 L910.8 1208.9 L913.8 1208.7 L916.8 1208.6 L919.8 1208.4 L922.8 1208.3 L925.8 1208.1 L928.8 1207.9 L931.8 1207.6 L934.8 1207.4 L937.8 1207.1 L940.7 1206.8 L943.7 1206.4 L946.7 1206.0 L949.6 1205.6 L952.6 1205.1 L955.5 1204.5 L958.4 1203.9 L961.4 1203.2 L964.3 1202.5 L967.2 1201.8 L970.2 1201.1 L973.1 1200.3 L976.0 1199.5 L976.0 1208.5 L973.1 1209.3 L970.2 1210.1 L967.2 1210.8 L964.3 1211.5 L961.4 1212.2 L958.4 1212.9 L955.5 1213.5 L952.6 1214.1 L949.6 1214.6 L946.7 1215.0 L943.7 1215.4 L940.7 1215.8 L937.8 1216.1 L934.8 1216.4 L931.8 1216.6 L928.8 1216.9 L925.8 1217.1 L922.8 1217.3 L919.8 1217.4 L916.8 1217.6 L913.8 1217.7 L910.8 1217.9 L907.8 1218.0 L904.8 1218.1 L901.8 1218.2 L898.8 1218.3 L895.8 1218.4 L892.8 1218.5 L889.8 1218.6 L886.8 1218.7 L883.8 1218.7 L880.8 1218.8 L877.8 1218.9 L874.8 1218.9 L871.8 1219.0 L868.8 1219.0 L865.8 1219.0 L862.8 1219.0 L859.8 1219.0 L856.8 1219.0 L853.8 1219.0 L850.8 1218.9 L847.8 1218.8 L844.8 1218.6 L841.8 1218.5 L838.8 1218.3 L835.8 1218.2 L832.8 1218.0 L829.8 1217.8 L826.9 1217.6 L823.9 1217.4 L820.9 1217.2 L817.9 1217.0 L814.9 1216.8 L811.9 1216.6 L808.9 1216.4 L805.9 1216.2 L802.9 1216.0 L799.9 1215.7 L796.9 1215.5 L793.9 1215.2 L790.9 1215.0 L787.9 1214.7 L785.0 1214.4 L782.0 1214.2 L779.0 1213.9 L776.0 1213.6 L773.0 1213.3 L770.0 1213.0 L767.0 1212.6 L764.1 1212.3 L761.1 1212.0 L758.1 1211.6 L755.1 1211.2 L752.1 1210.9 L749.2 1210.5 L746.2 1210.1 L743.2 1209.6 L740.3 1209.2 L737.3 1208.7 L734.4 1208.2 L731.4 1207.7 L728.5 1207.1 L725.5 1206.6 L722.6 1206.0 L719.7 1205.3 L716.7 1204.7 L713.8 1204.1 L710.9 1203.4 L707.9 1202.7 L705.0 1202.0 L702.1 1201.4 L699.2 1200.7 L696.2 1200.0 L693.3 1199.3 L690.4 1198.6 L687.5 1197.9 L684.5 1197.3 L681.6 1196.6 L678.7 1196.0 L675.7 1195.3 L672.8 1194.7 L669.9 1194.0 L666.9 1193.4 L664.0 1192.8 L661.1 1192.2 L658.1 1191.5 L655.2 1190.9 L652.3 1190.3 L649.3 1189.6 L646.4 1189.0 L643.5 1188.4 L640.5 1187.8 L637.6 1187.1 L634.7 1186.5 L631.7 1185.9 L628.8 1185.3 L625.8 1184.7 L622.9 1184.1 L620.0 1183.4 L617.0 1182.8 L614.1 1182.2 L611.2 1181.6 L608.2 1181.0 L605.3 1180.4 L602.3 1179.8 L599.4 1179.2 L596.5 1178.6 L593.5 1178.0 L590.6 1177.4 L587.6 1176.8 L584.7 1176.2 L581.8 1175.6 L578.8 1175.0 L575.9 1174.4 L572.9 1173.9 L570.0 1173.3 L567.0 1172.7 L564.1 1172.2 L561.1 1171.6 L558.2 1171.1 L555.2 1170.6 L552.3 1170.1 L549.3 1169.6 L546.3 1169.1 L543.4 1168.6 L540.4 1168.1 L537.5 1167.5 L534.5 1167.0 L531.6 1166.4 L528.7 1165.7 L525.7 1165.1 L522.8 1164.4 L519.9 1163.8 L516.9 1163.2 L514.0 1162.6 L511.0 1162.2 L508.1 1161.8 L505.1 1161.5 L502.1 1161.2 L499.1 1161.1 L496.1 1161.1 L493.1 1161.3 L490.1 1161.5 L487.2 1161.8 L484.2 1162.2 L481.2 1162.7 L478.3 1163.2 L475.3 1163.8 L472.4 1164.4 L469.5 1165.1 L466.6 1165.9 L463.8 1166.7 L460.9 1167.7 L458.1 1168.7 L455.3 1169.7 L452.5 1170.8 L449.6 1171.9 L446.8 1172.9 L444.0 1174.0 L441.2 1175.1 L438.4 1176.2 L435.7 1177.3 L432.9 1178.5 L430.2 1179.8 L427.5 1181.1 L424.8 1182.5 L422.2 1183.9 L419.6 1185.4 L417.1 1187.0 L414.6 1188.7 L412.1 1190.3 L409.6 1192.1 L407.2 1193.8 L404.8 1195.6 L402.4 1197.4 L400.0 1199.2 L397.6 1201.0 L395.3 1202.9 L392.9 1204.8 L390.6 1206.7 L388.3 1208.6 L386.0 1210.5 L383.7 1212.5 L381.4 1214.4 L379.1 1216.3 L376.7 1218.1 L374.3 1219.9 L371.8 1221.5 L369.3 1223.0 L366.6 1224.3 L363.9 1225.5 L361.1 1226.5 L358.2 1227.4 L355.3 1228.1 L352.4 1228.8 L349.4 1229.3 L346.4 1229.7 L343.5 1230.1 L340.5 1230.4 L337.5 1230.7 L334.5 1231.0 L331.5 1231.2 L328.5 1231.4 L325.5 1231.5 L322.5 1231.7 L319.5 1231.9 L316.5 1232.0 L313.5 1232.1 L310.5 1232.2 L307.5 1232.3 L304.5 1232.3 L301.5 1232.4 L298.5 1232.4 L295.5 1232.4 L292.5 1232.4 L289.5 1232.4 L286.5 1232.4 L283.5 1232.4 L280.5 1232.4 L277.5 1232.4 L274.5 1232.4 L271.5 1232.4 L268.5 1232.4 L265.5 1232.3 L262.5 1232.3 L259.5 1232.3 L256.5 1232.3 L253.5 1232.3 L250.5 1232.2 L247.5 1232.2 L244.5 1232.2Z M414.1 1187.6 L411.7 1189.3 L409.3 1191.1 L406.9 1192.9 L404.5 1194.7 L402.1 1196.5 L399.8 1198.4 L397.4 1200.3 L395.1 1202.2 L392.8 1204.1 L390.5 1206.0 L388.2 1208.0 L385.9 1209.9 L383.6 1211.8 L381.2 1213.6 L378.8 1215.4 L369.8 1215.4 L372.2 1213.6 L374.6 1211.8 L376.9 1209.9 L379.2 1208.0 L381.5 1206.0 L383.8 1204.1 L386.1 1202.2 L388.4 1200.3 L390.8 1198.4 L393.1 1196.5 L395.5 1194.7 L397.9 1192.9 L400.3 1191.1 L402.7 1189.3 L405.1 1187.6Z"/>
</g>
<text transform="translate(202.3 1279.6) scale(1 1.050)" font-size="73.5" text-anchor="end" stroke="#ffffff" stroke-width="1.0" stroke-linejoin="round">0.0</text>
<text transform="translate(202.3 1179.3) scale(1 1.050)" font-size="73.5" text-anchor="end" stroke="#ffffff" stroke-width="1.0" stroke-linejoin="round">0.1</text>
<text transform="translate(202.3 1079.0) scale(1 1.050)" font-size="73.5" text-anchor="end" stroke="#ffffff" stroke-width="1.0" stroke-linejoin="round">0.2</text>
<text transform="translate(202.3 978.7) scale(1 1.050)" font-size="73.5" text-anchor="end" stroke="#ffffff" stroke-width="1.0" stroke-linejoin="round">0.3</text>
<text transform="translate(202.3 878.4) scale(1 1.050)" font-size="73.5" text-anchor="end" stroke="#ffffff" stroke-width="1.0" stroke-linejoin="round">0.4</text>
<text transform="translate(202.3 778.0) scale(1 1.050)" font-size="73.5" text-anchor="end" stroke="#ffffff" stroke-width="1.0" stroke-linejoin="round">0.5</text>
<text transform="translate(202.3 677.7) scale(1 1.050)" font-size="73.5" text-anchor="end" stroke="#ffffff" stroke-width="1.0" stroke-linejoin="round">0.6</text>
<text transform="translate(202.3 577.4) scale(1 1.050)" font-size="73.5" text-anchor="end" stroke="#ffffff" stroke-width="1.0" stroke-linejoin="round">0.7</text>
<text transform="translate(202.3 477.1) scale(1 1.050)" font-size="73.5" text-anchor="end" stroke="#ffffff" stroke-width="1.0" stroke-linejoin="round">0.8</text>
<text transform="translate(202.3 376.8) scale(1 1.050)" font-size="73.5" text-anchor="end" stroke="#ffffff" stroke-width="1.0" stroke-linejoin="round">0.9</text>
<text transform="translate(202.3 276.4) scale(1 1.050)" font-size="73.5" text-anchor="end" stroke="#ffffff" stroke-width="1.0" stroke-linejoin="round">1.0</text>
<text transform="translate(202.3 176.1) scale(1 1.050)" font-size="73.5" text-anchor="end" stroke="#ffffff" stroke-width="1.0" stroke-linejoin="round">1.1</text>
<text transform="translate(202.3 75.8) scale(1 1.050)" font-size="73.5" text-anchor="end" stroke="#ffffff" stroke-width="1.0" stroke-linejoin="round">1.2</text>
<text transform="translate(427.2 1407.0) scale(1 1.050)" font-size="73.5" text-anchor="middle" stroke="#ffffff" stroke-width="1.0" stroke-linejoin="round">-50</text>
<text transform="translate(731.6 1407.0) scale(1 1.050)" font-size="73.5" text-anchor="middle" stroke="#ffffff" stroke-width="1.0" stroke-linejoin="round">0</text>
<text transform="translate(1036.1 1407.0) scale(1 1.050)" font-size="73.5" text-anchor="middle" stroke="#ffffff" stroke-width="1.0" stroke-linejoin="round">50</text>
<text transform="translate(1340.6 1407.0) scale(1 1.050)" font-size="73.5" text-anchor="middle" stroke="#ffffff" stroke-width="1.0" stroke-linejoin="round">100</text>
<text transform="translate(1645.0 1407.0) scale(1 1.050)" font-size="73.5" text-anchor="middle" stroke="#ffffff" stroke-width="1.0" stroke-linejoin="round">150</text>
<text transform="translate(1949.5 1407.0) scale(1 1.050)" font-size="73.5" text-anchor="middle" stroke="#ffffff" stroke-width="1.0" stroke-linejoin="round">200</text>
<text transform="translate(1097.0 1527.0) scale(1 1.040)" font-size="73.5" text-anchor="middle" stroke="#ffffff" stroke-width="1.0" stroke-linejoin="round">Temp. (Cel)</text>
<text transform="translate(60 703) rotate(-90) scale(1 1.100)" font-size="73.5" text-anchor="middle" stroke="#ffffff" stroke-width="1.8" stroke-linejoin="round">tan</text>
<g stroke-width="9" fill="none">
<path stroke="#000000" d="M1508.5 126.7 H1669"/>
<path stroke="#ff0000" d="M1508.5 210.8 H1669"/>
<path stroke="#00ff00" d="M1508.5 295.0 H1669"/>
<path stroke="#ff8000" d="M1508.5 379.1 H1669"/>
<path stroke="#00ffff" d="M1508.5 463.2 H1669"/>
<path stroke="#ff00ff" d="M1508.5 547.4 H1669"/>
<path stroke="#808000" d="M1508.5 631.5 H1669"/>
<path stroke="#000080" d="M1508.5 715.6 H1669"/>
</g>
<text transform="translate(1681.0 150.2) scale(1 1.030)" font-size="66.0" text-anchor="start" stroke="#ffffff" stroke-width="1.0" stroke-linejoin="round">PET</text>
<text transform="translate(1681.0 234.3) scale(1 1.030)" font-size="66.0" text-anchor="start" stroke="#ffffff" stroke-width="1.0" stroke-linejoin="round">30C</text>
<text transform="translate(1681.0 318.5) scale(1 1.030)" font-size="66.0" text-anchor="start" stroke="#ffffff" stroke-width="1.0" stroke-linejoin="round">30CG2</text>
<text transform="translate(1681.0 402.6) scale(1 1.030)" font-size="66.0" text-anchor="start" stroke="#ffffff" stroke-width="1.0" stroke-linejoin="round">30CB2</text>
<text transform="translate(1681.0 486.7) scale(1 1.030)" font-size="66.0" text-anchor="start" stroke="#ffffff" stroke-width="1.0" stroke-linejoin="round">30CN</text>
<text transform="translate(1681.0 570.9) scale(1 1.030)" font-size="66.0" text-anchor="start" stroke="#ffffff" stroke-width="1.0" stroke-linejoin="round">30CNG2</text>
<text transform="translate(1681.0 655.0) scale(1 1.030)" font-size="66.0" text-anchor="start" stroke="#ffffff" stroke-width="1.0" stroke-linejoin="round">30CNB2</text>
<text transform="translate(1681.0 739.1) scale(1 1.030)" font-size="66.0" text-anchor="start" stroke="#ffffff" stroke-width="1.0" stroke-linejoin="round">PCL</text>
</svg>
</body></html>
